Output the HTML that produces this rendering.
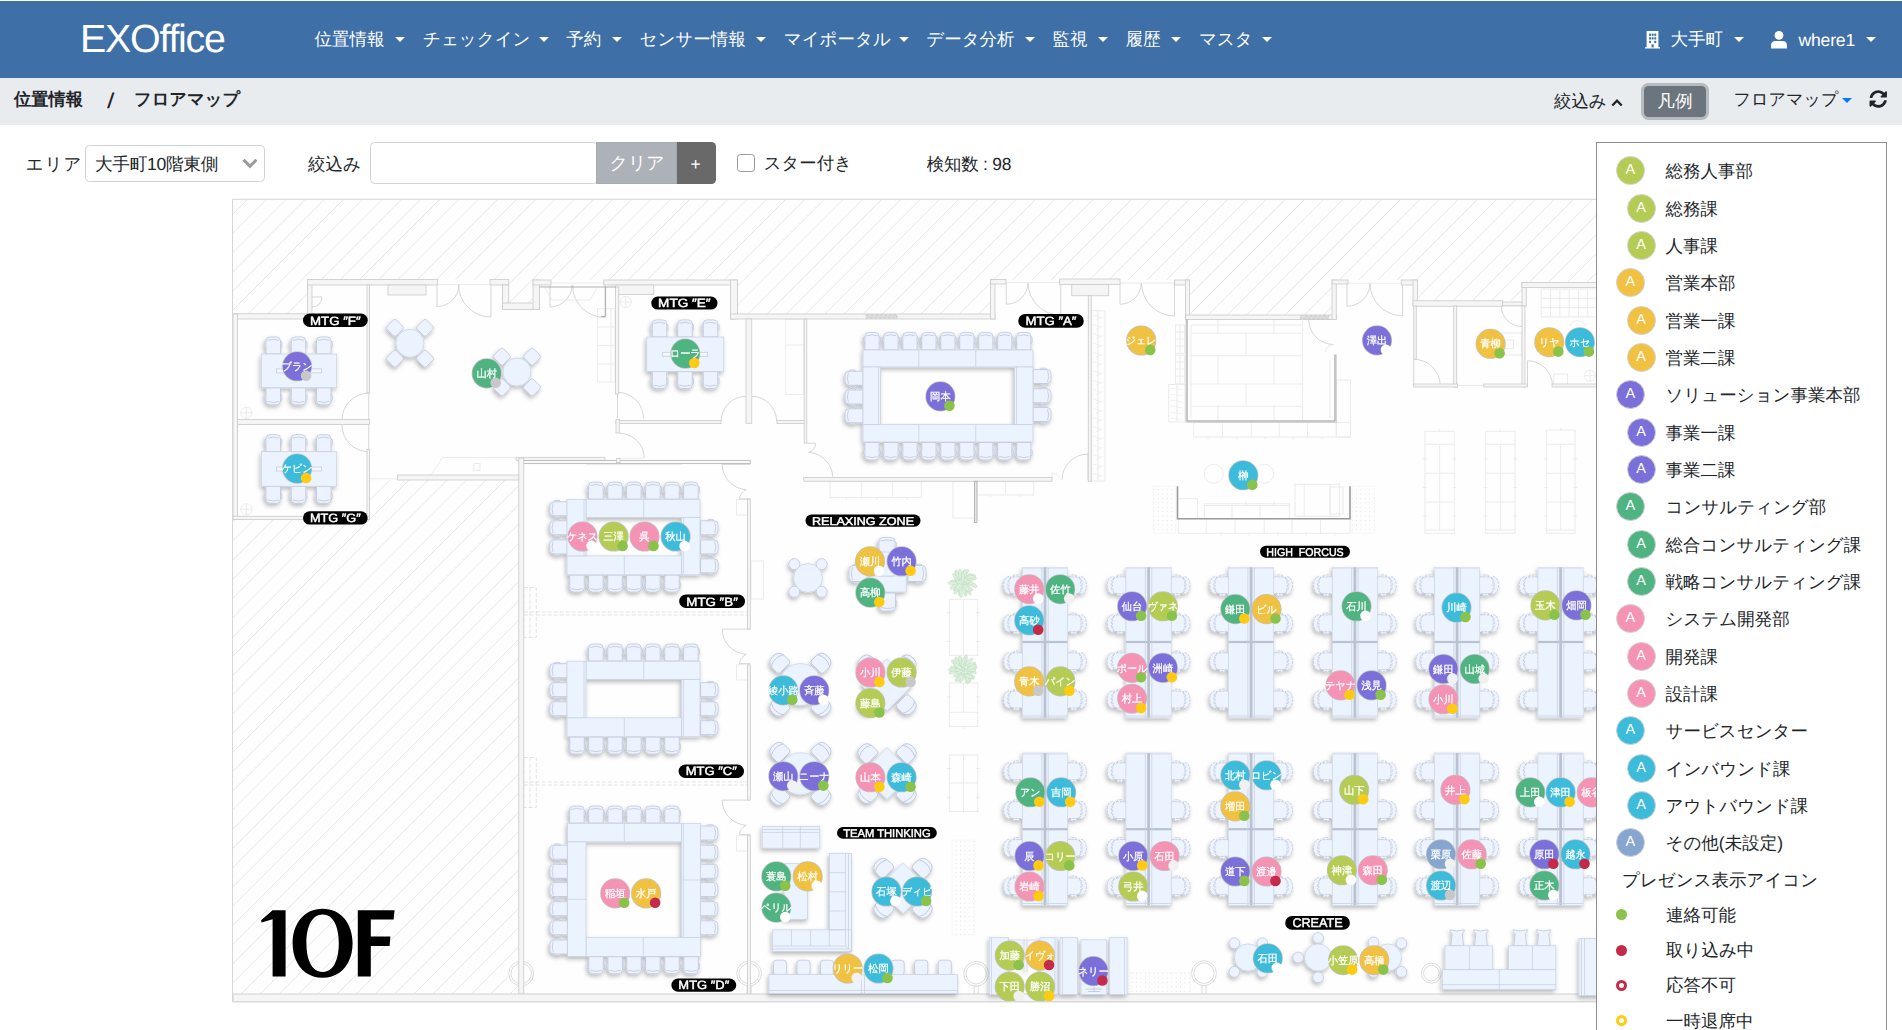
<!DOCTYPE html>
<html lang="ja"><head><meta charset="utf-8"><title>EXOffice フロアマップ</title>
<style>
*{box-sizing:border-box}
html,body{margin:0;padding:0}
body{text-rendering:geometricPrecision;width:1902px;height:1030px;overflow:hidden;background:#fff;position:relative;font-family:"Liberation Sans",sans-serif;color:#212529}
#nav{position:absolute;left:0;top:1px;width:1902px;height:77px;background:#3e6fa6}
#crumb{position:absolute;left:0;top:78px;width:1902px;height:46.5px;background:#e9ecef}
span{position:absolute;white-space:nowrap;line-height:20px;height:20px}
.nv{color:#fff}
.b{font-weight:bold}
.caret{position:absolute;width:0;height:0;border-left:5px solid transparent;border-right:5px solid transparent;border-top:5px solid #fff}
#brand{position:absolute;left:80px;top:16.6px;font-size:39.4px;line-height:44px;height:44px;color:#fff;letter-spacing:-1.25px;font-weight:normal}
.box{position:absolute;background:#fff;border:1px solid #ced4da;border-radius:4.5px}
#clear{position:absolute;left:596px;top:142px;width:80.5px;height:41.5px;background:#adb2b9;border:1px solid #a6abb2}
#plus{position:absolute;left:676.5px;top:142px;width:39px;height:41.5px;background:#696969;border-radius:0 4.5px 4.5px 0}
#chk{position:absolute;left:737px;top:154px;width:17.5px;height:17.5px;border:1px solid #9a9a9a;border-radius:3.5px;background:#fff}
#legbtn{position:absolute;left:1643.5px;top:85.5px;width:62.5px;height:31px;background:#6c757d;border-radius:4.5px;box-shadow:0 0 0 3px rgba(130,138,145,.5)}
#legend{position:absolute;left:1596px;top:142px;width:290.5px;height:900px;background:#fff;border:1px solid #8e8e8e}
#map{position:absolute;left:0;top:0}
.lc{position:absolute;width:29px;height:29px;border-radius:50%;border:1px solid #d2d2d2;color:#fff;font-size:14.5px;line-height:26.5px;text-align:center;font-weight:normal}
.sd{position:absolute;width:11px;height:11px;border-radius:50%}
</style></head><body>
<div id="nav"></div>
<div id="brand">EXOffice</div>
<span class="nv" style="left:314.5px;top:29.15px;font-size:17.5px;">位置情報</span>
<i class="caret" style="left:395px;top:37.2px;border-top-color:#fff"></i>
<span class="nv" style="left:423px;top:29.15px;font-size:17.5px;">チェックイン</span>
<i class="caret" style="left:538.75px;top:37.2px;border-top-color:#fff"></i>
<span class="nv" style="left:566.25px;top:29.15px;font-size:17.5px;">予約</span>
<i class="caret" style="left:612px;top:37.2px;border-top-color:#fff"></i>
<span class="nv" style="left:639.5px;top:29.15px;font-size:17.5px;">センサー情報</span>
<i class="caret" style="left:755.5px;top:37.2px;border-top-color:#fff"></i>
<span class="nv" style="left:783.75px;top:29.15px;font-size:17.5px;">マイポータル</span>
<i class="caret" style="left:898.75px;top:37.2px;border-top-color:#fff"></i>
<span class="nv" style="left:926.25px;top:29.15px;font-size:17.5px;">データ分析</span>
<i class="caret" style="left:1024.5px;top:37.2px;border-top-color:#fff"></i>
<span class="nv" style="left:1052.5px;top:29.15px;font-size:17.5px;">監視</span>
<i class="caret" style="left:1097.5px;top:37.2px;border-top-color:#fff"></i>
<span class="nv" style="left:1125.5px;top:29.15px;font-size:17.5px;">履歴</span>
<i class="caret" style="left:1171px;top:37.2px;border-top-color:#fff"></i>
<span class="nv" style="left:1199px;top:29.15px;font-size:17.5px;">マスタ</span>
<i class="caret" style="left:1262px;top:37.2px;border-top-color:#fff"></i>
<svg style="position:absolute;left:1645px;top:31px" width="15" height="17.5" viewBox="0 0 15 17.5"><path d="M1.6 0H13.4V16.3H15V17.5H0V16.3H1.6Z" fill="#fff"/><g fill="#3e6fa6"><rect x="4.1" y="2.6" width="1.9" height="2.3"/><rect x="6.7" y="2.6" width="1.9" height="2.3"/><rect x="9.3" y="2.6" width="1.9" height="2.3"/><rect x="4.1" y="6.2" width="1.9" height="2.3"/><rect x="6.7" y="6.2" width="1.9" height="2.3"/><rect x="9.3" y="6.2" width="1.9" height="2.3"/><rect x="4.1" y="9.8" width="1.9" height="2.3"/><rect x="9.3" y="9.8" width="1.9" height="2.3"/><rect x="6.5" y="13.4" width="2.2" height="3"/></g></svg>
<span class="nv" style="left:1670.5px;top:29.15px;font-size:17.5px;">大手町</span>
<i class="caret" style="left:1734px;top:37.2px;border-top-color:#fff"></i>
<svg style="position:absolute;left:1770.5px;top:31px" width="16" height="17.5" viewBox="0 0 16 17.5"><circle cx="8" cy="4.4" r="4.4" fill="#fff"/><path d="M0 17.5V14.6Q0 10 4.6 10H11.4Q16 10 16 14.6V17.5Z" fill="#fff"/></svg>
<span class="nv" style="left:1798.5px;top:29.59px;font-size:17.6px;letter-spacing:-0.2px">where1</span>
<i class="caret" style="left:1866px;top:37.2px;border-top-color:#fff"></i>
<div id="crumb"></div>
<span class="b" style="left:14px;top:88.97px;font-size:17.3px;">位置情報</span>
<span class="b" style="left:107.2px;top:90.93px;font-size:21.5px;font-weight:normal;transform:scaleX(1.25);transform-origin:left">/</span>
<span class="b" style="left:134px;top:88.97px;font-size:17.3px;">フロアマップ</span>
<span style="left:1554px;top:90.91px;font-size:17.4px;">絞込み</span>
<svg style="position:absolute;left:1611px;top:97.5px" width="12" height="9" viewBox="0 0 12 9"><path d="M1.3 7.5L6 2.6L10.7 7.5" fill="none" stroke="#212529" stroke-width="2.3"/></svg>
<div id="legbtn"></div>
<span class="nv" style="left:1657.3px;top:90.99px;font-size:17.6px;">凡例</span>
<span style="left:1733.5px;top:90.08px;font-size:17.1px;">フロアマップ</span>
<i class="caret" style="left:1841.5px;top:98px;border-top-color:#007bff"></i>
<svg style="position:absolute;left:1869px;top:90px" width="18.5" height="18" viewBox="0 0 512 512"><path fill="#212529" d="M370.7 133.3C339.5 104 298.9 88 255.8 88c-77.5.1-144.3 53.2-162.8 126.900-1.300 5.400-6.100 9.200-11.700 9.200H24.100c-7.500 0-13.200-6.800-11.800-14.200C33.900 94.900 134.800 8 256 8c66.400 0 126.800 26.100 171.300 68.700L463 41C478.100 25.900 504 36.600 504 57.900V192c0 13.300-10.700 24-24 24H345.900c-21.400 0-32.100-25.900-17-41l41.800-41.700zM32 296h134.100c21.400 0 32.100 25.900 17 41l-41.800 41.800c31.300 29.300 71.800 45.300 114.900 45.300 77.400-.1 144.300-53.100 162.800-126.800 1.300-5.400 6.100-9.200 11.700-9.200h57.300c7.500 0 13.200 6.800 11.800 14.200C478.100 417.100 377.200 504 256 504c-66.400 0-126.800-26.100-171.300-68.700L49 471c-15.100 15.100-41 4.400-41-16.900V320c0-13.300 10.700-24 24-24z"/></svg>
<span style="left:25.8px;top:153.91px;font-size:17.4px;letter-spacing:1.1px">エリア</span>
<div class="box" style="left:84.5px;top:145px;width:180px;height:36.5px"></div>
<span style="left:95px;top:153.79px;font-size:17.6px;letter-spacing:-0.25px">大手町10階東側</span>
<svg style="position:absolute;left:242px;top:157.5px" width="16" height="11" viewBox="0 0 16 11"><path d="M1.6 1.8L8 8.4L14.4 1.8" fill="none" stroke="#9a9a9a" stroke-width="3"/></svg>
<span style="left:308px;top:153.85px;font-size:17.5px;">絞込み</span>
<div class="box" style="left:370px;top:142px;width:228px;height:41.5px"></div>
<div id="clear"></div>
<span class="nv" style="left:609.5px;top:152.76px;font-size:18px;">クリア</span>
<div id="plus"></div>
<span class="nv" style="left:690.6px;top:154.05px;font-size:17.5px;">+</span>
<div id="chk"></div>
<span style="left:763.75px;top:153.11px;font-size:17.4px;">スター付き</span>
<span style="left:926.75px;top:153.51px;font-size:17.4px;letter-spacing:-0.2px">検知数 : 98</span>
<svg id="map" width="1902" height="1030" viewBox="0 0 1902 1030">
<defs>
<clipPath id="mapclip"><rect x="232.5" y="199" width="1364" height="803.5"/></clipPath>
<clipPath id="hatchclip"><polygon points="233,199.5 1600,199.5 1600,282.5 1522,282.5 1522,300.75 1417.5,300.75 1417.5,280 1332,280 1332,315 1189.5,315 1189.5,280 990.5,280 990.5,314 737.5,314 737.5,280 533,280 533,303 508.75,303 508.75,279.5 307.5,279.5 307.5,313.75 233,313.75"/><polygon points="233,519.5 369.5,519.5 369.5,480 519,480 519,994 233,994"/></clipPath>
<pattern id="dots" width="4.4" height="4.4" patternUnits="userSpaceOnUse"><rect x="0.8" y="0.8" width="1" height="1" fill="#e0e0e0"/></pattern>
<filter id="sh" x="-5%" y="-5%" width="110%" height="110%"><feDropShadow dx="-1.2" dy="2.4" stdDeviation="2.2" flood-color="#000" flood-opacity=".27"/></filter>
</defs>
<style>
.w{fill:#f6f5f5;stroke:#cacaca;stroke-width:.8}
.w3{fill:#fafafa;stroke:#b5b5b5;stroke-width:.85}
.w2{fill:#e6e6e6;stroke:#a9a9a9;stroke-width:.8}
.wb{fill:#f5f5f5;stroke:#d2d2d2;stroke-width:1}
.mk{fill:#dcdcdc;stroke:#bdbdbd;stroke-width:.6;stroke-dasharray:3 1.5}
.t{fill:none;stroke:#e9e9e9;stroke-width:.9}
.t3{fill:none;stroke:#eeeeee;stroke-width:.8}
.td{fill:none;stroke:#e0e0e0;stroke-width:.9;stroke-dasharray:4 2}
.dot{fill:url(#dots);stroke:#ececec;stroke-width:.7;stroke-dasharray:1.5 1.5}
.col{fill:#fff;stroke:#dcdcdc;stroke-width:1}
.dr{fill:none;stroke:#cfcfcf;stroke-width:.85}
.dk{fill:none;stroke:#909090;stroke-width:1}
.dk4{fill:none;stroke:#a8a8a8;stroke-width:.9}
.dk2{fill:none;stroke:#c4c4c4;stroke-width:.8}
.dk3{fill:none;stroke:#9b9b9b;stroke-width:1.6}
.fu{fill:#ebf3fe;stroke:#c5cee2;stroke-width:.7}
.dk_{fill:#ebf3fe;stroke:#cdd5e6;stroke-width:.6}
.dtop{fill:#dde3ef}
.fu2{fill:#f3f6fc;stroke:#c3c9d6;stroke-width:.7}
.fl{fill:none;stroke:#c5cde0;stroke-width:.7}
.ch{fill:#ecf3fe;stroke:#b3bdd2;stroke-width:.65}
.chl{fill:none;stroke:#b3bdd2;stroke-width:.65}
.chd{fill:none;stroke:#b3bdd2;stroke-width:.65;stroke-dasharray:2.2 1.3}
.part{fill:#bac1d0}
.oc{fill:#eef4fe;stroke:#b4bdd0;stroke-width:.65;stroke-dasharray:2.6 1}
.pl ellipse{fill:#dcf1dc;stroke:#bad6be;stroke-width:.45}
.lb{fill:#000}
.lt{fill:#fff;stroke:#fff;stroke-width:.45;font-weight:normal;text-anchor:middle;font-family:"Liberation Sans",sans-serif}
.floor{fill:#000;font-weight:bold;font-size:92px;font-family:"Liberation Sans",sans-serif}
.pc{stroke:#c2c2c2;stroke-width:1.5;paint-order:stroke}
.pn{fill:#fff;stroke:#fff;stroke-width:.25;font-size:10.4px;text-anchor:middle;font-family:"Liberation Sans",sans-serif}
</style>
<g clip-path="url(#mapclip)">
<rect x="232.5" y="199" width="1364" height="803.5" fill="#fefefe"/>
<g clip-path="url(#hatchclip)"><path d="M-1331.9 1010L-511.9 190M-1312.68 1010L-492.68 190M-1293.46 1010L-473.46 190M-1274.24 1010L-454.24 190M-1255.02 1010L-435.02 190M-1235.8 1010L-415.8 190M-1216.58 1010L-396.58 190M-1197.36 1010L-377.36 190M-1178.14 1010L-358.14 190M-1158.92 1010L-338.92 190M-1139.7 1010L-319.7 190M-1120.48 1010L-300.48 190M-1101.26 1010L-281.26 190M-1082.04 1010L-262.04 190M-1062.82 1010L-242.82 190M-1043.6 1010L-223.6 190M-1024.38 1010L-204.38 190M-1005.16 1010L-185.16 190M-985.94 1010L-165.94 190M-966.72 1010L-146.72 190M-947.5 1010L-127.5 190M-928.28 1010L-108.28 190M-909.06 1010L-89.06 190M-889.84 1010L-69.84 190M-870.62 1010L-50.62 190M-851.4 1010L-31.4 190M-832.18 1010L-12.18 190M-812.96 1010L7.04 190M-793.74 1010L26.26 190M-774.52 1010L45.48 190M-755.3 1010L64.7 190M-736.08 1010L83.92 190M-716.86 1010L103.14 190M-697.64 1010L122.36 190M-678.42 1010L141.58 190M-659.2 1010L160.8 190M-639.98 1010L180.02 190M-620.76 1010L199.24 190M-601.54 1010L218.46 190M-582.32 1010L237.68 190M-563.1 1010L256.9 190M-543.88 1010L276.12 190M-524.66 1010L295.34 190M-505.44 1010L314.56 190M-486.22 1010L333.78 190M-467 1010L353 190M-447.78 1010L372.22 190M-428.56 1010L391.44 190M-409.34 1010L410.66 190M-390.12 1010L429.88 190M-370.9 1010L449.1 190M-351.68 1010L468.32 190M-332.46 1010L487.54 190M-313.24 1010L506.76 190M-294.02 1010L525.98 190M-274.8 1010L545.2 190M-255.58 1010L564.42 190M-236.36 1010L583.64 190M-217.14 1010L602.86 190M-197.92 1010L622.08 190M-178.7 1010L641.3 190M-159.48 1010L660.52 190M-140.26 1010L679.74 190M-121.04 1010L698.96 190M-101.82 1010L718.18 190M-82.6 1010L737.4 190M-63.38 1010L756.62 190M-44.16 1010L775.84 190M-24.94 1010L795.06 190M-5.72 1010L814.28 190M13.5 1010L833.5 190M32.72 1010L852.72 190M51.94 1010L871.94 190M71.16 1010L891.16 190M90.38 1010L910.38 190M109.6 1010L929.6 190M128.82 1010L948.82 190M148.04 1010L968.04 190M167.26 1010L987.26 190M186.48 1010L1006.48 190M205.7 1010L1025.7 190M224.92 1010L1044.92 190M244.14 1010L1064.14 190M263.36 1010L1083.36 190M282.58 1010L1102.58 190M301.8 1010L1121.8 190M321.02 1010L1141.02 190M340.24 1010L1160.24 190M359.46 1010L1179.46 190M378.68 1010L1198.68 190M397.9 1010L1217.9 190M417.12 1010L1237.12 190M436.34 1010L1256.34 190M455.56 1010L1275.56 190M474.78 1010L1294.78 190M494 1010L1314 190M513.22 1010L1333.22 190M532.44 1010L1352.44 190M551.66 1010L1371.66 190M570.88 1010L1390.88 190M590.1 1010L1410.1 190M609.32 1010L1429.32 190M628.54 1010L1448.54 190M647.76 1010L1467.76 190M666.98 1010L1486.98 190M686.2 1010L1506.2 190M705.42 1010L1525.42 190M724.64 1010L1544.64 190M743.86 1010L1563.86 190M763.08 1010L1583.08 190M782.3 1010L1602.3 190M801.52 1010L1621.52 190M820.74 1010L1640.74 190M839.96 1010L1659.96 190M859.18 1010L1679.18 190M878.4 1010L1698.4 190M897.62 1010L1717.62 190M916.84 1010L1736.84 190M936.06 1010L1756.06 190M955.28 1010L1775.28 190M974.5 1010L1794.5 190M993.72 1010L1813.72 190M1012.94 1010L1832.94 190M1032.16 1010L1852.16 190M1051.38 1010L1871.38 190M1070.6 1010L1890.6 190M1089.82 1010L1909.82 190M1109.04 1010L1929.04 190M1128.26 1010L1948.26 190M1147.48 1010L1967.48 190M1166.7 1010L1986.7 190M1185.92 1010L2005.92 190M1205.14 1010L2025.14 190M1224.36 1010L2044.36 190M1243.58 1010L2063.58 190M1262.8 1010L2082.8 190M1282.02 1010L2102.02 190M1301.24 1010L2121.24 190M1320.46 1010L2140.46 190M1339.68 1010L2159.68 190M1358.9 1010L2178.9 190M1378.12 1010L2198.12 190M1397.34 1010L2217.34 190M1416.56 1010L2236.56 190M1435.78 1010L2255.78 190M1455 1010L2275 190M1474.22 1010L2294.22 190M1493.44 1010L2313.44 190M1512.66 1010L2332.66 190M1531.88 1010L2351.88 190M1551.1 1010L2371.1 190M1570.32 1010L2390.32 190M1589.54 1010L2409.54 190M1608.76 1010L2428.76 190" fill="none" stroke="#e3e3e3" stroke-width=".9"/></g>
<g><path d="M586 464.6L682 464.6" class="t"/><path d="M617.6 458.3L644.2 458.3" class="t"/><path d="M370 478.75L397.5 478.75" class="t"/><path d="M431.25 475L442.5 457.5H516" class="t"/><rect x="473.75" y="463.5" width="6.25" height="7" class="t"/><path d="M523.75 612H748M523.75 615H748" class="td"/><path d="M523.75 782H748M523.75 785H748" class="td"/><rect x="523.75" y="587.5" width="12.5" height="50" class="td"/><path d="M530 587.5L530 637.5" class="td"/><rect x="523.75" y="757.5" width="12.5" height="50" class="td"/><path d="M530 757.5L530 807.5" class="td"/><rect x="736.5" y="499.6" width="11" height="15.4" class="t"/><rect x="736.5" y="664.8" width="11" height="15.2" class="t"/><rect x="736.5" y="835.7" width="11" height="15.3" class="t"/><rect x="751" y="561" width="12.5" height="38" class="t"/><rect x="785.75" y="319" width="18" height="75.5" class="t"/><path d="M785.75 345L803.75 345" class="t"/><rect x="597.5" y="308.75" width="17.5" height="73.25" class="t"/><path d="M597.5 327L615 327" class="t"/><path d="M597.5 345.5L615 345.5" class="t"/><path d="M597.5 364L615 364" class="t"/><path d="M611 308.75L611 382" class="t"/><rect x="1091.25" y="310.75" width="13.75" height="170.25" class="t"/><path d="M1093 315L1101 318M1096 320L1103 317" class="t3"/><path d="M1093 324.3L1101 327.3M1096 329.3L1103 326.3" class="t3"/><path d="M1093 333.6L1101 336.6M1096 338.6L1103 335.6" class="t3"/><path d="M1093 342.9L1101 345.9M1096 347.9L1103 344.9" class="t3"/><path d="M1093 352.2L1101 355.2M1096 357.2L1103 354.2" class="t3"/><path d="M1093 361.5L1101 364.5M1096 366.5L1103 363.5" class="t3"/><path d="M1093 370.8L1101 373.8M1096 375.8L1103 372.8" class="t3"/><path d="M1093 380.1L1101 383.1M1096 385.1L1103 382.1" class="t3"/><path d="M1093 389.4L1101 392.4M1096 394.4L1103 391.4" class="t3"/><path d="M1093 398.7L1101 401.7M1096 403.7L1103 400.7" class="t3"/><path d="M1093 408L1101 411M1096 413L1103 410" class="t3"/><path d="M1093 417.3L1101 420.3M1096 422.3L1103 419.3" class="t3"/><path d="M1093 426.6L1101 429.6M1096 431.6L1103 428.6" class="t3"/><path d="M1093 435.9L1101 438.9M1096 440.9L1103 437.9" class="t3"/><path d="M1093 445.2L1101 448.2M1096 450.2L1103 447.2" class="t3"/><path d="M1093 454.5L1101 457.5M1096 459.5L1103 456.5" class="t3"/><path d="M1093 463.8L1101 466.8M1096 468.8L1103 465.8" class="t3"/><path d="M1093 473.1L1101 476.1M1096 478.1L1103 475.1" class="t3"/><path d="M1098 310.75L1098 481" class="t"/><rect x="1175.5" y="325" width="9" height="28.25" class="t"/><path d="M1180 325L1180 353.25" class="t"/><path d="M1175.5 332.06L1184.5 332.06" class="t"/><path d="M1175.5 339.12L1184.5 339.12" class="t"/><path d="M1175.5 346.18L1184.5 346.18" class="t"/><rect x="1175.5" y="355" width="9" height="28.25" class="t"/><path d="M1180 355L1180 383.25" class="t"/><path d="M1175.5 362.06L1184.5 362.06" class="t"/><path d="M1175.5 369.12L1184.5 369.12" class="t"/><path d="M1175.5 376.18L1184.5 376.18" class="t"/><rect x="1168.75" y="384.5" width="16.25" height="37.5" class="t"/><path d="M1170 388L1183 390" class="t3"/><path d="M1170 394L1183 396" class="t3"/><path d="M1170 400L1183 402" class="t3"/><path d="M1170 406L1183 408" class="t3"/><path d="M1170 412L1183 414" class="t3"/><path d="M1170 418L1183 420" class="t3"/><path d="M1177 384.5L1177 422" class="t"/><path d="M1191 333.25L1302.5 333.25" class="t"/><path d="M1191 355.75L1302.5 355.75" class="t"/><path d="M1191 384L1302.5 384" class="t"/><path d="M1191 406.25L1302.5 406.25" class="t"/><path d="M1191 325L1191 418" class="t"/><path d="M1302.5 319.5L1302.5 418" class="t"/><path d="M1330 360L1330 418" class="t"/><path d="M1191 325L1302.5 325" class="t"/><path d="M1218 319.5L1218 333" class="t"/><path d="M1246 333L1246 356" class="t"/><path d="M1274 319.5L1274 333" class="t"/><path d="M1218 356L1218 384" class="t"/><path d="M1274 356L1274 384" class="t"/><path d="M1246 384L1246 406" class="t"/><path d="M1218 406L1218 420" class="t"/><path d="M1274 406L1274 420" class="t"/><path d="M1302.5 406L1302.5 420" class="t"/><rect x="1193.75" y="422.5" width="156.75" height="14.5" class="t"/><path d="M1222.5 422.5L1222.5 437" class="t"/><path d="M1251.25 422.5L1251.25 437" class="t"/><path d="M1279.25 422.5L1279.25 437" class="t"/><path d="M1307.5 422.5L1307.5 437" class="t"/><path d="M1336.25 422.5L1336.25 437" class="t"/><rect x="1336.25" y="380" width="14.25" height="57" class="t"/><path d="M1208 437L1208 439" class="t"/><path d="M1236.5 437L1236.5 439" class="t"/><path d="M1265 437L1265 439" class="t"/><path d="M1293.5 437L1293.5 439" class="t"/><path d="M1322 437L1322 439" class="t"/><rect x="1177.5" y="498.75" width="20" height="20" class="t"/><rect x="1204.25" y="503.75" width="85" height="15" class="t"/><path d="M1232 503.75L1232 518.75" class="t"/><path d="M1260 503.75L1260 518.75" class="t"/><path d="M1204.25 505.5L1289.25 505.5" class="t"/><path d="M1246 501.5L1246 505.5" class="t"/><path d="M1274 501.5L1274 505.5" class="t"/><rect x="1295" y="484.25" width="44.5" height="32" class="t"/><path d="M1304.25 484.25L1304.25 516.25" class="t"/><path d="M1330 484.25L1330 516.25" class="t"/><rect x="1330" y="487" width="13" height="27" class="t"/><rect x="1178.25" y="518.75" width="171.75" height="14.5" class="t"/><path d="M1206.25 518.75L1206.25 533.25" class="t"/><path d="M1235 518.75L1235 533.25" class="t"/><path d="M1264.25 518.75L1264.25 533.25" class="t"/><path d="M1292 518.75L1292 533.25" class="t"/><path d="M1320.5 518.75L1320.5 533.25" class="t"/><path d="M1221 533.25L1221 535.5" class="t"/><path d="M1249 533.25L1249 535.5" class="t"/><path d="M1278 533.25L1278 535.5" class="t"/><path d="M1306 533.25L1306 535.5" class="t"/><path d="M1335 533.25L1335 535.5" class="t"/><rect x="1153.25" y="486.25" width="22.5" height="47" class="dot"/><rect x="1352" y="486.25" width="22.5" height="47" class="dot"/><rect x="952" y="840" width="22.8" height="95" class="dot"/><rect x="1130" y="972.5" width="60.5" height="21.5" class="dot"/><circle cx="1213.75" cy="473.75" r="9.5" class="t"/><circle cx="1264.25" cy="473.75" r="9.5" class="t"/><rect x="1425" y="431.25" width="29.25" height="102" class="t"/><path d="M1439.62 444.25L1439.62 530" class="t"/><path d="M1425 444.25L1454.25 444.25" class="t"/><path d="M1425 473.25L1454.25 473.25" class="t"/><path d="M1425 502L1454.25 502" class="t"/><path d="M1425 530L1454.25 530" class="t"/><path d="M1423 458.75L1426.5 458.75" class="t"/><path d="M1452.75 458.75L1456.25 458.75" class="t"/><path d="M1423 487.5L1426.5 487.5" class="t"/><path d="M1452.75 487.5L1456.25 487.5" class="t"/><path d="M1423 516L1426.5 516" class="t"/><path d="M1452.75 516L1456.25 516" class="t"/><path d="M1439.62 429.25L1439.62 432.25" class="t"/><rect x="1485.75" y="431.25" width="29.25" height="102" class="t"/><path d="M1500.38 444.25L1500.38 530" class="t"/><path d="M1485.75 444.25L1515 444.25" class="t"/><path d="M1485.75 473.25L1515 473.25" class="t"/><path d="M1485.75 502L1515 502" class="t"/><path d="M1485.75 530L1515 530" class="t"/><path d="M1483.75 458.75L1487.25 458.75" class="t"/><path d="M1513.5 458.75L1517 458.75" class="t"/><path d="M1483.75 487.5L1487.25 487.5" class="t"/><path d="M1513.5 487.5L1517 487.5" class="t"/><path d="M1483.75 516L1487.25 516" class="t"/><path d="M1513.5 516L1517 516" class="t"/><path d="M1500.38 429.25L1500.38 432.25" class="t"/><rect x="1546.25" y="430" width="28.75" height="103.25" class="t"/><path d="M1560.62 444.25L1560.62 530" class="t"/><path d="M1546.25 444.25L1575 444.25" class="t"/><path d="M1546.25 473.25L1575 473.25" class="t"/><path d="M1546.25 502L1575 502" class="t"/><path d="M1546.25 530L1575 530" class="t"/><path d="M1544.25 458.75L1547.75 458.75" class="t"/><path d="M1573.5 458.75L1577 458.75" class="t"/><path d="M1544.25 487.5L1547.75 487.5" class="t"/><path d="M1573.5 487.5L1577 487.5" class="t"/><path d="M1544.25 516L1547.75 516" class="t"/><path d="M1573.5 516L1577 516" class="t"/><path d="M1560.62 428L1560.62 431" class="t"/><path d="M1541.25 289L1541.25 317" class="t"/><path d="M1550.55 289L1550.55 317" class="t"/><path d="M1559.85 289L1559.85 317" class="t"/><path d="M1569.15 289L1569.15 317" class="t"/><path d="M1578.45 289L1578.45 317" class="t"/><path d="M1587.75 289L1587.75 317" class="t"/><path d="M1597.05 289L1597.05 317" class="t"/><path d="M1541.25 289L1600 289" class="t"/><path d="M1541.25 298.33L1600 298.33" class="t"/><path d="M1541.25 307.66L1600 307.66" class="t"/><path d="M1541.25 316.99L1600 316.99" class="t"/><rect x="1501" y="333" width="21" height="22" class="t"/><rect x="1505" y="340" width="8.5" height="8.5" class="t"/><rect x="1553.75" y="374" width="13.75" height="11" class="t"/><path d="M1570 326A8 8 0 0 1 1585 326" class="t"/><rect x="830" y="481.25" width="91.25" height="16.25" class="t"/><path d="M861.75 481.25L861.75 497.5" class="t"/><path d="M892.5 481.25L892.5 497.5" class="t"/><path d="M846 497.5L846 499.5" class="t"/><path d="M877 497.5L877 499.5" class="t"/><path d="M907 497.5L907 499.5" class="t"/><rect x="953" y="481.25" width="22" height="36.75" class="t"/><rect x="975" y="481.25" width="58.75" height="13.75" class="t"/><path d="M1005.5 481.25L1005.5 495" class="t"/><path d="M990 495L990 497" class="t"/><path d="M1020 495L1020 497" class="t"/><rect x="949.3" y="599.3" width="28.5" height="56" class="t"/><path d="M963.5 599.3L963.5 655.3" class="t"/><rect x="949.3" y="682.9" width="28.5" height="43.7" class="t"/><path d="M963.5 682.9L963.5 712.3" class="t"/><path d="M949.3 712.3L977.8 712.3" class="t"/><rect x="949.3" y="755" width="28.5" height="56.5" class="t"/><path d="M963.5 755L963.5 811.5" class="t"/><path d="M949.3 783L977.8 783" class="t"/><path d="M947 612.5L951 612.5" class="t"/><path d="M976 612.5L980 612.5" class="t"/><path d="M947 641.5L951 641.5" class="t"/><path d="M976 641.5L980 641.5" class="t"/><path d="M947 697L951 697" class="t"/><path d="M976 697L980 697" class="t"/><path d="M947 768.5L951 768.5" class="t"/><path d="M976 768.5L980 768.5" class="t"/><path d="M947 797.6L951 797.6" class="t"/><path d="M976 797.6L980 797.6" class="t"/><path d="M963.5 726.6L963.5 729" class="t"/><circle cx="246.4" cy="412.8" r="5.6" class="t"/><path d="M240.8 412.8L252 412.8" class="t"/><path d="M246.4 407.2L246.4 418.4" class="t"/><circle cx="246.4" cy="509.25" r="5.6" class="t"/><path d="M240.8 509.25L252 509.25" class="t"/><path d="M246.4 503.65L246.4 514.85" class="t"/><circle cx="625.75" cy="302" r="5.6" class="t"/><path d="M620.15 302L631.35 302" class="t"/><path d="M625.75 296.4L625.75 307.6" class="t"/><circle cx="1590" cy="375.75" r="5.6" class="t"/><path d="M1584.4 375.75L1595.6 375.75" class="t"/><path d="M1590 370.15L1590 381.35" class="t"/><circle cx="521.2" cy="973.5" r="12.4" class="col"/><circle cx="521.2" cy="973.5" r="10.2" class="col"/><rect x="519.2" y="985.9" width="4" height="8.1" class="col"/><circle cx="749.1" cy="973.5" r="12.4" class="col"/><circle cx="749.1" cy="973.5" r="10.2" class="col"/><rect x="747.1" y="985.9" width="4" height="8.1" class="col"/><circle cx="976.2" cy="973.8" r="12.4" class="col"/><circle cx="976.2" cy="973.8" r="10.2" class="col"/><rect x="974.2" y="986.2" width="4" height="7.8" class="col"/><circle cx="1204" cy="973.2" r="12.4" class="col"/><circle cx="1204" cy="973.2" r="10.2" class="col"/><rect x="1202" y="985.6" width="4" height="8.4" class="col"/><circle cx="1431.4" cy="973.2" r="10" class="col"/><circle cx="1431.4" cy="973.2" r="7.8" class="col"/><path d="M437 284.5L437 306.5A22 22 0 0 0 459 284.5" class="dr"/><path d="M491 284.5L491 317A32.5 32.5 0 0 1 458.5 284.5" class="dr"/><path d="M550 285L550 307A22 22 0 0 0 572 285" class="dr"/><path d="M605 285L605 317.5A32.5 32.5 0 0 1 572.5 285" class="dr"/><path d="M539.5 283L605 283" class="t"/><path d="M545 288L552 300H590L597 288" class="t"/><path d="M1006.25 282.5L1006.25 304.25A21.75 21.75 0 0 0 1028 282.5" class="dr"/><path d="M1060.75 282.5L1060.75 315.25A32.75 32.75 0 0 1 1028 282.5" class="dr"/><path d="M1120 283L1120 304.25A21.25 21.25 0 0 0 1141.25 283" class="dr"/><path d="M1174.5 283L1174.5 316A33 33 0 0 1 1141.5 283" class="dr"/><path d="M1347 283.25L1347 306.25A23 23 0 0 0 1370 283.25" class="dr"/><path d="M1402.5 283.25L1402.5 315.75A32.5 32.5 0 0 1 1370 283.25" class="dr"/><path d="M437 284.5L491 284.5" class="t"/><path d="M1006.25 282.5L1060.75 282.5" class="t"/><path d="M1120 283L1174.5 283" class="t"/><path d="M1347 283.25L1402.5 283.25" class="t"/><path d="M312 297L322 297A10 10 0 0 1 312 307" class="dr"/><path d="M368.75 420L368.75 393.25A26.75 26.75 0 0 0 342 420" class="dr"/><path d="M368.75 425L368.75 451.75A26.75 26.75 0 0 1 342 425" class="dr"/><path d="M617.5 418.3L617.5 392.3A26 26 0 0 1 643.5 418.3" class="dr"/><path d="M619.6 433.4A24.6 24.6 0 0 1 644.2 458" class="dr"/><path d="M746 396.3A24.8 24.8 0 0 0 721.2 421.1" class="dr"/><path d="M751.8 396.3A24.8 24.8 0 0 1 776.6 421.1" class="dr"/><path d="M808.7 452.4A25.6 25.6 0 0 1 832.8 477.5" class="dr"/><path d="M806.8 443.2h8.5q1 6.5 -6.6 9.2" class="dr"/><path d="M1088 480L1088 454A26 26 0 0 0 1062 480" class="dr"/><path d="M1052 480v-7q5 0 8 5" class="t"/><path d="M750 464.4H722.1A25.5 25.5 0 0 0 746.3 489.6" class="dr"/><path d="M746.3 489.6q-6.5 3.5 -6.800 9.3h10.8" class="dr"/><path d="M750 629.1H722.1A25.5 25.5 0 0 0 746.3 654.3" class="dr"/><path d="M746.3 654.3q-6.5 3.5 -6.800 9.3h10.8" class="dr"/><path d="M750 800.1H722.1A25.5 25.5 0 0 0 746.3 825.3" class="dr"/><path d="M746.3 825.3q-6.5 3.5 -6.800 9.3h10.8" class="dr"/><path d="M1333.75 319.5L1308.75 319.5A25 25 0 0 0 1333.75 344.5" class="dr"/><path d="M1333.75 344.5q-8 1 -9 8" class="t"/><path d="M1413.75 385.75L1413.75 359.25A26.5 26.5 0 0 1 1440.25 385.75" class="dr"/><path d="M1522 305.75L1501.25 305.75A20.75 20.75 0 0 0 1522 326.5" class="dr"/><path d="M1527.5 385.75L1527.5 360.75A25 25 0 0 1 1552.5 385.75" class="dr"/><path d="M1457.5 385.5L1483.75 385.5" class="t"/></g>
<g><rect x="233" y="313.75" width="79" height="5.25" class="w"/><rect x="307.5" y="279.5" width="4.5" height="39.5" class="w"/><rect x="307.5" y="279.5" width="130" height="5.5" class="w"/><rect x="388" y="285" width="38" height="10" class="w"/><rect x="233" y="314" width="4.5" height="205.5" class="w"/><rect x="367" y="285" width="2.5" height="108" class="w"/><rect x="237.5" y="419.5" width="132" height="5" class="w"/><rect x="367" y="449.5" width="2.5" height="70" class="w"/><rect x="233" y="516.25" width="136.5" height="3.25" class="w"/><rect x="490" y="279.5" width="18.75" height="5.5" class="w"/><rect x="502.5" y="285" width="6.25" height="24.5" class="w"/><rect x="502.5" y="303" width="37" height="6.5" class="w"/><rect x="533" y="280" width="6.5" height="29.5" class="w"/><rect x="533" y="280" width="18" height="5" class="w"/><rect x="603.75" y="280" width="133.75" height="5" class="w"/><rect x="616" y="285" width="37.75" height="9.5" class="w"/><rect x="615.5" y="287" width="3.25" height="107" class="w"/><rect x="730.5" y="280" width="7" height="39" class="w"/><rect x="730.5" y="314" width="264.5" height="5" class="w"/><rect x="990.5" y="279.5" width="4.5" height="39.5" class="w"/><rect x="990.5" y="279.5" width="15.5" height="4.5" class="w"/><rect x="746" y="319" width="5.8" height="104.3" class="w"/><rect x="616" y="420.6" width="105" height="3" class="w"/><rect x="616" y="419.5" width="3.3" height="13.5" class="w"/><rect x="777" y="420.6" width="29.5" height="3" class="w"/><rect x="804.2" y="319" width="2.6" height="124" class="w"/><rect x="1059.5" y="279" width="60.5" height="5.5" class="w"/><rect x="1071.75" y="284.5" width="37" height="11.25" class="w"/><rect x="1088.25" y="295.75" width="3" height="185.5" class="w"/><rect x="803.75" y="477.5" width="248.25" height="3.75" class="w"/><rect x="1174.5" y="280" width="15" height="5" class="w"/><rect x="1185.5" y="280" width="4" height="39.5" class="w"/><rect x="1185.5" y="315" width="150.75" height="4.5" class="w"/><rect x="1332" y="280" width="4.25" height="39.5" class="w"/><rect x="1332" y="280" width="16" height="4" class="w"/><rect x="1401.25" y="280" width="16.25" height="5" class="w"/><rect x="1413" y="280" width="4.5" height="26.25" class="w"/><rect x="1413" y="300.75" width="89.5" height="5.5" class="w"/><rect x="1502.5" y="302" width="22.5" height="3.75" class="w"/><rect x="1522" y="282.5" width="4.25" height="23.5" class="w"/><rect x="1522" y="282.5" width="78" height="5" class="w"/><rect x="1413.75" y="306" width="2.5" height="53" class="w"/><rect x="1453.75" y="306" width="3" height="81" class="w"/><rect x="1522" y="306" width="3" height="81" class="w"/><rect x="1413.75" y="384" width="43.75" height="3" class="w"/><rect x="1483.75" y="384" width="43.75" height="3" class="w"/><rect x="1552" y="384" width="48" height="3" class="w"/><rect x="516" y="457.3" width="89" height="3.2" class="w"/><rect x="519.8" y="460.4" width="230.4" height="3.2" class="w3"/><rect x="518.75" y="458" width="5" height="536" class="w"/><rect x="397.5" y="475" width="121.25" height="5" class="w"/><rect x="747.5" y="499" width="2.8" height="130" class="w"/><rect x="747.5" y="664.8" width="2.8" height="135.2" class="w"/><rect x="747.5" y="835.7" width="2.8" height="158.3" class="w"/><rect x="233" y="994" width="1367" height="7.5" class="wb"/><rect x="974.5" y="481.25" width="2.5" height="41.25" class="w2"/><rect x="616.5" y="458.4" width="3.5" height="4.2" class="w"/></g>
<g><rect x="866" y="314.8" width="31" height="3.4" class="mk"/><rect x="1300.5" y="315.6" width="28.25" height="3.2" class="mk"/><path d="M1187 319.5V421H1335V354.5" class="dk"/><path d="M1186 319.5V422.2H1336.3V354.5" class="dk2"/><path d="M1177.5 486.25V518.75H1350V486.25" class="dk3"/><path d="M539.5 287H616M605.6 287V316.5H601" class="dk4"/></g>
<g><g class="pl"><ellipse cx="971.77" cy="584.26" rx="5" ry="1.55" transform="rotate(30.12 971.77 584.26)"/><ellipse cx="964.57" cy="584.03" rx="5" ry="1.55" transform="rotate(20.54 964.57 584.03)"/><ellipse cx="964.3" cy="584.38" rx="5" ry="1.55" transform="rotate(47.14 964.3 584.38)"/><ellipse cx="965.59" cy="591.52" rx="5" ry="1.55" transform="rotate(87.05 965.59 591.52)"/><ellipse cx="960.57" cy="587.54" rx="5" ry="1.55" transform="rotate(114.62 960.57 587.54)"/><ellipse cx="957.5" cy="588.03" rx="5" ry="1.55" transform="rotate(151.4 957.5 588.03)"/><ellipse cx="954.09" cy="585.79" rx="5" ry="1.55" transform="rotate(139.6 954.09 585.79)"/><ellipse cx="958.1" cy="582.24" rx="5" ry="1.55" transform="rotate(203.56 958.1 582.24)"/><ellipse cx="960.11" cy="580.34" rx="5" ry="1.55" transform="rotate(203.69 960.11 580.34)"/><ellipse cx="957.5" cy="575.29" rx="5" ry="1.55" transform="rotate(242.56 957.5 575.29)"/><ellipse cx="964.11" cy="575.82" rx="5" ry="1.55" transform="rotate(295.35 964.11 575.82)"/><ellipse cx="965.38" cy="573.42" rx="5" ry="1.55" transform="rotate(304.71 965.38 573.42)"/><ellipse cx="970.17" cy="577.97" rx="5" ry="1.55" transform="rotate(312.56 970.17 577.97)"/><ellipse cx="967.18" cy="581.58" rx="5" ry="1.55" transform="rotate(350.14 967.18 581.58)"/><ellipse cx="965.63" cy="584.63" rx="5" ry="1.55" transform="rotate(416.47 965.63 584.63)"/><ellipse cx="968.22" cy="590.52" rx="5" ry="1.55" transform="rotate(419 968.22 590.52)"/><ellipse cx="964.45" cy="590.29" rx="5" ry="1.55" transform="rotate(447.77 964.45 590.29)"/><ellipse cx="960.35" cy="590.49" rx="5" ry="1.55" transform="rotate(461.88 960.35 590.49)"/><ellipse cx="956.92" cy="589.87" rx="5" ry="1.55" transform="rotate(481.31 956.92 589.87)"/><ellipse cx="960.26" cy="584.95" rx="5" ry="1.55" transform="rotate(489.15 960.26 584.95)"/><ellipse cx="955.09" cy="582.08" rx="5" ry="1.55" transform="rotate(550.09 955.09 582.08)"/><ellipse cx="955.89" cy="577.82" rx="5" ry="1.55" transform="rotate(595.15 955.89 577.82)"/><ellipse cx="961.69" cy="581.33" rx="5" ry="1.55" transform="rotate(606.4 961.69 581.33)"/><ellipse cx="962.84" cy="575.45" rx="5" ry="1.55" transform="rotate(640.87 962.84 575.45)"/><ellipse cx="965.31" cy="574.43" rx="5" ry="1.55" transform="rotate(620.53 965.31 574.43)"/><ellipse cx="967.84" cy="577.38" rx="5" ry="1.55" transform="rotate(676.42 967.84 577.38)"/><ellipse cx="971.52" cy="578.71" rx="5" ry="1.55" transform="rotate(715.05 971.52 578.71)"/><ellipse cx="973.02" cy="584.63" rx="5" ry="1.55" transform="rotate(749.46 973.02 584.63)"/><ellipse cx="968.54" cy="587.73" rx="5" ry="1.55" transform="rotate(753.54 968.54 587.73)"/><ellipse cx="966.25" cy="587.91" rx="5" ry="1.55" transform="rotate(767.02 966.25 587.91)"/><ellipse cx="960.78" cy="592.69" rx="5" ry="1.55" transform="rotate(805.72 960.78 592.69)"/><ellipse cx="960.59" cy="586.27" rx="5" ry="1.55" transform="rotate(845.94 960.59 586.27)"/><ellipse cx="958.42" cy="586.18" rx="5" ry="1.55" transform="rotate(850.06 958.42 586.18)"/><ellipse cx="952.9" cy="583.03" rx="5" ry="1.55" transform="rotate(901.17 952.9 583.03)"/><ellipse cx="960.58" cy="582.36" rx="5" ry="1.55" transform="rotate(910.84 960.58 582.36)"/><ellipse cx="957.43" cy="574.76" rx="5" ry="1.55" transform="rotate(974.2 957.43 574.76)"/><ellipse cx="960.13" cy="573.95" rx="5" ry="1.55" transform="rotate(989.93 960.13 573.95)"/><ellipse cx="962.84" cy="578.65" rx="5" ry="1.55" transform="rotate(993.63 962.84 578.65)"/><ellipse cx="966.96" cy="578.1" rx="5" ry="1.55" transform="rotate(1021.36 966.96 578.1)"/><ellipse cx="970.91" cy="576.95" rx="5" ry="1.55" transform="rotate(1068.81 970.91 576.95)"/></g><g class="pl"><ellipse cx="972.12" cy="669.55" rx="5" ry="1.55" transform="rotate(-24.29 972.12 669.55)"/><ellipse cx="970.76" cy="675.07" rx="5" ry="1.55" transform="rotate(56.51 970.76 675.07)"/><ellipse cx="966.74" cy="677.07" rx="5" ry="1.55" transform="rotate(52.2 966.74 677.07)"/><ellipse cx="966.51" cy="679.19" rx="5" ry="1.55" transform="rotate(79.91 966.51 679.19)"/><ellipse cx="962.06" cy="672.26" rx="5" ry="1.55" transform="rotate(128.14 962.06 672.26)"/><ellipse cx="961.36" cy="672.31" rx="5" ry="1.55" transform="rotate(104.32 961.36 672.31)"/><ellipse cx="953.75" cy="671.47" rx="5" ry="1.55" transform="rotate(159.44 953.75 671.47)"/><ellipse cx="955.14" cy="667.49" rx="5" ry="1.55" transform="rotate(182.28 955.14 667.49)"/><ellipse cx="960.98" cy="668.35" rx="5" ry="1.55" transform="rotate(190.88 960.98 668.35)"/><ellipse cx="958.23" cy="661.56" rx="5" ry="1.55" transform="rotate(236.28 958.23 661.56)"/><ellipse cx="962.68" cy="664.87" rx="5" ry="1.55" transform="rotate(270.17 962.68 664.87)"/><ellipse cx="965.93" cy="664.28" rx="5" ry="1.55" transform="rotate(317.01 965.93 664.28)"/><ellipse cx="971.58" cy="665.75" rx="5" ry="1.55" transform="rotate(319.56 971.58 665.75)"/><ellipse cx="968.27" cy="668.45" rx="5" ry="1.55" transform="rotate(322.36 968.27 668.45)"/><ellipse cx="971.64" cy="670.94" rx="5" ry="1.55" transform="rotate(386.52 971.64 670.94)"/><ellipse cx="968.57" cy="677.7" rx="5" ry="1.55" transform="rotate(434.18 968.57 677.7)"/><ellipse cx="967.23" cy="677.44" rx="5" ry="1.55" transform="rotate(440.19 967.23 677.44)"/><ellipse cx="962.67" cy="672.8" rx="5" ry="1.55" transform="rotate(457.04 962.67 672.8)"/><ellipse cx="958.75" cy="677.23" rx="5" ry="1.55" transform="rotate(489.46 958.75 677.23)"/><ellipse cx="957.49" cy="673.65" rx="5" ry="1.55" transform="rotate(502.25 957.49 673.65)"/><ellipse cx="958.32" cy="669.12" rx="5" ry="1.55" transform="rotate(550.35 958.32 669.12)"/><ellipse cx="955.18" cy="663.62" rx="5" ry="1.55" transform="rotate(581.83 955.18 663.62)"/><ellipse cx="956.99" cy="663.42" rx="5" ry="1.55" transform="rotate(586.39 956.99 663.42)"/><ellipse cx="960.83" cy="661.6" rx="5" ry="1.55" transform="rotate(619.85 960.83 661.6)"/><ellipse cx="965.64" cy="659.68" rx="5" ry="1.55" transform="rotate(638.32 965.64 659.68)"/><ellipse cx="970.67" cy="664.77" rx="5" ry="1.55" transform="rotate(711.84 970.67 664.77)"/><ellipse cx="972.31" cy="667.54" rx="5" ry="1.55" transform="rotate(719.18 972.31 667.54)"/><ellipse cx="971.03" cy="670.02" rx="5" ry="1.55" transform="rotate(721.09 971.03 670.02)"/><ellipse cx="970.1" cy="675.84" rx="5" ry="1.55" transform="rotate(740.83 970.1 675.84)"/><ellipse cx="967.91" cy="676.09" rx="5" ry="1.55" transform="rotate(746.33 967.91 676.09)"/><ellipse cx="962.37" cy="678.2" rx="5" ry="1.55" transform="rotate(840.34 962.37 678.2)"/><ellipse cx="959.64" cy="677.99" rx="5" ry="1.55" transform="rotate(859.74 959.64 677.99)"/><ellipse cx="960.88" cy="671.02" rx="5" ry="1.55" transform="rotate(862.89 960.88 671.02)"/><ellipse cx="953" cy="669.73" rx="5" ry="1.55" transform="rotate(900.17 953 669.73)"/><ellipse cx="959.82" cy="669.25" rx="5" ry="1.55" transform="rotate(885.54 959.82 669.25)"/><ellipse cx="957.79" cy="666.25" rx="5" ry="1.55" transform="rotate(936.13 957.79 666.25)"/><ellipse cx="960.53" cy="660.97" rx="5" ry="1.55" transform="rotate(978.35 960.53 660.97)"/><ellipse cx="963.27" cy="661.78" rx="5" ry="1.55" transform="rotate(1005.88 963.27 661.78)"/><ellipse cx="968.85" cy="661.78" rx="5" ry="1.55" transform="rotate(1039.97 968.85 661.78)"/><ellipse cx="972.08" cy="667.17" rx="5" ry="1.55" transform="rotate(1053.8 972.08 667.17)"/></g></g>
<g filter="url(#sh)"><g transform="translate(273.25 345.4) rotate(0)"><rect x="-8.55" y="-4" width="1.9" height="6" rx="0.9" class="ch"/><rect x="6.65" y="-4" width="1.9" height="6" rx="0.9" class="ch"/><path d="M-7.25 8.5V-4.5Q-7.25 -8.5 -3.25 -8.5H3.25Q7.25 -8.5 7.25 -4.5V8.5Z" class="ch"/><path d="M-5.75 -5.1Q0 -7.1 5.75 -5.1" class="chl"/></g><g transform="translate(273.25 396.35) rotate(180)"><rect x="-8.55" y="-4" width="1.9" height="6" rx="0.9" class="ch"/><rect x="6.65" y="-4" width="1.9" height="6" rx="0.9" class="ch"/><path d="M-7.25 8.5V-4.5Q-7.25 -8.5 -3.25 -8.5H3.25Q7.25 -8.5 7.25 -4.5V8.5Z" class="ch"/><path d="M-5.75 -5.1Q0 -7.1 5.75 -5.1" class="chl"/></g><g transform="translate(298.5 345.4) rotate(0)"><rect x="-8.55" y="-4" width="1.9" height="6" rx="0.9" class="ch"/><rect x="6.65" y="-4" width="1.9" height="6" rx="0.9" class="ch"/><path d="M-7.25 8.5V-4.5Q-7.25 -8.5 -3.25 -8.5H3.25Q7.25 -8.5 7.25 -4.5V8.5Z" class="ch"/><path d="M-5.75 -5.1Q0 -7.1 5.75 -5.1" class="chl"/></g><g transform="translate(298.5 396.35) rotate(180)"><rect x="-8.55" y="-4" width="1.9" height="6" rx="0.9" class="ch"/><rect x="6.65" y="-4" width="1.9" height="6" rx="0.9" class="ch"/><path d="M-7.25 8.5V-4.5Q-7.25 -8.5 -3.25 -8.5H3.25Q7.25 -8.5 7.25 -4.5V8.5Z" class="ch"/><path d="M-5.75 -5.1Q0 -7.1 5.75 -5.1" class="chl"/></g><g transform="translate(323.75 345.4) rotate(0)"><rect x="-8.55" y="-4" width="1.9" height="6" rx="0.9" class="ch"/><rect x="6.65" y="-4" width="1.9" height="6" rx="0.9" class="ch"/><path d="M-7.25 8.5V-4.5Q-7.25 -8.5 -3.25 -8.5H3.25Q7.25 -8.5 7.25 -4.5V8.5Z" class="ch"/><path d="M-5.75 -5.1Q0 -7.1 5.75 -5.1" class="chl"/></g><g transform="translate(323.75 396.35) rotate(180)"><rect x="-8.55" y="-4" width="1.9" height="6" rx="0.9" class="ch"/><rect x="6.65" y="-4" width="1.9" height="6" rx="0.9" class="ch"/><path d="M-7.25 8.5V-4.5Q-7.25 -8.5 -3.25 -8.5H3.25Q7.25 -8.5 7.25 -4.5V8.5Z" class="ch"/><path d="M-5.75 -5.1Q0 -7.1 5.75 -5.1" class="chl"/></g><rect x="261.25" y="354" width="75.5" height="33.75" class="fu"/><rect x="276.5" y="368.88" width="45" height="4" class="fu2"/><g transform="translate(273.25 443.15) rotate(0)"><rect x="-8.55" y="-4" width="1.9" height="6" rx="0.9" class="ch"/><rect x="6.65" y="-4" width="1.9" height="6" rx="0.9" class="ch"/><path d="M-7.25 8.5V-4.5Q-7.25 -8.5 -3.25 -8.5H3.25Q7.25 -8.5 7.25 -4.5V8.5Z" class="ch"/><path d="M-5.75 -5.1Q0 -7.1 5.75 -5.1" class="chl"/></g><g transform="translate(273.25 494.85) rotate(180)"><rect x="-8.55" y="-4" width="1.9" height="6" rx="0.9" class="ch"/><rect x="6.65" y="-4" width="1.9" height="6" rx="0.9" class="ch"/><path d="M-7.25 8.5V-4.5Q-7.25 -8.5 -3.25 -8.5H3.25Q7.25 -8.5 7.25 -4.5V8.5Z" class="ch"/><path d="M-5.75 -5.1Q0 -7.1 5.75 -5.1" class="chl"/></g><g transform="translate(298.5 443.15) rotate(0)"><rect x="-8.55" y="-4" width="1.9" height="6" rx="0.9" class="ch"/><rect x="6.65" y="-4" width="1.9" height="6" rx="0.9" class="ch"/><path d="M-7.25 8.5V-4.5Q-7.25 -8.5 -3.25 -8.5H3.25Q7.25 -8.5 7.25 -4.5V8.5Z" class="ch"/><path d="M-5.75 -5.1Q0 -7.1 5.75 -5.1" class="chl"/></g><g transform="translate(298.5 494.85) rotate(180)"><rect x="-8.55" y="-4" width="1.9" height="6" rx="0.9" class="ch"/><rect x="6.65" y="-4" width="1.9" height="6" rx="0.9" class="ch"/><path d="M-7.25 8.5V-4.5Q-7.25 -8.5 -3.25 -8.5H3.25Q7.25 -8.5 7.25 -4.5V8.5Z" class="ch"/><path d="M-5.75 -5.1Q0 -7.1 5.75 -5.1" class="chl"/></g><g transform="translate(323.75 443.15) rotate(0)"><rect x="-8.55" y="-4" width="1.9" height="6" rx="0.9" class="ch"/><rect x="6.65" y="-4" width="1.9" height="6" rx="0.9" class="ch"/><path d="M-7.25 8.5V-4.5Q-7.25 -8.5 -3.25 -8.5H3.25Q7.25 -8.5 7.25 -4.5V8.5Z" class="ch"/><path d="M-5.75 -5.1Q0 -7.1 5.75 -5.1" class="chl"/></g><g transform="translate(323.75 494.85) rotate(180)"><rect x="-8.55" y="-4" width="1.9" height="6" rx="0.9" class="ch"/><rect x="6.65" y="-4" width="1.9" height="6" rx="0.9" class="ch"/><path d="M-7.25 8.5V-4.5Q-7.25 -8.5 -3.25 -8.5H3.25Q7.25 -8.5 7.25 -4.5V8.5Z" class="ch"/><path d="M-5.75 -5.1Q0 -7.1 5.75 -5.1" class="chl"/></g><rect x="261.25" y="451.75" width="75.5" height="34.5" class="fu"/><rect x="276.5" y="467" width="45" height="4" class="fu2"/><g transform="translate(659.5 328.4) rotate(0)"><rect x="-8.55" y="-4" width="1.9" height="6" rx="0.9" class="ch"/><rect x="6.65" y="-4" width="1.9" height="6" rx="0.9" class="ch"/><path d="M-7.25 8.5V-4.5Q-7.25 -8.5 -3.25 -8.5H3.25Q7.25 -8.5 7.25 -4.5V8.5Z" class="ch"/><path d="M-5.75 -5.1Q0 -7.1 5.75 -5.1" class="chl"/></g><g transform="translate(659.5 380.1) rotate(180)"><rect x="-8.55" y="-4" width="1.9" height="6" rx="0.9" class="ch"/><rect x="6.65" y="-4" width="1.9" height="6" rx="0.9" class="ch"/><path d="M-7.25 8.5V-4.5Q-7.25 -8.5 -3.25 -8.5H3.25Q7.25 -8.5 7.25 -4.5V8.5Z" class="ch"/><path d="M-5.75 -5.1Q0 -7.1 5.75 -5.1" class="chl"/></g><g transform="translate(685 328.4) rotate(0)"><rect x="-8.55" y="-4" width="1.9" height="6" rx="0.9" class="ch"/><rect x="6.65" y="-4" width="1.9" height="6" rx="0.9" class="ch"/><path d="M-7.25 8.5V-4.5Q-7.25 -8.5 -3.25 -8.5H3.25Q7.25 -8.5 7.25 -4.5V8.5Z" class="ch"/><path d="M-5.75 -5.1Q0 -7.1 5.75 -5.1" class="chl"/></g><g transform="translate(685 380.1) rotate(180)"><rect x="-8.55" y="-4" width="1.9" height="6" rx="0.9" class="ch"/><rect x="6.65" y="-4" width="1.9" height="6" rx="0.9" class="ch"/><path d="M-7.25 8.5V-4.5Q-7.25 -8.5 -3.25 -8.5H3.25Q7.25 -8.5 7.25 -4.5V8.5Z" class="ch"/><path d="M-5.75 -5.1Q0 -7.1 5.75 -5.1" class="chl"/></g><g transform="translate(710.5 328.4) rotate(0)"><rect x="-8.55" y="-4" width="1.9" height="6" rx="0.9" class="ch"/><rect x="6.65" y="-4" width="1.9" height="6" rx="0.9" class="ch"/><path d="M-7.25 8.5V-4.5Q-7.25 -8.5 -3.25 -8.5H3.25Q7.25 -8.5 7.25 -4.5V8.5Z" class="ch"/><path d="M-5.75 -5.1Q0 -7.1 5.75 -5.1" class="chl"/></g><g transform="translate(710.5 380.1) rotate(180)"><rect x="-8.55" y="-4" width="1.9" height="6" rx="0.9" class="ch"/><rect x="6.65" y="-4" width="1.9" height="6" rx="0.9" class="ch"/><path d="M-7.25 8.5V-4.5Q-7.25 -8.5 -3.25 -8.5H3.25Q7.25 -8.5 7.25 -4.5V8.5Z" class="ch"/><path d="M-5.75 -5.1Q0 -7.1 5.75 -5.1" class="chl"/></g><rect x="646.75" y="337" width="77" height="34.5" class="fu"/><rect x="662.75" y="352.25" width="45" height="4" class="fu2"/><rect x="388.3" y="321.25" width="13.2" height="13.2" rx="2.2" class="ch" transform="rotate(45 394.9 327.85)"/><rect x="388.3" y="352.05" width="13.2" height="13.2" rx="2.2" class="ch" transform="rotate(45 394.9 358.65)"/><rect x="418.5" y="321.25" width="13.2" height="13.2" rx="2.2" class="ch" transform="rotate(45 425.1 327.85)"/><rect x="418.5" y="352.05" width="13.2" height="13.2" rx="2.2" class="ch" transform="rotate(45 425.1 358.65)"/><circle cx="410" cy="343.25" r="14" class="fu"/><rect x="495.3" y="350" width="13.2" height="13.2" rx="2.2" class="ch" transform="rotate(45 501.9 356.6)"/><rect x="495.3" y="380.8" width="13.2" height="13.2" rx="2.2" class="ch" transform="rotate(45 501.9 387.4)"/><rect x="525.5" y="350" width="13.2" height="13.2" rx="2.2" class="ch" transform="rotate(45 532.1 356.6)"/><rect x="525.5" y="380.8" width="13.2" height="13.2" rx="2.2" class="ch" transform="rotate(45 532.1 387.4)"/><circle cx="517" cy="372" r="14" class="fu"/><g transform="translate(872 341.2) rotate(0)"><rect x="-8.4" y="-4.25" width="1.9" height="6" rx="0.9" class="ch"/><rect x="6.5" y="-4.25" width="1.9" height="6" rx="0.9" class="ch"/><path d="M-7.1 8.75V-4.75Q-7.1 -8.75 -3.1 -8.75H3.1Q7.1 -8.75 7.1 -4.75V8.75Z" class="ch"/><path d="M-5.6 -5.35Q0 -7.35 5.6 -5.35" class="chl"/></g><g transform="translate(872 451.2) rotate(180)"><rect x="-8.4" y="-4.25" width="1.9" height="6" rx="0.9" class="ch"/><rect x="6.5" y="-4.25" width="1.9" height="6" rx="0.9" class="ch"/><path d="M-7.1 8.75V-4.75Q-7.1 -8.75 -3.1 -8.75H3.1Q7.1 -8.75 7.1 -4.75V8.75Z" class="ch"/><path d="M-5.6 -5.35Q0 -7.35 5.6 -5.35" class="chl"/></g><g transform="translate(890.97 341.2) rotate(0)"><rect x="-8.4" y="-4.25" width="1.9" height="6" rx="0.9" class="ch"/><rect x="6.5" y="-4.25" width="1.9" height="6" rx="0.9" class="ch"/><path d="M-7.1 8.75V-4.75Q-7.1 -8.75 -3.1 -8.75H3.1Q7.1 -8.75 7.1 -4.75V8.75Z" class="ch"/><path d="M-5.6 -5.35Q0 -7.35 5.6 -5.35" class="chl"/></g><g transform="translate(890.97 451.2) rotate(180)"><rect x="-8.4" y="-4.25" width="1.9" height="6" rx="0.9" class="ch"/><rect x="6.5" y="-4.25" width="1.9" height="6" rx="0.9" class="ch"/><path d="M-7.1 8.75V-4.75Q-7.1 -8.75 -3.1 -8.75H3.1Q7.1 -8.75 7.1 -4.75V8.75Z" class="ch"/><path d="M-5.6 -5.35Q0 -7.35 5.6 -5.35" class="chl"/></g><g transform="translate(909.94 341.2) rotate(0)"><rect x="-8.4" y="-4.25" width="1.9" height="6" rx="0.9" class="ch"/><rect x="6.5" y="-4.25" width="1.9" height="6" rx="0.9" class="ch"/><path d="M-7.1 8.75V-4.75Q-7.1 -8.75 -3.1 -8.75H3.1Q7.1 -8.75 7.1 -4.75V8.75Z" class="ch"/><path d="M-5.6 -5.35Q0 -7.35 5.6 -5.35" class="chl"/></g><g transform="translate(909.94 451.2) rotate(180)"><rect x="-8.4" y="-4.25" width="1.9" height="6" rx="0.9" class="ch"/><rect x="6.5" y="-4.25" width="1.9" height="6" rx="0.9" class="ch"/><path d="M-7.1 8.75V-4.75Q-7.1 -8.75 -3.1 -8.75H3.1Q7.1 -8.75 7.1 -4.75V8.75Z" class="ch"/><path d="M-5.6 -5.35Q0 -7.35 5.6 -5.35" class="chl"/></g><g transform="translate(928.91 341.2) rotate(0)"><rect x="-8.4" y="-4.25" width="1.9" height="6" rx="0.9" class="ch"/><rect x="6.5" y="-4.25" width="1.9" height="6" rx="0.9" class="ch"/><path d="M-7.1 8.75V-4.75Q-7.1 -8.75 -3.1 -8.75H3.1Q7.1 -8.75 7.1 -4.75V8.75Z" class="ch"/><path d="M-5.6 -5.35Q0 -7.35 5.6 -5.35" class="chl"/></g><g transform="translate(928.91 451.2) rotate(180)"><rect x="-8.4" y="-4.25" width="1.9" height="6" rx="0.9" class="ch"/><rect x="6.5" y="-4.25" width="1.9" height="6" rx="0.9" class="ch"/><path d="M-7.1 8.75V-4.75Q-7.1 -8.75 -3.1 -8.75H3.1Q7.1 -8.75 7.1 -4.75V8.75Z" class="ch"/><path d="M-5.6 -5.35Q0 -7.35 5.6 -5.35" class="chl"/></g><g transform="translate(947.88 341.2) rotate(0)"><rect x="-8.4" y="-4.25" width="1.9" height="6" rx="0.9" class="ch"/><rect x="6.5" y="-4.25" width="1.9" height="6" rx="0.9" class="ch"/><path d="M-7.1 8.75V-4.75Q-7.1 -8.75 -3.1 -8.75H3.1Q7.1 -8.75 7.1 -4.75V8.75Z" class="ch"/><path d="M-5.6 -5.35Q0 -7.35 5.6 -5.35" class="chl"/></g><g transform="translate(947.88 451.2) rotate(180)"><rect x="-8.4" y="-4.25" width="1.9" height="6" rx="0.9" class="ch"/><rect x="6.5" y="-4.25" width="1.9" height="6" rx="0.9" class="ch"/><path d="M-7.1 8.75V-4.75Q-7.1 -8.75 -3.1 -8.75H3.1Q7.1 -8.75 7.1 -4.75V8.75Z" class="ch"/><path d="M-5.6 -5.35Q0 -7.35 5.6 -5.35" class="chl"/></g><g transform="translate(966.85 341.2) rotate(0)"><rect x="-8.4" y="-4.25" width="1.9" height="6" rx="0.9" class="ch"/><rect x="6.5" y="-4.25" width="1.9" height="6" rx="0.9" class="ch"/><path d="M-7.1 8.75V-4.75Q-7.1 -8.75 -3.1 -8.75H3.1Q7.1 -8.75 7.1 -4.75V8.75Z" class="ch"/><path d="M-5.6 -5.35Q0 -7.35 5.6 -5.35" class="chl"/></g><g transform="translate(966.85 451.2) rotate(180)"><rect x="-8.4" y="-4.25" width="1.9" height="6" rx="0.9" class="ch"/><rect x="6.5" y="-4.25" width="1.9" height="6" rx="0.9" class="ch"/><path d="M-7.1 8.75V-4.75Q-7.1 -8.75 -3.1 -8.75H3.1Q7.1 -8.75 7.1 -4.75V8.75Z" class="ch"/><path d="M-5.6 -5.35Q0 -7.35 5.6 -5.35" class="chl"/></g><g transform="translate(985.82 341.2) rotate(0)"><rect x="-8.4" y="-4.25" width="1.9" height="6" rx="0.9" class="ch"/><rect x="6.5" y="-4.25" width="1.9" height="6" rx="0.9" class="ch"/><path d="M-7.1 8.75V-4.75Q-7.1 -8.75 -3.1 -8.75H3.1Q7.1 -8.75 7.1 -4.75V8.75Z" class="ch"/><path d="M-5.6 -5.35Q0 -7.35 5.6 -5.35" class="chl"/></g><g transform="translate(985.82 451.2) rotate(180)"><rect x="-8.4" y="-4.25" width="1.9" height="6" rx="0.9" class="ch"/><rect x="6.5" y="-4.25" width="1.9" height="6" rx="0.9" class="ch"/><path d="M-7.1 8.75V-4.75Q-7.1 -8.75 -3.1 -8.75H3.1Q7.1 -8.75 7.1 -4.75V8.75Z" class="ch"/><path d="M-5.6 -5.35Q0 -7.35 5.6 -5.35" class="chl"/></g><g transform="translate(1004.79 341.2) rotate(0)"><rect x="-8.4" y="-4.25" width="1.9" height="6" rx="0.9" class="ch"/><rect x="6.5" y="-4.25" width="1.9" height="6" rx="0.9" class="ch"/><path d="M-7.1 8.75V-4.75Q-7.1 -8.75 -3.1 -8.75H3.1Q7.1 -8.75 7.1 -4.75V8.75Z" class="ch"/><path d="M-5.6 -5.35Q0 -7.35 5.6 -5.35" class="chl"/></g><g transform="translate(1004.79 451.2) rotate(180)"><rect x="-8.4" y="-4.25" width="1.9" height="6" rx="0.9" class="ch"/><rect x="6.5" y="-4.25" width="1.9" height="6" rx="0.9" class="ch"/><path d="M-7.1 8.75V-4.75Q-7.1 -8.75 -3.1 -8.75H3.1Q7.1 -8.75 7.1 -4.75V8.75Z" class="ch"/><path d="M-5.6 -5.35Q0 -7.35 5.6 -5.35" class="chl"/></g><g transform="translate(1023.76 341.2) rotate(0)"><rect x="-8.4" y="-4.25" width="1.9" height="6" rx="0.9" class="ch"/><rect x="6.5" y="-4.25" width="1.9" height="6" rx="0.9" class="ch"/><path d="M-7.1 8.75V-4.75Q-7.1 -8.75 -3.1 -8.75H3.1Q7.1 -8.75 7.1 -4.75V8.75Z" class="ch"/><path d="M-5.6 -5.35Q0 -7.35 5.6 -5.35" class="chl"/></g><g transform="translate(1023.76 451.2) rotate(180)"><rect x="-8.4" y="-4.25" width="1.9" height="6" rx="0.9" class="ch"/><rect x="6.5" y="-4.25" width="1.9" height="6" rx="0.9" class="ch"/><path d="M-7.1 8.75V-4.75Q-7.1 -8.75 -3.1 -8.75H3.1Q7.1 -8.75 7.1 -4.75V8.75Z" class="ch"/><path d="M-5.6 -5.35Q0 -7.35 5.6 -5.35" class="chl"/></g><g transform="translate(854 378.25) rotate(270)"><rect x="-8.3" y="-4.5" width="1.9" height="6" rx="0.9" class="ch"/><rect x="6.4" y="-4.5" width="1.9" height="6" rx="0.9" class="ch"/><path d="M-7 9V-5Q-7 -9 -3 -9H3Q7 -9 7 -5V9Z" class="ch"/><path d="M-5.5 -5.6Q0 -7.6 5.5 -5.6" class="chl"/></g><g transform="translate(854 397) rotate(270)"><rect x="-8.3" y="-4.5" width="1.9" height="6" rx="0.9" class="ch"/><rect x="6.4" y="-4.5" width="1.9" height="6" rx="0.9" class="ch"/><path d="M-7 9V-5Q-7 -9 -3 -9H3Q7 -9 7 -5V9Z" class="ch"/><path d="M-5.5 -5.6Q0 -7.6 5.5 -5.6" class="chl"/></g><g transform="translate(854 415.75) rotate(270)"><rect x="-8.3" y="-4.5" width="1.9" height="6" rx="0.9" class="ch"/><rect x="6.4" y="-4.5" width="1.9" height="6" rx="0.9" class="ch"/><path d="M-7 9V-5Q-7 -9 -3 -9H3Q7 -9 7 -5V9Z" class="ch"/><path d="M-5.5 -5.6Q0 -7.6 5.5 -5.6" class="chl"/></g><g transform="translate(1042 376.5) rotate(90)"><rect x="-8.3" y="-4.5" width="1.9" height="6" rx="0.9" class="ch"/><rect x="6.4" y="-4.5" width="1.9" height="6" rx="0.9" class="ch"/><path d="M-7 9V-5Q-7 -9 -3 -9H3Q7 -9 7 -5V9Z" class="ch"/><path d="M-5.5 -5.6Q0 -7.6 5.5 -5.6" class="chl"/></g><g transform="translate(1042 395.75) rotate(90)"><rect x="-8.3" y="-4.5" width="1.9" height="6" rx="0.9" class="ch"/><rect x="6.4" y="-4.5" width="1.9" height="6" rx="0.9" class="ch"/><path d="M-7 9V-5Q-7 -9 -3 -9H3Q7 -9 7 -5V9Z" class="ch"/><path d="M-5.5 -5.6Q0 -7.6 5.5 -5.6" class="chl"/></g><g transform="translate(1042 414.5) rotate(90)"><rect x="-8.3" y="-4.5" width="1.9" height="6" rx="0.9" class="ch"/><rect x="6.4" y="-4.5" width="1.9" height="6" rx="0.9" class="ch"/><path d="M-7 9V-5Q-7 -9 -3 -9H3Q7 -9 7 -5V9Z" class="ch"/><path d="M-5.5 -5.6Q0 -7.6 5.5 -5.6" class="chl"/></g><rect x="863" y="350" width="170" height="17" class="fu"/><rect x="863" y="424.5" width="170" height="17.5" class="fu"/><rect x="863" y="367" width="17.5" height="57.5" class="fu"/><rect x="1014.5" y="367" width="18.5" height="57.5" class="fu"/><path d="M918.75 350L918.75 367" class="fl"/><path d="M918.75 424.5L918.75 442" class="fl"/><path d="M975.75 350L975.75 367" class="fl"/><path d="M975.75 424.5L975.75 442" class="fl"/><path d="M878.5 367L878.5 424.5" class="fl"/><path d="M1016.5 367L1016.5 424.5" class="fl"/><g transform="translate(595.9 490.6) rotate(0)"><rect x="-8.55" y="-4" width="1.9" height="6" rx="0.9" class="ch"/><rect x="6.65" y="-4" width="1.9" height="6" rx="0.9" class="ch"/><path d="M-7.25 8.5V-4.5Q-7.25 -8.5 -3.25 -8.5H3.25Q7.25 -8.5 7.25 -4.5V8.5Z" class="ch"/><path d="M-5.75 -5.1Q0 -7.1 5.75 -5.1" class="chl"/></g><g transform="translate(615 490.6) rotate(0)"><rect x="-8.55" y="-4" width="1.9" height="6" rx="0.9" class="ch"/><rect x="6.65" y="-4" width="1.9" height="6" rx="0.9" class="ch"/><path d="M-7.25 8.5V-4.5Q-7.25 -8.5 -3.25 -8.5H3.25Q7.25 -8.5 7.25 -4.5V8.5Z" class="ch"/><path d="M-5.75 -5.1Q0 -7.1 5.75 -5.1" class="chl"/></g><g transform="translate(633.9 490.6) rotate(0)"><rect x="-8.55" y="-4" width="1.9" height="6" rx="0.9" class="ch"/><rect x="6.65" y="-4" width="1.9" height="6" rx="0.9" class="ch"/><path d="M-7.25 8.5V-4.5Q-7.25 -8.5 -3.25 -8.5H3.25Q7.25 -8.5 7.25 -4.5V8.5Z" class="ch"/><path d="M-5.75 -5.1Q0 -7.1 5.75 -5.1" class="chl"/></g><g transform="translate(652.9 490.6) rotate(0)"><rect x="-8.55" y="-4" width="1.9" height="6" rx="0.9" class="ch"/><rect x="6.65" y="-4" width="1.9" height="6" rx="0.9" class="ch"/><path d="M-7.25 8.5V-4.5Q-7.25 -8.5 -3.25 -8.5H3.25Q7.25 -8.5 7.25 -4.5V8.5Z" class="ch"/><path d="M-5.75 -5.1Q0 -7.1 5.75 -5.1" class="chl"/></g><g transform="translate(672 490.6) rotate(0)"><rect x="-8.55" y="-4" width="1.9" height="6" rx="0.9" class="ch"/><rect x="6.65" y="-4" width="1.9" height="6" rx="0.9" class="ch"/><path d="M-7.25 8.5V-4.5Q-7.25 -8.5 -3.25 -8.5H3.25Q7.25 -8.5 7.25 -4.5V8.5Z" class="ch"/><path d="M-5.75 -5.1Q0 -7.1 5.75 -5.1" class="chl"/></g><g transform="translate(690.9 490.6) rotate(0)"><rect x="-8.55" y="-4" width="1.9" height="6" rx="0.9" class="ch"/><rect x="6.65" y="-4" width="1.9" height="6" rx="0.9" class="ch"/><path d="M-7.25 8.5V-4.5Q-7.25 -8.5 -3.25 -8.5H3.25Q7.25 -8.5 7.25 -4.5V8.5Z" class="ch"/><path d="M-5.75 -5.1Q0 -7.1 5.75 -5.1" class="chl"/></g><g transform="translate(577 583.6) rotate(180)"><rect x="-8.55" y="-4" width="1.9" height="6" rx="0.9" class="ch"/><rect x="6.65" y="-4" width="1.9" height="6" rx="0.9" class="ch"/><path d="M-7.25 8.5V-4.5Q-7.25 -8.5 -3.25 -8.5H3.25Q7.25 -8.5 7.25 -4.5V8.5Z" class="ch"/><path d="M-5.75 -5.1Q0 -7.1 5.75 -5.1" class="chl"/></g><g transform="translate(595.9 583.6) rotate(180)"><rect x="-8.55" y="-4" width="1.9" height="6" rx="0.9" class="ch"/><rect x="6.65" y="-4" width="1.9" height="6" rx="0.9" class="ch"/><path d="M-7.25 8.5V-4.5Q-7.25 -8.5 -3.25 -8.5H3.25Q7.25 -8.5 7.25 -4.5V8.5Z" class="ch"/><path d="M-5.75 -5.1Q0 -7.1 5.75 -5.1" class="chl"/></g><g transform="translate(615 583.6) rotate(180)"><rect x="-8.55" y="-4" width="1.9" height="6" rx="0.9" class="ch"/><rect x="6.65" y="-4" width="1.9" height="6" rx="0.9" class="ch"/><path d="M-7.25 8.5V-4.5Q-7.25 -8.5 -3.25 -8.5H3.25Q7.25 -8.5 7.25 -4.5V8.5Z" class="ch"/><path d="M-5.75 -5.1Q0 -7.1 5.75 -5.1" class="chl"/></g><g transform="translate(633.9 583.6) rotate(180)"><rect x="-8.55" y="-4" width="1.9" height="6" rx="0.9" class="ch"/><rect x="6.65" y="-4" width="1.9" height="6" rx="0.9" class="ch"/><path d="M-7.25 8.5V-4.5Q-7.25 -8.5 -3.25 -8.5H3.25Q7.25 -8.5 7.25 -4.5V8.5Z" class="ch"/><path d="M-5.75 -5.1Q0 -7.1 5.75 -5.1" class="chl"/></g><g transform="translate(652.9 583.6) rotate(180)"><rect x="-8.55" y="-4" width="1.9" height="6" rx="0.9" class="ch"/><rect x="6.65" y="-4" width="1.9" height="6" rx="0.9" class="ch"/><path d="M-7.25 8.5V-4.5Q-7.25 -8.5 -3.25 -8.5H3.25Q7.25 -8.5 7.25 -4.5V8.5Z" class="ch"/><path d="M-5.75 -5.1Q0 -7.1 5.75 -5.1" class="chl"/></g><g transform="translate(672 583.6) rotate(180)"><rect x="-8.55" y="-4" width="1.9" height="6" rx="0.9" class="ch"/><rect x="6.65" y="-4" width="1.9" height="6" rx="0.9" class="ch"/><path d="M-7.25 8.5V-4.5Q-7.25 -8.5 -3.25 -8.5H3.25Q7.25 -8.5 7.25 -4.5V8.5Z" class="ch"/><path d="M-5.75 -5.1Q0 -7.1 5.75 -5.1" class="chl"/></g><g transform="translate(558.5 508.8) rotate(270)"><rect x="-8.3" y="-4.25" width="1.9" height="6" rx="0.9" class="ch"/><rect x="6.4" y="-4.25" width="1.9" height="6" rx="0.9" class="ch"/><path d="M-7 8.75V-4.75Q-7 -8.75 -3 -8.75H3Q7 -8.75 7 -4.75V8.75Z" class="ch"/><path d="M-5.5 -5.35Q0 -7.35 5.5 -5.35" class="chl"/></g><g transform="translate(558.5 527.8) rotate(270)"><rect x="-8.3" y="-4.25" width="1.9" height="6" rx="0.9" class="ch"/><rect x="6.4" y="-4.25" width="1.9" height="6" rx="0.9" class="ch"/><path d="M-7 8.75V-4.75Q-7 -8.75 -3 -8.75H3Q7 -8.75 7 -4.75V8.75Z" class="ch"/><path d="M-5.5 -5.35Q0 -7.35 5.5 -5.35" class="chl"/></g><g transform="translate(558.5 546.9) rotate(270)"><rect x="-8.3" y="-4.25" width="1.9" height="6" rx="0.9" class="ch"/><rect x="6.4" y="-4.25" width="1.9" height="6" rx="0.9" class="ch"/><path d="M-7 8.75V-4.75Q-7 -8.75 -3 -8.75H3Q7 -8.75 7 -4.75V8.75Z" class="ch"/><path d="M-5.5 -5.35Q0 -7.35 5.5 -5.35" class="chl"/></g><g transform="translate(709.4 527.8) rotate(90)"><rect x="-8.3" y="-4.25" width="1.9" height="6" rx="0.9" class="ch"/><rect x="6.4" y="-4.25" width="1.9" height="6" rx="0.9" class="ch"/><path d="M-7 8.75V-4.75Q-7 -8.75 -3 -8.75H3Q7 -8.75 7 -4.75V8.75Z" class="ch"/><path d="M-5.5 -5.35Q0 -7.35 5.5 -5.35" class="chl"/></g><g transform="translate(709.4 546.9) rotate(90)"><rect x="-8.3" y="-4.25" width="1.9" height="6" rx="0.9" class="ch"/><rect x="6.4" y="-4.25" width="1.9" height="6" rx="0.9" class="ch"/><path d="M-7 8.75V-4.75Q-7 -8.75 -3 -8.75H3Q7 -8.75 7 -4.75V8.75Z" class="ch"/><path d="M-5.5 -5.35Q0 -7.35 5.5 -5.35" class="chl"/></g><g transform="translate(709.4 565.8) rotate(90)"><rect x="-8.3" y="-4.25" width="1.9" height="6" rx="0.9" class="ch"/><rect x="6.4" y="-4.25" width="1.9" height="6" rx="0.9" class="ch"/><path d="M-7 8.75V-4.75Q-7 -8.75 -3 -8.75H3Q7 -8.75 7 -4.75V8.75Z" class="ch"/><path d="M-5.5 -5.35Q0 -7.35 5.5 -5.35" class="chl"/></g><rect x="586" y="499.3" width="114" height="18.2" class="fu"/><rect x="681.4" y="517.5" width="18.6" height="57.4" class="fu"/><rect x="567" y="555.9" width="114.4" height="19" class="fu"/><rect x="567" y="499.3" width="19" height="56.6" class="fu"/><path d="M643.7 499.3L643.7 517.5" class="fl"/><path d="M624.3 555.9L624.3 574.9" class="fl"/><path d="M683.4 517.5L683.4 574.9" class="fl"/><path d="M584 499.3L584 555.9" class="fl"/><g transform="translate(595.9 652.5) rotate(0)"><rect x="-8.55" y="-4" width="1.9" height="6" rx="0.9" class="ch"/><rect x="6.65" y="-4" width="1.9" height="6" rx="0.9" class="ch"/><path d="M-7.25 8.5V-4.5Q-7.25 -8.5 -3.25 -8.5H3.25Q7.25 -8.5 7.25 -4.5V8.5Z" class="ch"/><path d="M-5.75 -5.1Q0 -7.1 5.75 -5.1" class="chl"/></g><g transform="translate(615 652.5) rotate(0)"><rect x="-8.55" y="-4" width="1.9" height="6" rx="0.9" class="ch"/><rect x="6.65" y="-4" width="1.9" height="6" rx="0.9" class="ch"/><path d="M-7.25 8.5V-4.5Q-7.25 -8.5 -3.25 -8.5H3.25Q7.25 -8.5 7.25 -4.5V8.5Z" class="ch"/><path d="M-5.75 -5.1Q0 -7.1 5.75 -5.1" class="chl"/></g><g transform="translate(633.9 652.5) rotate(0)"><rect x="-8.55" y="-4" width="1.9" height="6" rx="0.9" class="ch"/><rect x="6.65" y="-4" width="1.9" height="6" rx="0.9" class="ch"/><path d="M-7.25 8.5V-4.5Q-7.25 -8.5 -3.25 -8.5H3.25Q7.25 -8.5 7.25 -4.5V8.5Z" class="ch"/><path d="M-5.75 -5.1Q0 -7.1 5.75 -5.1" class="chl"/></g><g transform="translate(652.9 652.5) rotate(0)"><rect x="-8.55" y="-4" width="1.9" height="6" rx="0.9" class="ch"/><rect x="6.65" y="-4" width="1.9" height="6" rx="0.9" class="ch"/><path d="M-7.25 8.5V-4.5Q-7.25 -8.5 -3.25 -8.5H3.25Q7.25 -8.5 7.25 -4.5V8.5Z" class="ch"/><path d="M-5.75 -5.1Q0 -7.1 5.75 -5.1" class="chl"/></g><g transform="translate(672 652.5) rotate(0)"><rect x="-8.55" y="-4" width="1.9" height="6" rx="0.9" class="ch"/><rect x="6.65" y="-4" width="1.9" height="6" rx="0.9" class="ch"/><path d="M-7.25 8.5V-4.5Q-7.25 -8.5 -3.25 -8.5H3.25Q7.25 -8.5 7.25 -4.5V8.5Z" class="ch"/><path d="M-5.75 -5.1Q0 -7.1 5.75 -5.1" class="chl"/></g><g transform="translate(690.9 652.5) rotate(0)"><rect x="-8.55" y="-4" width="1.9" height="6" rx="0.9" class="ch"/><rect x="6.65" y="-4" width="1.9" height="6" rx="0.9" class="ch"/><path d="M-7.25 8.5V-4.5Q-7.25 -8.5 -3.25 -8.5H3.25Q7.25 -8.5 7.25 -4.5V8.5Z" class="ch"/><path d="M-5.75 -5.1Q0 -7.1 5.75 -5.1" class="chl"/></g><g transform="translate(577 745.5) rotate(180)"><rect x="-8.55" y="-4" width="1.9" height="6" rx="0.9" class="ch"/><rect x="6.65" y="-4" width="1.9" height="6" rx="0.9" class="ch"/><path d="M-7.25 8.5V-4.5Q-7.25 -8.5 -3.25 -8.5H3.25Q7.25 -8.5 7.25 -4.5V8.5Z" class="ch"/><path d="M-5.75 -5.1Q0 -7.1 5.75 -5.1" class="chl"/></g><g transform="translate(595.9 745.5) rotate(180)"><rect x="-8.55" y="-4" width="1.9" height="6" rx="0.9" class="ch"/><rect x="6.65" y="-4" width="1.9" height="6" rx="0.9" class="ch"/><path d="M-7.25 8.5V-4.5Q-7.25 -8.5 -3.25 -8.5H3.25Q7.25 -8.5 7.25 -4.5V8.5Z" class="ch"/><path d="M-5.75 -5.1Q0 -7.1 5.75 -5.1" class="chl"/></g><g transform="translate(615 745.5) rotate(180)"><rect x="-8.55" y="-4" width="1.9" height="6" rx="0.9" class="ch"/><rect x="6.65" y="-4" width="1.9" height="6" rx="0.9" class="ch"/><path d="M-7.25 8.5V-4.5Q-7.25 -8.5 -3.25 -8.5H3.25Q7.25 -8.5 7.25 -4.5V8.5Z" class="ch"/><path d="M-5.75 -5.1Q0 -7.1 5.75 -5.1" class="chl"/></g><g transform="translate(633.9 745.5) rotate(180)"><rect x="-8.55" y="-4" width="1.9" height="6" rx="0.9" class="ch"/><rect x="6.65" y="-4" width="1.9" height="6" rx="0.9" class="ch"/><path d="M-7.25 8.5V-4.5Q-7.25 -8.5 -3.25 -8.5H3.25Q7.25 -8.5 7.25 -4.5V8.5Z" class="ch"/><path d="M-5.75 -5.1Q0 -7.1 5.75 -5.1" class="chl"/></g><g transform="translate(652.9 745.5) rotate(180)"><rect x="-8.55" y="-4" width="1.9" height="6" rx="0.9" class="ch"/><rect x="6.65" y="-4" width="1.9" height="6" rx="0.9" class="ch"/><path d="M-7.25 8.5V-4.5Q-7.25 -8.5 -3.25 -8.5H3.25Q7.25 -8.5 7.25 -4.5V8.5Z" class="ch"/><path d="M-5.75 -5.1Q0 -7.1 5.75 -5.1" class="chl"/></g><g transform="translate(672 745.5) rotate(180)"><rect x="-8.55" y="-4" width="1.9" height="6" rx="0.9" class="ch"/><rect x="6.65" y="-4" width="1.9" height="6" rx="0.9" class="ch"/><path d="M-7.25 8.5V-4.5Q-7.25 -8.5 -3.25 -8.5H3.25Q7.25 -8.5 7.25 -4.5V8.5Z" class="ch"/><path d="M-5.75 -5.1Q0 -7.1 5.75 -5.1" class="chl"/></g><g transform="translate(558.5 670.7) rotate(270)"><rect x="-8.3" y="-4.25" width="1.9" height="6" rx="0.9" class="ch"/><rect x="6.4" y="-4.25" width="1.9" height="6" rx="0.9" class="ch"/><path d="M-7 8.75V-4.75Q-7 -8.75 -3 -8.75H3Q7 -8.75 7 -4.75V8.75Z" class="ch"/><path d="M-5.5 -5.35Q0 -7.35 5.5 -5.35" class="chl"/></g><g transform="translate(558.5 689.7) rotate(270)"><rect x="-8.3" y="-4.25" width="1.9" height="6" rx="0.9" class="ch"/><rect x="6.4" y="-4.25" width="1.9" height="6" rx="0.9" class="ch"/><path d="M-7 8.75V-4.75Q-7 -8.75 -3 -8.75H3Q7 -8.75 7 -4.75V8.75Z" class="ch"/><path d="M-5.5 -5.35Q0 -7.35 5.5 -5.35" class="chl"/></g><g transform="translate(558.5 708.8) rotate(270)"><rect x="-8.3" y="-4.25" width="1.9" height="6" rx="0.9" class="ch"/><rect x="6.4" y="-4.25" width="1.9" height="6" rx="0.9" class="ch"/><path d="M-7 8.75V-4.75Q-7 -8.75 -3 -8.75H3Q7 -8.75 7 -4.75V8.75Z" class="ch"/><path d="M-5.5 -5.35Q0 -7.35 5.5 -5.35" class="chl"/></g><g transform="translate(709.4 689.7) rotate(90)"><rect x="-8.3" y="-4.25" width="1.9" height="6" rx="0.9" class="ch"/><rect x="6.4" y="-4.25" width="1.9" height="6" rx="0.9" class="ch"/><path d="M-7 8.75V-4.75Q-7 -8.75 -3 -8.75H3Q7 -8.75 7 -4.75V8.75Z" class="ch"/><path d="M-5.5 -5.35Q0 -7.35 5.5 -5.35" class="chl"/></g><g transform="translate(709.4 708.8) rotate(90)"><rect x="-8.3" y="-4.25" width="1.9" height="6" rx="0.9" class="ch"/><rect x="6.4" y="-4.25" width="1.9" height="6" rx="0.9" class="ch"/><path d="M-7 8.75V-4.75Q-7 -8.75 -3 -8.75H3Q7 -8.75 7 -4.75V8.75Z" class="ch"/><path d="M-5.5 -5.35Q0 -7.35 5.5 -5.35" class="chl"/></g><g transform="translate(709.4 727.7) rotate(90)"><rect x="-8.3" y="-4.25" width="1.9" height="6" rx="0.9" class="ch"/><rect x="6.4" y="-4.25" width="1.9" height="6" rx="0.9" class="ch"/><path d="M-7 8.75V-4.75Q-7 -8.75 -3 -8.75H3Q7 -8.75 7 -4.75V8.75Z" class="ch"/><path d="M-5.5 -5.35Q0 -7.35 5.5 -5.35" class="chl"/></g><rect x="586" y="661.2" width="114" height="18.2" class="fu"/><rect x="681.4" y="679.4" width="18.6" height="57.4" class="fu"/><rect x="567" y="717.8" width="114.4" height="19" class="fu"/><rect x="567" y="661.2" width="19" height="56.6" class="fu"/><path d="M643.7 661.2L643.7 679.4" class="fl"/><path d="M624.3 717.8L624.3 736.8" class="fl"/><path d="M683.4 679.4L683.4 736.8" class="fl"/><path d="M584 661.2L584 717.8" class="fl"/><g transform="translate(576.9 814.5) rotate(0)"><rect x="-8.55" y="-4" width="1.9" height="6" rx="0.9" class="ch"/><rect x="6.65" y="-4" width="1.9" height="6" rx="0.9" class="ch"/><path d="M-7.25 8.5V-4.5Q-7.25 -8.5 -3.25 -8.5H3.25Q7.25 -8.5 7.25 -4.5V8.5Z" class="ch"/><path d="M-5.75 -5.1Q0 -7.1 5.75 -5.1" class="chl"/></g><g transform="translate(596 814.5) rotate(0)"><rect x="-8.55" y="-4" width="1.9" height="6" rx="0.9" class="ch"/><rect x="6.65" y="-4" width="1.9" height="6" rx="0.9" class="ch"/><path d="M-7.25 8.5V-4.5Q-7.25 -8.5 -3.25 -8.5H3.25Q7.25 -8.5 7.25 -4.5V8.5Z" class="ch"/><path d="M-5.75 -5.1Q0 -7.1 5.75 -5.1" class="chl"/></g><g transform="translate(615.2 814.5) rotate(0)"><rect x="-8.55" y="-4" width="1.9" height="6" rx="0.9" class="ch"/><rect x="6.65" y="-4" width="1.9" height="6" rx="0.9" class="ch"/><path d="M-7.25 8.5V-4.5Q-7.25 -8.5 -3.25 -8.5H3.25Q7.25 -8.5 7.25 -4.5V8.5Z" class="ch"/><path d="M-5.75 -5.1Q0 -7.1 5.75 -5.1" class="chl"/></g><g transform="translate(634 814.5) rotate(0)"><rect x="-8.55" y="-4" width="1.9" height="6" rx="0.9" class="ch"/><rect x="6.65" y="-4" width="1.9" height="6" rx="0.9" class="ch"/><path d="M-7.25 8.5V-4.5Q-7.25 -8.5 -3.25 -8.5H3.25Q7.25 -8.5 7.25 -4.5V8.5Z" class="ch"/><path d="M-5.75 -5.1Q0 -7.1 5.75 -5.1" class="chl"/></g><g transform="translate(652.9 814.5) rotate(0)"><rect x="-8.55" y="-4" width="1.9" height="6" rx="0.9" class="ch"/><rect x="6.65" y="-4" width="1.9" height="6" rx="0.9" class="ch"/><path d="M-7.25 8.5V-4.5Q-7.25 -8.5 -3.25 -8.5H3.25Q7.25 -8.5 7.25 -4.5V8.5Z" class="ch"/><path d="M-5.75 -5.1Q0 -7.1 5.75 -5.1" class="chl"/></g><g transform="translate(672 814.5) rotate(0)"><rect x="-8.55" y="-4" width="1.9" height="6" rx="0.9" class="ch"/><rect x="6.65" y="-4" width="1.9" height="6" rx="0.9" class="ch"/><path d="M-7.25 8.5V-4.5Q-7.25 -8.5 -3.25 -8.5H3.25Q7.25 -8.5 7.25 -4.5V8.5Z" class="ch"/><path d="M-5.75 -5.1Q0 -7.1 5.75 -5.1" class="chl"/></g><g transform="translate(596 965.2) rotate(180)"><rect x="-8.55" y="-4" width="1.9" height="6" rx="0.9" class="ch"/><rect x="6.65" y="-4" width="1.9" height="6" rx="0.9" class="ch"/><path d="M-7.25 8.5V-4.5Q-7.25 -8.5 -3.25 -8.5H3.25Q7.25 -8.5 7.25 -4.5V8.5Z" class="ch"/><path d="M-5.75 -5.1Q0 -7.1 5.75 -5.1" class="chl"/></g><g transform="translate(615.2 965.2) rotate(180)"><rect x="-8.55" y="-4" width="1.9" height="6" rx="0.9" class="ch"/><rect x="6.65" y="-4" width="1.9" height="6" rx="0.9" class="ch"/><path d="M-7.25 8.5V-4.5Q-7.25 -8.5 -3.25 -8.5H3.25Q7.25 -8.5 7.25 -4.5V8.5Z" class="ch"/><path d="M-5.75 -5.1Q0 -7.1 5.75 -5.1" class="chl"/></g><g transform="translate(634 965.2) rotate(180)"><rect x="-8.55" y="-4" width="1.9" height="6" rx="0.9" class="ch"/><rect x="6.65" y="-4" width="1.9" height="6" rx="0.9" class="ch"/><path d="M-7.25 8.5V-4.5Q-7.25 -8.5 -3.25 -8.5H3.25Q7.25 -8.5 7.25 -4.5V8.5Z" class="ch"/><path d="M-5.75 -5.1Q0 -7.1 5.75 -5.1" class="chl"/></g><g transform="translate(652.9 965.2) rotate(180)"><rect x="-8.55" y="-4" width="1.9" height="6" rx="0.9" class="ch"/><rect x="6.65" y="-4" width="1.9" height="6" rx="0.9" class="ch"/><path d="M-7.25 8.5V-4.5Q-7.25 -8.5 -3.25 -8.5H3.25Q7.25 -8.5 7.25 -4.5V8.5Z" class="ch"/><path d="M-5.75 -5.1Q0 -7.1 5.75 -5.1" class="chl"/></g><g transform="translate(672 965.2) rotate(180)"><rect x="-8.55" y="-4" width="1.9" height="6" rx="0.9" class="ch"/><rect x="6.65" y="-4" width="1.9" height="6" rx="0.9" class="ch"/><path d="M-7.25 8.5V-4.5Q-7.25 -8.5 -3.25 -8.5H3.25Q7.25 -8.5 7.25 -4.5V8.5Z" class="ch"/><path d="M-5.75 -5.1Q0 -7.1 5.75 -5.1" class="chl"/></g><g transform="translate(691.1 965.2) rotate(180)"><rect x="-8.55" y="-4" width="1.9" height="6" rx="0.9" class="ch"/><rect x="6.65" y="-4" width="1.9" height="6" rx="0.9" class="ch"/><path d="M-7.25 8.5V-4.5Q-7.25 -8.5 -3.25 -8.5H3.25Q7.25 -8.5 7.25 -4.5V8.5Z" class="ch"/><path d="M-5.75 -5.1Q0 -7.1 5.75 -5.1" class="chl"/></g><g transform="translate(558.6 852.2) rotate(270)"><rect x="-8.3" y="-4.25" width="1.9" height="6" rx="0.9" class="ch"/><rect x="6.4" y="-4.25" width="1.9" height="6" rx="0.9" class="ch"/><path d="M-7 8.75V-4.75Q-7 -8.75 -3 -8.75H3Q7 -8.75 7 -4.75V8.75Z" class="ch"/><path d="M-5.5 -5.35Q0 -7.35 5.5 -5.35" class="chl"/></g><g transform="translate(558.6 871.3) rotate(270)"><rect x="-8.3" y="-4.25" width="1.9" height="6" rx="0.9" class="ch"/><rect x="6.4" y="-4.25" width="1.9" height="6" rx="0.9" class="ch"/><path d="M-7 8.75V-4.75Q-7 -8.75 -3 -8.75H3Q7 -8.75 7 -4.75V8.75Z" class="ch"/><path d="M-5.5 -5.35Q0 -7.35 5.5 -5.35" class="chl"/></g><g transform="translate(558.6 889.6) rotate(270)"><rect x="-8.3" y="-4.25" width="1.9" height="6" rx="0.9" class="ch"/><rect x="6.4" y="-4.25" width="1.9" height="6" rx="0.9" class="ch"/><path d="M-7 8.75V-4.75Q-7 -8.75 -3 -8.75H3Q7 -8.75 7 -4.75V8.75Z" class="ch"/><path d="M-5.5 -5.35Q0 -7.35 5.5 -5.35" class="chl"/></g><g transform="translate(558.6 908.7) rotate(270)"><rect x="-8.3" y="-4.25" width="1.9" height="6" rx="0.9" class="ch"/><rect x="6.4" y="-4.25" width="1.9" height="6" rx="0.9" class="ch"/><path d="M-7 8.75V-4.75Q-7 -8.75 -3 -8.75H3Q7 -8.75 7 -4.75V8.75Z" class="ch"/><path d="M-5.5 -5.35Q0 -7.35 5.5 -5.35" class="chl"/></g><g transform="translate(558.6 927.8) rotate(270)"><rect x="-8.3" y="-4.25" width="1.9" height="6" rx="0.9" class="ch"/><rect x="6.4" y="-4.25" width="1.9" height="6" rx="0.9" class="ch"/><path d="M-7 8.75V-4.75Q-7 -8.75 -3 -8.75H3Q7 -8.75 7 -4.75V8.75Z" class="ch"/><path d="M-5.5 -5.35Q0 -7.35 5.5 -5.35" class="chl"/></g><g transform="translate(558.6 947) rotate(270)"><rect x="-8.3" y="-4.25" width="1.9" height="6" rx="0.9" class="ch"/><rect x="6.4" y="-4.25" width="1.9" height="6" rx="0.9" class="ch"/><path d="M-7 8.75V-4.75Q-7 -8.75 -3 -8.75H3Q7 -8.75 7 -4.75V8.75Z" class="ch"/><path d="M-5.5 -5.35Q0 -7.35 5.5 -5.35" class="chl"/></g><g transform="translate(709.2 833) rotate(90)"><rect x="-8.3" y="-4.25" width="1.9" height="6" rx="0.9" class="ch"/><rect x="6.4" y="-4.25" width="1.9" height="6" rx="0.9" class="ch"/><path d="M-7 8.75V-4.75Q-7 -8.75 -3 -8.75H3Q7 -8.75 7 -4.75V8.75Z" class="ch"/><path d="M-5.5 -5.35Q0 -7.35 5.5 -5.35" class="chl"/></g><g transform="translate(709.2 852.2) rotate(90)"><rect x="-8.3" y="-4.25" width="1.9" height="6" rx="0.9" class="ch"/><rect x="6.4" y="-4.25" width="1.9" height="6" rx="0.9" class="ch"/><path d="M-7 8.75V-4.75Q-7 -8.75 -3 -8.75H3Q7 -8.75 7 -4.75V8.75Z" class="ch"/><path d="M-5.5 -5.35Q0 -7.35 5.5 -5.35" class="chl"/></g><g transform="translate(709.2 871.3) rotate(90)"><rect x="-8.3" y="-4.25" width="1.9" height="6" rx="0.9" class="ch"/><rect x="6.4" y="-4.25" width="1.9" height="6" rx="0.9" class="ch"/><path d="M-7 8.75V-4.75Q-7 -8.75 -3 -8.75H3Q7 -8.75 7 -4.75V8.75Z" class="ch"/><path d="M-5.5 -5.35Q0 -7.35 5.5 -5.35" class="chl"/></g><g transform="translate(709.2 889.6) rotate(90)"><rect x="-8.3" y="-4.25" width="1.9" height="6" rx="0.9" class="ch"/><rect x="6.4" y="-4.25" width="1.9" height="6" rx="0.9" class="ch"/><path d="M-7 8.75V-4.75Q-7 -8.75 -3 -8.75H3Q7 -8.75 7 -4.75V8.75Z" class="ch"/><path d="M-5.5 -5.35Q0 -7.35 5.5 -5.35" class="chl"/></g><g transform="translate(709.2 908.7) rotate(90)"><rect x="-8.3" y="-4.25" width="1.9" height="6" rx="0.9" class="ch"/><rect x="6.4" y="-4.25" width="1.9" height="6" rx="0.9" class="ch"/><path d="M-7 8.75V-4.75Q-7 -8.75 -3 -8.75H3Q7 -8.75 7 -4.75V8.75Z" class="ch"/><path d="M-5.5 -5.35Q0 -7.35 5.5 -5.35" class="chl"/></g><g transform="translate(709.2 927.8) rotate(90)"><rect x="-8.3" y="-4.25" width="1.9" height="6" rx="0.9" class="ch"/><rect x="6.4" y="-4.25" width="1.9" height="6" rx="0.9" class="ch"/><path d="M-7 8.75V-4.75Q-7 -8.75 -3 -8.75H3Q7 -8.75 7 -4.75V8.75Z" class="ch"/><path d="M-5.5 -5.35Q0 -7.35 5.5 -5.35" class="chl"/></g><rect x="567.5" y="823.3" width="113.9" height="18.6" class="fu"/><rect x="681.4" y="823.3" width="19.2" height="114.3" class="fu"/><rect x="586" y="937.6" width="114.6" height="18.8" class="fu"/><rect x="567.5" y="841.9" width="18.5" height="114.5" class="fu"/><path d="M624.3 823.3L624.3 841.9" class="fl"/><path d="M643.4 937.6L643.4 956.4" class="fl"/><path d="M681.4 880L700.6 880" class="fl"/><path d="M567.5 899.3L586 899.3" class="fl"/><path d="M683.4 823.3L683.4 937.6" class="fl"/><circle cx="794.3" cy="564.2" r="5.5" class="ch"/><circle cx="794.3" cy="591.8" r="5.5" class="ch"/><circle cx="821.7" cy="564.2" r="5.5" class="ch"/><circle cx="821.7" cy="591.8" r="5.5" class="ch"/><circle cx="808" cy="578" r="14.4" class="fu"/><g transform="translate(887 546.5) rotate(0)"><rect x="-9.3" y="-4.5" width="1.9" height="6" rx="0.9" class="ch"/><rect x="7.4" y="-4.5" width="1.9" height="6" rx="0.9" class="ch"/><path d="M-8 9V-5Q-8 -9 -4 -9H4Q8 -9 8 -5V9Z" class="ch"/><path d="M-6.5 -5.6Q0 -7.6 6.5 -5.6" class="chl"/></g><g transform="translate(887.5 602) rotate(180)"><rect x="-9.3" y="-4.5" width="1.9" height="6" rx="0.9" class="ch"/><rect x="7.4" y="-4.5" width="1.9" height="6" rx="0.9" class="ch"/><path d="M-8 9V-5Q-8 -9 -4 -9H4Q8 -9 8 -5V9Z" class="ch"/><path d="M-6.5 -5.6Q0 -7.6 6.5 -5.6" class="chl"/></g><g transform="translate(858 573.5) rotate(270)"><rect x="-9.3" y="-4.5" width="1.9" height="6" rx="0.9" class="ch"/><rect x="7.4" y="-4.5" width="1.9" height="6" rx="0.9" class="ch"/><path d="M-8 9V-5Q-8 -9 -4 -9H4Q8 -9 8 -5V9Z" class="ch"/><path d="M-6.5 -5.6Q0 -7.6 6.5 -5.6" class="chl"/></g><g transform="translate(917 573.5) rotate(90)"><rect x="-9.3" y="-4.5" width="1.9" height="6" rx="0.9" class="ch"/><rect x="7.4" y="-4.5" width="1.9" height="6" rx="0.9" class="ch"/><path d="M-8 9V-5Q-8 -9 -4 -9H4Q8 -9 8 -5V9Z" class="ch"/><path d="M-6.5 -5.6Q0 -7.6 6.5 -5.6" class="chl"/></g><rect x="869.5" y="576" width="36.75" height="16" class="fu"/><rect x="880" y="552" width="14" height="24" class="fu"/><g transform="translate(779.1 662.6) rotate(225) scale(1.1)"><path d="M-7.2 -5.8Q-7.2 -7.9 -4.6 -7.9H0.5Q8 -7.9 8 0Q8 7.9 0.5 7.9H-4.6Q-7.2 7.9 -7.2 5.8Z" class="ch"/><path d="M2.6 -7.4Q6.8 0 2.6 7.4" class="chl"/></g><g transform="translate(821.7 662.6) rotate(315) scale(1.1)"><path d="M-7.2 -5.8Q-7.2 -7.9 -4.6 -7.9H0.5Q8 -7.9 8 0Q8 7.9 0.5 7.9H-4.6Q-7.2 7.9 -7.2 5.8Z" class="ch"/><path d="M2.6 -7.4Q6.8 0 2.6 7.4" class="chl"/></g><g transform="translate(779.1 707) rotate(135) scale(1.1)"><path d="M-7.2 -5.8Q-7.2 -7.9 -4.6 -7.9H0.5Q8 -7.9 8 0Q8 7.9 0.5 7.9H-4.6Q-7.2 7.9 -7.2 5.8Z" class="ch"/><path d="M2.6 -7.4Q6.8 0 2.6 7.4" class="chl"/></g><g transform="translate(821.7 707) rotate(45) scale(1.1)"><path d="M-7.2 -5.8Q-7.2 -7.9 -4.6 -7.9H0.5Q8 -7.9 8 0Q8 7.9 0.5 7.9H-4.6Q-7.2 7.9 -7.2 5.8Z" class="ch"/><path d="M2.6 -7.4Q6.8 0 2.6 7.4" class="chl"/></g><circle cx="800.4" cy="684.6" r="21" class="fu"/><g transform="translate(779.1 751.7) rotate(225) scale(1.1)"><path d="M-7.2 -5.8Q-7.2 -7.9 -4.6 -7.9H0.5Q8 -7.9 8 0Q8 7.9 0.5 7.9H-4.6Q-7.2 7.9 -7.2 5.8Z" class="ch"/><path d="M2.6 -7.4Q6.8 0 2.6 7.4" class="chl"/></g><g transform="translate(821.7 751.7) rotate(315) scale(1.1)"><path d="M-7.2 -5.8Q-7.2 -7.9 -4.6 -7.9H0.5Q8 -7.9 8 0Q8 7.9 0.5 7.9H-4.6Q-7.2 7.9 -7.2 5.8Z" class="ch"/><path d="M2.6 -7.4Q6.8 0 2.6 7.4" class="chl"/></g><g transform="translate(779.1 796.1) rotate(135) scale(1.1)"><path d="M-7.2 -5.8Q-7.2 -7.9 -4.6 -7.9H0.5Q8 -7.9 8 0Q8 7.9 0.5 7.9H-4.6Q-7.2 7.9 -7.2 5.8Z" class="ch"/><path d="M2.6 -7.4Q6.8 0 2.6 7.4" class="chl"/></g><g transform="translate(821.7 796.1) rotate(45) scale(1.1)"><path d="M-7.2 -5.8Q-7.2 -7.9 -4.6 -7.9H0.5Q8 -7.9 8 0Q8 7.9 0.5 7.9H-4.6Q-7.2 7.9 -7.2 5.8Z" class="ch"/><path d="M2.6 -7.4Q6.8 0 2.6 7.4" class="chl"/></g><circle cx="800.4" cy="773.7" r="21" class="fu"/><g transform="translate(867.1 664.2) rotate(225) scale(1.1)"><path d="M-7.2 -5.8Q-7.2 -7.9 -4.6 -7.9H0.5Q8 -7.9 8 0Q8 7.9 0.5 7.9H-4.6Q-7.2 7.9 -7.2 5.8Z" class="ch"/><path d="M2.6 -7.4Q6.8 0 2.6 7.4" class="chl"/></g><g transform="translate(906.9 664.2) rotate(315) scale(1.1)"><path d="M-7.2 -5.8Q-7.2 -7.9 -4.6 -7.9H0.5Q8 -7.9 8 0Q8 7.9 0.5 7.9H-4.6Q-7.2 7.9 -7.2 5.8Z" class="ch"/><path d="M2.6 -7.4Q6.8 0 2.6 7.4" class="chl"/></g><g transform="translate(867.1 705.4) rotate(135) scale(1.1)"><path d="M-7.2 -5.8Q-7.2 -7.9 -4.6 -7.9H0.5Q8 -7.9 8 0Q8 7.9 0.5 7.9H-4.6Q-7.2 7.9 -7.2 5.8Z" class="ch"/><path d="M2.6 -7.4Q6.8 0 2.6 7.4" class="chl"/></g><g transform="translate(906.9 705.4) rotate(45) scale(1.1)"><path d="M-7.2 -5.8Q-7.2 -7.9 -4.6 -7.9H0.5Q8 -7.9 8 0Q8 7.9 0.5 7.9H-4.6Q-7.2 7.9 -7.2 5.8Z" class="ch"/><path d="M2.6 -7.4Q6.8 0 2.6 7.4" class="chl"/></g><polygon points="887,658.8 913,684.8 887,710.8 861,684.8" class="fu"/><g transform="translate(867.1 753) rotate(225) scale(1.1)"><path d="M-7.2 -5.8Q-7.2 -7.9 -4.6 -7.9H0.5Q8 -7.9 8 0Q8 7.9 0.5 7.9H-4.6Q-7.2 7.9 -7.2 5.8Z" class="ch"/><path d="M2.6 -7.4Q6.8 0 2.6 7.4" class="chl"/></g><g transform="translate(906.9 753) rotate(315) scale(1.1)"><path d="M-7.2 -5.8Q-7.2 -7.9 -4.6 -7.9H0.5Q8 -7.9 8 0Q8 7.9 0.5 7.9H-4.6Q-7.2 7.9 -7.2 5.8Z" class="ch"/><path d="M2.6 -7.4Q6.8 0 2.6 7.4" class="chl"/></g><g transform="translate(867.1 794.2) rotate(135) scale(1.1)"><path d="M-7.2 -5.8Q-7.2 -7.9 -4.6 -7.9H0.5Q8 -7.9 8 0Q8 7.9 0.5 7.9H-4.6Q-7.2 7.9 -7.2 5.8Z" class="ch"/><path d="M2.6 -7.4Q6.8 0 2.6 7.4" class="chl"/></g><g transform="translate(906.9 794.2) rotate(45) scale(1.1)"><path d="M-7.2 -5.8Q-7.2 -7.9 -4.6 -7.9H0.5Q8 -7.9 8 0Q8 7.9 0.5 7.9H-4.6Q-7.2 7.9 -7.2 5.8Z" class="ch"/><path d="M2.6 -7.4Q6.8 0 2.6 7.4" class="chl"/></g><polygon points="887,747.6 913,773.6 887,799.6 861,773.6" class="fu"/><g transform="translate(883.1 867.6) rotate(225) scale(1.1)"><path d="M-7.2 -5.8Q-7.2 -7.9 -4.6 -7.9H0.5Q8 -7.9 8 0Q8 7.9 0.5 7.9H-4.6Q-7.2 7.9 -7.2 5.8Z" class="ch"/><path d="M2.6 -7.4Q6.8 0 2.6 7.4" class="chl"/></g><g transform="translate(922.9 867.6) rotate(315) scale(1.1)"><path d="M-7.2 -5.8Q-7.2 -7.9 -4.6 -7.9H0.5Q8 -7.9 8 0Q8 7.9 0.5 7.9H-4.6Q-7.2 7.9 -7.2 5.8Z" class="ch"/><path d="M2.6 -7.4Q6.8 0 2.6 7.4" class="chl"/></g><g transform="translate(883.1 908.8) rotate(135) scale(1.1)"><path d="M-7.2 -5.8Q-7.2 -7.9 -4.6 -7.9H0.5Q8 -7.9 8 0Q8 7.9 0.5 7.9H-4.6Q-7.2 7.9 -7.2 5.8Z" class="ch"/><path d="M2.6 -7.4Q6.8 0 2.6 7.4" class="chl"/></g><g transform="translate(922.9 908.8) rotate(45) scale(1.1)"><path d="M-7.2 -5.8Q-7.2 -7.9 -4.6 -7.9H0.5Q8 -7.9 8 0Q8 7.9 0.5 7.9H-4.6Q-7.2 7.9 -7.2 5.8Z" class="ch"/><path d="M2.6 -7.4Q6.8 0 2.6 7.4" class="chl"/></g><polygon points="903,862.7 928.5,888.2 903,913.7 877.5,888.2" class="fu"/><rect x="762.2" y="826.5" width="57.7" height="21.7" class="fu"/><path d="M782.6 826.5L782.6 848.2" class="fl"/><path d="M800.3 826.5L800.3 848.2" class="fl"/><path d="M762.2 829.5L819.9 829.5" class="fl"/><path d="M762.2 832.4L819.9 832.4" class="fl"/><rect x="784" y="863.7" width="23.6" height="55.7" class="fu"/><rect x="829.4" y="853.4" width="22" height="98.1" class="fu"/><rect x="772.3" y="929.8" width="79.1" height="21.7" class="fu"/><path d="M845.5 853.4L845.5 946" class="fl"/><path d="M848.5 853.4L848.5 949" class="fl"/><path d="M772.3 946L845.5 946" class="fl"/><path d="M772.3 949L848.5 949" class="fl"/><path d="M845.5 946L851.4 951.5" class="fl"/><path d="M829.4 872.6L845.5 872.6" class="fl"/><path d="M829.4 891.8L845.5 891.8" class="fl"/><path d="M829.4 911L845.5 911" class="fl"/><path d="M829.4 929.8L845.5 929.8" class="fl"/><path d="M791.5 929.8L791.5 946" class="fl"/><path d="M810.5 929.8L810.5 946" class="fl"/><path d="M829.4 929.8L829.4 946" class="fl"/><rect x="773.4" y="960.2" width="13.2" height="14.8" rx="3" class="ch"/><rect x="796.9" y="960.2" width="13.2" height="14.8" rx="3" class="ch"/><rect x="820.4" y="960.2" width="13.2" height="14.8" rx="3" class="ch"/><rect x="843.9" y="960.2" width="13.2" height="14.8" rx="3" class="ch"/><rect x="867.4" y="960.2" width="13.2" height="14.8" rx="3" class="ch"/><rect x="891" y="960.2" width="13.2" height="14.8" rx="3" class="ch"/><rect x="914.6" y="960.2" width="13.2" height="14.8" rx="3" class="ch"/><rect x="938.2" y="960.2" width="13.2" height="14.8" rx="3" class="ch"/><rect x="769" y="974.4" width="188.5" height="19" class="fu"/><path d="M861.5 974.4L861.5 993.4" class="fl"/><path d="M864.5 974.4L864.5 993.4" class="fl"/><path d="M769 990.5L957.5 990.5" class="fl"/><rect x="989.3" y="937.7" width="19" height="56.9" class="fu"/><rect x="1040" y="937.7" width="17.2" height="56.9" class="fu"/><rect x="1060" y="937.7" width="17.6" height="56.9" class="fu"/><rect x="1081" y="939.8" width="25.7" height="54.8" class="fu"/><rect x="1109.7" y="937.7" width="17.4" height="56.9" class="fu"/><path d="M1008.3 940L1040 940" class="fl"/><path d="M1024 940L1024 972" class="fl"/><path d="M1027 940L1027 972" class="fl"/><path d="M991.5 937.7L991.5 994.6" class="fl"/><path d="M1055 937.7L1055 994.6" class="fl"/><path d="M1062.5 937.7L1062.5 994.6" class="fl"/><path d="M1124.5 937.7L1124.5 994.6" class="fl"/><path d="M1086 989h16M1088 991.5h12M1094 987v5" class="chl"/><g transform="translate(1013 585.3) scale(-1 1)"><ellipse cx="4.2" cy="0" rx="5.2" ry="8.6" class="oc"/><rect x="-6.6" y="-10.4" width="6" height="2.8" rx="1.2" class="oc"/><rect x="-6.6" y="7.6" width="6" height="2.8" rx="1.2" class="oc"/><path d="M-9.5 -8.4H-2Q5.2 -8.4 5.2 -1V1Q5.2 8.4 -2 8.4H-9.5Z" class="oc"/><path d="M2.6 -7.4Q5.6 0 2.6 7.4" class="chd"/></g><g transform="translate(1077 585.3) scale(1 1)"><ellipse cx="4.2" cy="0" rx="5.2" ry="8.6" class="oc"/><rect x="-6.6" y="-10.4" width="6" height="2.8" rx="1.2" class="oc"/><rect x="-6.6" y="7.6" width="6" height="2.8" rx="1.2" class="oc"/><path d="M-9.5 -8.4H-2Q5.2 -8.4 5.2 -1V1Q5.2 8.4 -2 8.4H-9.5Z" class="oc"/><path d="M2.6 -7.4Q5.6 0 2.6 7.4" class="chd"/></g><g transform="translate(1013 623.3) scale(-1 1)"><ellipse cx="4.2" cy="0" rx="5.2" ry="8.6" class="oc"/><rect x="-6.6" y="-10.4" width="6" height="2.8" rx="1.2" class="oc"/><rect x="-6.6" y="7.6" width="6" height="2.8" rx="1.2" class="oc"/><path d="M-9.5 -8.4H-2Q5.2 -8.4 5.2 -1V1Q5.2 8.4 -2 8.4H-9.5Z" class="oc"/><path d="M2.6 -7.4Q5.6 0 2.6 7.4" class="chd"/></g><g transform="translate(1077 623.3) scale(1 1)"><ellipse cx="4.2" cy="0" rx="5.2" ry="8.6" class="oc"/><rect x="-6.6" y="-10.4" width="6" height="2.8" rx="1.2" class="oc"/><rect x="-6.6" y="7.6" width="6" height="2.8" rx="1.2" class="oc"/><path d="M-9.5 -8.4H-2Q5.2 -8.4 5.2 -1V1Q5.2 8.4 -2 8.4H-9.5Z" class="oc"/><path d="M2.6 -7.4Q5.6 0 2.6 7.4" class="chd"/></g><g transform="translate(1013 661.3) scale(-1 1)"><ellipse cx="4.2" cy="0" rx="5.2" ry="8.6" class="oc"/><rect x="-6.6" y="-10.4" width="6" height="2.8" rx="1.2" class="oc"/><rect x="-6.6" y="7.6" width="6" height="2.8" rx="1.2" class="oc"/><path d="M-9.5 -8.4H-2Q5.2 -8.4 5.2 -1V1Q5.2 8.4 -2 8.4H-9.5Z" class="oc"/><path d="M2.6 -7.4Q5.6 0 2.6 7.4" class="chd"/></g><g transform="translate(1077 661.3) scale(1 1)"><ellipse cx="4.2" cy="0" rx="5.2" ry="8.6" class="oc"/><rect x="-6.6" y="-10.4" width="6" height="2.8" rx="1.2" class="oc"/><rect x="-6.6" y="7.6" width="6" height="2.8" rx="1.2" class="oc"/><path d="M-9.5 -8.4H-2Q5.2 -8.4 5.2 -1V1Q5.2 8.4 -2 8.4H-9.5Z" class="oc"/><path d="M2.6 -7.4Q5.6 0 2.6 7.4" class="chd"/></g><g transform="translate(1013 699.5) scale(-1 1)"><ellipse cx="4.2" cy="0" rx="5.2" ry="8.6" class="oc"/><rect x="-6.6" y="-10.4" width="6" height="2.8" rx="1.2" class="oc"/><rect x="-6.6" y="7.6" width="6" height="2.8" rx="1.2" class="oc"/><path d="M-9.5 -8.4H-2Q5.2 -8.4 5.2 -1V1Q5.2 8.4 -2 8.4H-9.5Z" class="oc"/><path d="M2.6 -7.4Q5.6 0 2.6 7.4" class="chd"/></g><g transform="translate(1077 699.5) scale(1 1)"><ellipse cx="4.2" cy="0" rx="5.2" ry="8.6" class="oc"/><rect x="-6.6" y="-10.4" width="6" height="2.8" rx="1.2" class="oc"/><rect x="-6.6" y="7.6" width="6" height="2.8" rx="1.2" class="oc"/><path d="M-9.5 -8.4H-2Q5.2 -8.4 5.2 -1V1Q5.2 8.4 -2 8.4H-9.5Z" class="oc"/><path d="M2.6 -7.4Q5.6 0 2.6 7.4" class="chd"/></g><rect x="1022.4" y="567.3" width="45.2" height="150.5" class="dk_"/><rect x="1022.4" y="567.3" width="45.2" height="1.6" class="dtop"/><rect x="1043.6" y="567.3" width="2.8" height="150.5" class="part"/><rect x="1022.4" y="640.9" width="45.2" height="2.2" class="part"/><path d="M1041.8 567.3L1041.8 717.8" class="fl"/><path d="M1048.2 567.3L1048.2 717.8" class="fl"/><path d="M1022.4 716L1067.6 716" class="fl"/><g transform="translate(1013 771.3) scale(-1 1)"><ellipse cx="4.2" cy="0" rx="5.2" ry="8.6" class="oc"/><rect x="-6.6" y="-10.4" width="6" height="2.8" rx="1.2" class="oc"/><rect x="-6.6" y="7.6" width="6" height="2.8" rx="1.2" class="oc"/><path d="M-9.5 -8.4H-2Q5.2 -8.4 5.2 -1V1Q5.2 8.4 -2 8.4H-9.5Z" class="oc"/><path d="M2.6 -7.4Q5.6 0 2.6 7.4" class="chd"/></g><g transform="translate(1077 771.3) scale(1 1)"><ellipse cx="4.2" cy="0" rx="5.2" ry="8.6" class="oc"/><rect x="-6.6" y="-10.4" width="6" height="2.8" rx="1.2" class="oc"/><rect x="-6.6" y="7.6" width="6" height="2.8" rx="1.2" class="oc"/><path d="M-9.5 -8.4H-2Q5.2 -8.4 5.2 -1V1Q5.2 8.4 -2 8.4H-9.5Z" class="oc"/><path d="M2.6 -7.4Q5.6 0 2.6 7.4" class="chd"/></g><g transform="translate(1013 810.1) scale(-1 1)"><ellipse cx="4.2" cy="0" rx="5.2" ry="8.6" class="oc"/><rect x="-6.6" y="-10.4" width="6" height="2.8" rx="1.2" class="oc"/><rect x="-6.6" y="7.6" width="6" height="2.8" rx="1.2" class="oc"/><path d="M-9.5 -8.4H-2Q5.2 -8.4 5.2 -1V1Q5.2 8.4 -2 8.4H-9.5Z" class="oc"/><path d="M2.6 -7.4Q5.6 0 2.6 7.4" class="chd"/></g><g transform="translate(1077 810.1) scale(1 1)"><ellipse cx="4.2" cy="0" rx="5.2" ry="8.6" class="oc"/><rect x="-6.6" y="-10.4" width="6" height="2.8" rx="1.2" class="oc"/><rect x="-6.6" y="7.6" width="6" height="2.8" rx="1.2" class="oc"/><path d="M-9.5 -8.4H-2Q5.2 -8.4 5.2 -1V1Q5.2 8.4 -2 8.4H-9.5Z" class="oc"/><path d="M2.6 -7.4Q5.6 0 2.6 7.4" class="chd"/></g><g transform="translate(1013 848) scale(-1 1)"><ellipse cx="4.2" cy="0" rx="5.2" ry="8.6" class="oc"/><rect x="-6.6" y="-10.4" width="6" height="2.8" rx="1.2" class="oc"/><rect x="-6.6" y="7.6" width="6" height="2.8" rx="1.2" class="oc"/><path d="M-9.5 -8.4H-2Q5.2 -8.4 5.2 -1V1Q5.2 8.4 -2 8.4H-9.5Z" class="oc"/><path d="M2.6 -7.4Q5.6 0 2.6 7.4" class="chd"/></g><g transform="translate(1077 848) scale(1 1)"><ellipse cx="4.2" cy="0" rx="5.2" ry="8.6" class="oc"/><rect x="-6.6" y="-10.4" width="6" height="2.8" rx="1.2" class="oc"/><rect x="-6.6" y="7.6" width="6" height="2.8" rx="1.2" class="oc"/><path d="M-9.5 -8.4H-2Q5.2 -8.4 5.2 -1V1Q5.2 8.4 -2 8.4H-9.5Z" class="oc"/><path d="M2.6 -7.4Q5.6 0 2.6 7.4" class="chd"/></g><g transform="translate(1013 886.3) scale(-1 1)"><ellipse cx="4.2" cy="0" rx="5.2" ry="8.6" class="oc"/><rect x="-6.6" y="-10.4" width="6" height="2.8" rx="1.2" class="oc"/><rect x="-6.6" y="7.6" width="6" height="2.8" rx="1.2" class="oc"/><path d="M-9.5 -8.4H-2Q5.2 -8.4 5.2 -1V1Q5.2 8.4 -2 8.4H-9.5Z" class="oc"/><path d="M2.6 -7.4Q5.6 0 2.6 7.4" class="chd"/></g><g transform="translate(1077 886.3) scale(1 1)"><ellipse cx="4.2" cy="0" rx="5.2" ry="8.6" class="oc"/><rect x="-6.6" y="-10.4" width="6" height="2.8" rx="1.2" class="oc"/><rect x="-6.6" y="7.6" width="6" height="2.8" rx="1.2" class="oc"/><path d="M-9.5 -8.4H-2Q5.2 -8.4 5.2 -1V1Q5.2 8.4 -2 8.4H-9.5Z" class="oc"/><path d="M2.6 -7.4Q5.6 0 2.6 7.4" class="chd"/></g><rect x="1022.4" y="753" width="45.2" height="152.3" class="dk_"/><rect x="1022.4" y="753" width="45.2" height="1.6" class="dtop"/><rect x="1043.6" y="753" width="2.8" height="152.3" class="part"/><rect x="1022.4" y="828.1" width="45.2" height="2.2" class="part"/><path d="M1041.8 753L1041.8 905.3" class="fl"/><path d="M1048.2 753L1048.2 905.3" class="fl"/><path d="M1022.4 903.5L1067.6 903.5" class="fl"/><g transform="translate(1116.6 585.3) scale(-1 1)"><ellipse cx="4.2" cy="0" rx="5.2" ry="8.6" class="oc"/><rect x="-6.6" y="-10.4" width="6" height="2.8" rx="1.2" class="oc"/><rect x="-6.6" y="7.6" width="6" height="2.8" rx="1.2" class="oc"/><path d="M-9.5 -8.4H-2Q5.2 -8.4 5.2 -1V1Q5.2 8.4 -2 8.4H-9.5Z" class="oc"/><path d="M2.6 -7.4Q5.6 0 2.6 7.4" class="chd"/></g><g transform="translate(1180.6 585.3) scale(1 1)"><ellipse cx="4.2" cy="0" rx="5.2" ry="8.6" class="oc"/><rect x="-6.6" y="-10.4" width="6" height="2.8" rx="1.2" class="oc"/><rect x="-6.6" y="7.6" width="6" height="2.8" rx="1.2" class="oc"/><path d="M-9.5 -8.4H-2Q5.2 -8.4 5.2 -1V1Q5.2 8.4 -2 8.4H-9.5Z" class="oc"/><path d="M2.6 -7.4Q5.6 0 2.6 7.4" class="chd"/></g><g transform="translate(1116.6 623.3) scale(-1 1)"><ellipse cx="4.2" cy="0" rx="5.2" ry="8.6" class="oc"/><rect x="-6.6" y="-10.4" width="6" height="2.8" rx="1.2" class="oc"/><rect x="-6.6" y="7.6" width="6" height="2.8" rx="1.2" class="oc"/><path d="M-9.5 -8.4H-2Q5.2 -8.4 5.2 -1V1Q5.2 8.4 -2 8.4H-9.5Z" class="oc"/><path d="M2.6 -7.4Q5.6 0 2.6 7.4" class="chd"/></g><g transform="translate(1180.6 623.3) scale(1 1)"><ellipse cx="4.2" cy="0" rx="5.2" ry="8.6" class="oc"/><rect x="-6.6" y="-10.4" width="6" height="2.8" rx="1.2" class="oc"/><rect x="-6.6" y="7.6" width="6" height="2.8" rx="1.2" class="oc"/><path d="M-9.5 -8.4H-2Q5.2 -8.4 5.2 -1V1Q5.2 8.4 -2 8.4H-9.5Z" class="oc"/><path d="M2.6 -7.4Q5.6 0 2.6 7.4" class="chd"/></g><g transform="translate(1116.6 661.3) scale(-1 1)"><ellipse cx="4.2" cy="0" rx="5.2" ry="8.6" class="oc"/><rect x="-6.6" y="-10.4" width="6" height="2.8" rx="1.2" class="oc"/><rect x="-6.6" y="7.6" width="6" height="2.8" rx="1.2" class="oc"/><path d="M-9.5 -8.4H-2Q5.2 -8.4 5.2 -1V1Q5.2 8.4 -2 8.4H-9.5Z" class="oc"/><path d="M2.6 -7.4Q5.6 0 2.6 7.4" class="chd"/></g><g transform="translate(1180.6 661.3) scale(1 1)"><ellipse cx="4.2" cy="0" rx="5.2" ry="8.6" class="oc"/><rect x="-6.6" y="-10.4" width="6" height="2.8" rx="1.2" class="oc"/><rect x="-6.6" y="7.6" width="6" height="2.8" rx="1.2" class="oc"/><path d="M-9.5 -8.4H-2Q5.2 -8.4 5.2 -1V1Q5.2 8.4 -2 8.4H-9.5Z" class="oc"/><path d="M2.6 -7.4Q5.6 0 2.6 7.4" class="chd"/></g><g transform="translate(1116.6 699.5) scale(-1 1)"><ellipse cx="4.2" cy="0" rx="5.2" ry="8.6" class="oc"/><rect x="-6.6" y="-10.4" width="6" height="2.8" rx="1.2" class="oc"/><rect x="-6.6" y="7.6" width="6" height="2.8" rx="1.2" class="oc"/><path d="M-9.5 -8.4H-2Q5.2 -8.4 5.2 -1V1Q5.2 8.4 -2 8.4H-9.5Z" class="oc"/><path d="M2.6 -7.4Q5.6 0 2.6 7.4" class="chd"/></g><g transform="translate(1180.6 699.5) scale(1 1)"><ellipse cx="4.2" cy="0" rx="5.2" ry="8.6" class="oc"/><rect x="-6.6" y="-10.4" width="6" height="2.8" rx="1.2" class="oc"/><rect x="-6.6" y="7.6" width="6" height="2.8" rx="1.2" class="oc"/><path d="M-9.5 -8.4H-2Q5.2 -8.4 5.2 -1V1Q5.2 8.4 -2 8.4H-9.5Z" class="oc"/><path d="M2.6 -7.4Q5.6 0 2.6 7.4" class="chd"/></g><rect x="1126" y="567.3" width="45.2" height="150.5" class="dk_"/><rect x="1126" y="567.3" width="45.2" height="1.6" class="dtop"/><rect x="1147.2" y="567.3" width="2.8" height="150.5" class="part"/><rect x="1126" y="640.9" width="45.2" height="2.2" class="part"/><path d="M1145.4 567.3L1145.4 717.8" class="fl"/><path d="M1151.8 567.3L1151.8 717.8" class="fl"/><path d="M1126 716L1171.2 716" class="fl"/><g transform="translate(1116.6 771.3) scale(-1 1)"><ellipse cx="4.2" cy="0" rx="5.2" ry="8.6" class="oc"/><rect x="-6.6" y="-10.4" width="6" height="2.8" rx="1.2" class="oc"/><rect x="-6.6" y="7.6" width="6" height="2.8" rx="1.2" class="oc"/><path d="M-9.5 -8.4H-2Q5.2 -8.4 5.2 -1V1Q5.2 8.4 -2 8.4H-9.5Z" class="oc"/><path d="M2.6 -7.4Q5.6 0 2.6 7.4" class="chd"/></g><g transform="translate(1180.6 771.3) scale(1 1)"><ellipse cx="4.2" cy="0" rx="5.2" ry="8.6" class="oc"/><rect x="-6.6" y="-10.4" width="6" height="2.8" rx="1.2" class="oc"/><rect x="-6.6" y="7.6" width="6" height="2.8" rx="1.2" class="oc"/><path d="M-9.5 -8.4H-2Q5.2 -8.4 5.2 -1V1Q5.2 8.4 -2 8.4H-9.5Z" class="oc"/><path d="M2.6 -7.4Q5.6 0 2.6 7.4" class="chd"/></g><g transform="translate(1116.6 810.1) scale(-1 1)"><ellipse cx="4.2" cy="0" rx="5.2" ry="8.6" class="oc"/><rect x="-6.6" y="-10.4" width="6" height="2.8" rx="1.2" class="oc"/><rect x="-6.6" y="7.6" width="6" height="2.8" rx="1.2" class="oc"/><path d="M-9.5 -8.4H-2Q5.2 -8.4 5.2 -1V1Q5.2 8.4 -2 8.4H-9.5Z" class="oc"/><path d="M2.6 -7.4Q5.6 0 2.6 7.4" class="chd"/></g><g transform="translate(1180.6 810.1) scale(1 1)"><ellipse cx="4.2" cy="0" rx="5.2" ry="8.6" class="oc"/><rect x="-6.6" y="-10.4" width="6" height="2.8" rx="1.2" class="oc"/><rect x="-6.6" y="7.6" width="6" height="2.8" rx="1.2" class="oc"/><path d="M-9.5 -8.4H-2Q5.2 -8.4 5.2 -1V1Q5.2 8.4 -2 8.4H-9.5Z" class="oc"/><path d="M2.6 -7.4Q5.6 0 2.6 7.4" class="chd"/></g><g transform="translate(1116.6 848) scale(-1 1)"><ellipse cx="4.2" cy="0" rx="5.2" ry="8.6" class="oc"/><rect x="-6.6" y="-10.4" width="6" height="2.8" rx="1.2" class="oc"/><rect x="-6.6" y="7.6" width="6" height="2.8" rx="1.2" class="oc"/><path d="M-9.5 -8.4H-2Q5.2 -8.4 5.2 -1V1Q5.2 8.4 -2 8.4H-9.5Z" class="oc"/><path d="M2.6 -7.4Q5.6 0 2.6 7.4" class="chd"/></g><g transform="translate(1180.6 848) scale(1 1)"><ellipse cx="4.2" cy="0" rx="5.2" ry="8.6" class="oc"/><rect x="-6.6" y="-10.4" width="6" height="2.8" rx="1.2" class="oc"/><rect x="-6.6" y="7.6" width="6" height="2.8" rx="1.2" class="oc"/><path d="M-9.5 -8.4H-2Q5.2 -8.4 5.2 -1V1Q5.2 8.4 -2 8.4H-9.5Z" class="oc"/><path d="M2.6 -7.4Q5.6 0 2.6 7.4" class="chd"/></g><g transform="translate(1116.6 886.3) scale(-1 1)"><ellipse cx="4.2" cy="0" rx="5.2" ry="8.6" class="oc"/><rect x="-6.6" y="-10.4" width="6" height="2.8" rx="1.2" class="oc"/><rect x="-6.6" y="7.6" width="6" height="2.8" rx="1.2" class="oc"/><path d="M-9.5 -8.4H-2Q5.2 -8.4 5.2 -1V1Q5.2 8.4 -2 8.4H-9.5Z" class="oc"/><path d="M2.6 -7.4Q5.6 0 2.6 7.4" class="chd"/></g><g transform="translate(1180.6 886.3) scale(1 1)"><ellipse cx="4.2" cy="0" rx="5.2" ry="8.6" class="oc"/><rect x="-6.6" y="-10.4" width="6" height="2.8" rx="1.2" class="oc"/><rect x="-6.6" y="7.6" width="6" height="2.8" rx="1.2" class="oc"/><path d="M-9.5 -8.4H-2Q5.2 -8.4 5.2 -1V1Q5.2 8.4 -2 8.4H-9.5Z" class="oc"/><path d="M2.6 -7.4Q5.6 0 2.6 7.4" class="chd"/></g><rect x="1126" y="753" width="45.2" height="152.3" class="dk_"/><rect x="1126" y="753" width="45.2" height="1.6" class="dtop"/><rect x="1147.2" y="753" width="2.8" height="152.3" class="part"/><rect x="1126" y="828.1" width="45.2" height="2.2" class="part"/><path d="M1145.4 753L1145.4 905.3" class="fl"/><path d="M1151.8 753L1151.8 905.3" class="fl"/><path d="M1126 903.5L1171.2 903.5" class="fl"/><g transform="translate(1219.1 585.3) scale(-1 1)"><ellipse cx="4.2" cy="0" rx="5.2" ry="8.6" class="oc"/><rect x="-6.6" y="-10.4" width="6" height="2.8" rx="1.2" class="oc"/><rect x="-6.6" y="7.6" width="6" height="2.8" rx="1.2" class="oc"/><path d="M-9.5 -8.4H-2Q5.2 -8.4 5.2 -1V1Q5.2 8.4 -2 8.4H-9.5Z" class="oc"/><path d="M2.6 -7.4Q5.6 0 2.6 7.4" class="chd"/></g><g transform="translate(1283.1 585.3) scale(1 1)"><ellipse cx="4.2" cy="0" rx="5.2" ry="8.6" class="oc"/><rect x="-6.6" y="-10.4" width="6" height="2.8" rx="1.2" class="oc"/><rect x="-6.6" y="7.6" width="6" height="2.8" rx="1.2" class="oc"/><path d="M-9.5 -8.4H-2Q5.2 -8.4 5.2 -1V1Q5.2 8.4 -2 8.4H-9.5Z" class="oc"/><path d="M2.6 -7.4Q5.6 0 2.6 7.4" class="chd"/></g><g transform="translate(1219.1 623.3) scale(-1 1)"><ellipse cx="4.2" cy="0" rx="5.2" ry="8.6" class="oc"/><rect x="-6.6" y="-10.4" width="6" height="2.8" rx="1.2" class="oc"/><rect x="-6.6" y="7.6" width="6" height="2.8" rx="1.2" class="oc"/><path d="M-9.5 -8.4H-2Q5.2 -8.4 5.2 -1V1Q5.2 8.4 -2 8.4H-9.5Z" class="oc"/><path d="M2.6 -7.4Q5.6 0 2.6 7.4" class="chd"/></g><g transform="translate(1283.1 623.3) scale(1 1)"><ellipse cx="4.2" cy="0" rx="5.2" ry="8.6" class="oc"/><rect x="-6.6" y="-10.4" width="6" height="2.8" rx="1.2" class="oc"/><rect x="-6.6" y="7.6" width="6" height="2.8" rx="1.2" class="oc"/><path d="M-9.5 -8.4H-2Q5.2 -8.4 5.2 -1V1Q5.2 8.4 -2 8.4H-9.5Z" class="oc"/><path d="M2.6 -7.4Q5.6 0 2.6 7.4" class="chd"/></g><g transform="translate(1219.1 661.3) scale(-1 1)"><ellipse cx="4.2" cy="0" rx="5.2" ry="8.6" class="oc"/><rect x="-6.6" y="-10.4" width="6" height="2.8" rx="1.2" class="oc"/><rect x="-6.6" y="7.6" width="6" height="2.8" rx="1.2" class="oc"/><path d="M-9.5 -8.4H-2Q5.2 -8.4 5.2 -1V1Q5.2 8.4 -2 8.4H-9.5Z" class="oc"/><path d="M2.6 -7.4Q5.6 0 2.6 7.4" class="chd"/></g><g transform="translate(1283.1 661.3) scale(1 1)"><ellipse cx="4.2" cy="0" rx="5.2" ry="8.6" class="oc"/><rect x="-6.6" y="-10.4" width="6" height="2.8" rx="1.2" class="oc"/><rect x="-6.6" y="7.6" width="6" height="2.8" rx="1.2" class="oc"/><path d="M-9.5 -8.4H-2Q5.2 -8.4 5.2 -1V1Q5.2 8.4 -2 8.4H-9.5Z" class="oc"/><path d="M2.6 -7.4Q5.6 0 2.6 7.4" class="chd"/></g><g transform="translate(1219.1 699.5) scale(-1 1)"><ellipse cx="4.2" cy="0" rx="5.2" ry="8.6" class="oc"/><rect x="-6.6" y="-10.4" width="6" height="2.8" rx="1.2" class="oc"/><rect x="-6.6" y="7.6" width="6" height="2.8" rx="1.2" class="oc"/><path d="M-9.5 -8.4H-2Q5.2 -8.4 5.2 -1V1Q5.2 8.4 -2 8.4H-9.5Z" class="oc"/><path d="M2.6 -7.4Q5.6 0 2.6 7.4" class="chd"/></g><g transform="translate(1283.1 699.5) scale(1 1)"><ellipse cx="4.2" cy="0" rx="5.2" ry="8.6" class="oc"/><rect x="-6.6" y="-10.4" width="6" height="2.8" rx="1.2" class="oc"/><rect x="-6.6" y="7.6" width="6" height="2.8" rx="1.2" class="oc"/><path d="M-9.5 -8.4H-2Q5.2 -8.4 5.2 -1V1Q5.2 8.4 -2 8.4H-9.5Z" class="oc"/><path d="M2.6 -7.4Q5.6 0 2.6 7.4" class="chd"/></g><rect x="1228.5" y="567.3" width="45.2" height="150.5" class="dk_"/><rect x="1228.5" y="567.3" width="45.2" height="1.6" class="dtop"/><rect x="1249.7" y="567.3" width="2.8" height="150.5" class="part"/><rect x="1228.5" y="640.9" width="45.2" height="2.2" class="part"/><path d="M1247.9 567.3L1247.9 717.8" class="fl"/><path d="M1254.3 567.3L1254.3 717.8" class="fl"/><path d="M1228.5 716L1273.7 716" class="fl"/><g transform="translate(1219.1 771.3) scale(-1 1)"><ellipse cx="4.2" cy="0" rx="5.2" ry="8.6" class="oc"/><rect x="-6.6" y="-10.4" width="6" height="2.8" rx="1.2" class="oc"/><rect x="-6.6" y="7.6" width="6" height="2.8" rx="1.2" class="oc"/><path d="M-9.5 -8.4H-2Q5.2 -8.4 5.2 -1V1Q5.2 8.4 -2 8.4H-9.5Z" class="oc"/><path d="M2.6 -7.4Q5.6 0 2.6 7.4" class="chd"/></g><g transform="translate(1283.1 771.3) scale(1 1)"><ellipse cx="4.2" cy="0" rx="5.2" ry="8.6" class="oc"/><rect x="-6.6" y="-10.4" width="6" height="2.8" rx="1.2" class="oc"/><rect x="-6.6" y="7.6" width="6" height="2.8" rx="1.2" class="oc"/><path d="M-9.5 -8.4H-2Q5.2 -8.4 5.2 -1V1Q5.2 8.4 -2 8.4H-9.5Z" class="oc"/><path d="M2.6 -7.4Q5.6 0 2.6 7.4" class="chd"/></g><g transform="translate(1219.1 810.1) scale(-1 1)"><ellipse cx="4.2" cy="0" rx="5.2" ry="8.6" class="oc"/><rect x="-6.6" y="-10.4" width="6" height="2.8" rx="1.2" class="oc"/><rect x="-6.6" y="7.6" width="6" height="2.8" rx="1.2" class="oc"/><path d="M-9.5 -8.4H-2Q5.2 -8.4 5.2 -1V1Q5.2 8.4 -2 8.4H-9.5Z" class="oc"/><path d="M2.6 -7.4Q5.6 0 2.6 7.4" class="chd"/></g><g transform="translate(1283.1 810.1) scale(1 1)"><ellipse cx="4.2" cy="0" rx="5.2" ry="8.6" class="oc"/><rect x="-6.6" y="-10.4" width="6" height="2.8" rx="1.2" class="oc"/><rect x="-6.6" y="7.6" width="6" height="2.8" rx="1.2" class="oc"/><path d="M-9.5 -8.4H-2Q5.2 -8.4 5.2 -1V1Q5.2 8.4 -2 8.4H-9.5Z" class="oc"/><path d="M2.6 -7.4Q5.6 0 2.6 7.4" class="chd"/></g><g transform="translate(1219.1 848) scale(-1 1)"><ellipse cx="4.2" cy="0" rx="5.2" ry="8.6" class="oc"/><rect x="-6.6" y="-10.4" width="6" height="2.8" rx="1.2" class="oc"/><rect x="-6.6" y="7.6" width="6" height="2.8" rx="1.2" class="oc"/><path d="M-9.5 -8.4H-2Q5.2 -8.4 5.2 -1V1Q5.2 8.4 -2 8.4H-9.5Z" class="oc"/><path d="M2.6 -7.4Q5.6 0 2.6 7.4" class="chd"/></g><g transform="translate(1283.1 848) scale(1 1)"><ellipse cx="4.2" cy="0" rx="5.2" ry="8.6" class="oc"/><rect x="-6.6" y="-10.4" width="6" height="2.8" rx="1.2" class="oc"/><rect x="-6.6" y="7.6" width="6" height="2.8" rx="1.2" class="oc"/><path d="M-9.5 -8.4H-2Q5.2 -8.4 5.2 -1V1Q5.2 8.4 -2 8.4H-9.5Z" class="oc"/><path d="M2.6 -7.4Q5.6 0 2.6 7.4" class="chd"/></g><g transform="translate(1219.1 886.3) scale(-1 1)"><ellipse cx="4.2" cy="0" rx="5.2" ry="8.6" class="oc"/><rect x="-6.6" y="-10.4" width="6" height="2.8" rx="1.2" class="oc"/><rect x="-6.6" y="7.6" width="6" height="2.8" rx="1.2" class="oc"/><path d="M-9.5 -8.4H-2Q5.2 -8.4 5.2 -1V1Q5.2 8.4 -2 8.4H-9.5Z" class="oc"/><path d="M2.6 -7.4Q5.6 0 2.6 7.4" class="chd"/></g><g transform="translate(1283.1 886.3) scale(1 1)"><ellipse cx="4.2" cy="0" rx="5.2" ry="8.6" class="oc"/><rect x="-6.6" y="-10.4" width="6" height="2.8" rx="1.2" class="oc"/><rect x="-6.6" y="7.6" width="6" height="2.8" rx="1.2" class="oc"/><path d="M-9.5 -8.4H-2Q5.2 -8.4 5.2 -1V1Q5.2 8.4 -2 8.4H-9.5Z" class="oc"/><path d="M2.6 -7.4Q5.6 0 2.6 7.4" class="chd"/></g><rect x="1228.5" y="753" width="45.2" height="152.3" class="dk_"/><rect x="1228.5" y="753" width="45.2" height="1.6" class="dtop"/><rect x="1249.7" y="753" width="2.8" height="152.3" class="part"/><rect x="1228.5" y="828.1" width="45.2" height="2.2" class="part"/><path d="M1247.9 753L1247.9 905.3" class="fl"/><path d="M1254.3 753L1254.3 905.3" class="fl"/><path d="M1228.5 903.5L1273.7 903.5" class="fl"/><g transform="translate(1322.9 585.3) scale(-1 1)"><ellipse cx="4.2" cy="0" rx="5.2" ry="8.6" class="oc"/><rect x="-6.6" y="-10.4" width="6" height="2.8" rx="1.2" class="oc"/><rect x="-6.6" y="7.6" width="6" height="2.8" rx="1.2" class="oc"/><path d="M-9.5 -8.4H-2Q5.2 -8.4 5.2 -1V1Q5.2 8.4 -2 8.4H-9.5Z" class="oc"/><path d="M2.6 -7.4Q5.6 0 2.6 7.4" class="chd"/></g><g transform="translate(1386.9 585.3) scale(1 1)"><ellipse cx="4.2" cy="0" rx="5.2" ry="8.6" class="oc"/><rect x="-6.6" y="-10.4" width="6" height="2.8" rx="1.2" class="oc"/><rect x="-6.6" y="7.6" width="6" height="2.8" rx="1.2" class="oc"/><path d="M-9.5 -8.4H-2Q5.2 -8.4 5.2 -1V1Q5.2 8.4 -2 8.4H-9.5Z" class="oc"/><path d="M2.6 -7.4Q5.6 0 2.6 7.4" class="chd"/></g><g transform="translate(1322.9 623.3) scale(-1 1)"><ellipse cx="4.2" cy="0" rx="5.2" ry="8.6" class="oc"/><rect x="-6.6" y="-10.4" width="6" height="2.8" rx="1.2" class="oc"/><rect x="-6.6" y="7.6" width="6" height="2.8" rx="1.2" class="oc"/><path d="M-9.5 -8.4H-2Q5.2 -8.4 5.2 -1V1Q5.2 8.4 -2 8.4H-9.5Z" class="oc"/><path d="M2.6 -7.4Q5.6 0 2.6 7.4" class="chd"/></g><g transform="translate(1386.9 623.3) scale(1 1)"><ellipse cx="4.2" cy="0" rx="5.2" ry="8.6" class="oc"/><rect x="-6.6" y="-10.4" width="6" height="2.8" rx="1.2" class="oc"/><rect x="-6.6" y="7.6" width="6" height="2.8" rx="1.2" class="oc"/><path d="M-9.5 -8.4H-2Q5.2 -8.4 5.2 -1V1Q5.2 8.4 -2 8.4H-9.5Z" class="oc"/><path d="M2.6 -7.4Q5.6 0 2.6 7.4" class="chd"/></g><g transform="translate(1322.9 661.3) scale(-1 1)"><ellipse cx="4.2" cy="0" rx="5.2" ry="8.6" class="oc"/><rect x="-6.6" y="-10.4" width="6" height="2.8" rx="1.2" class="oc"/><rect x="-6.6" y="7.6" width="6" height="2.8" rx="1.2" class="oc"/><path d="M-9.5 -8.4H-2Q5.2 -8.4 5.2 -1V1Q5.2 8.4 -2 8.4H-9.5Z" class="oc"/><path d="M2.6 -7.4Q5.6 0 2.6 7.4" class="chd"/></g><g transform="translate(1386.9 661.3) scale(1 1)"><ellipse cx="4.2" cy="0" rx="5.2" ry="8.6" class="oc"/><rect x="-6.6" y="-10.4" width="6" height="2.8" rx="1.2" class="oc"/><rect x="-6.6" y="7.6" width="6" height="2.8" rx="1.2" class="oc"/><path d="M-9.5 -8.4H-2Q5.2 -8.4 5.2 -1V1Q5.2 8.4 -2 8.4H-9.5Z" class="oc"/><path d="M2.6 -7.4Q5.6 0 2.6 7.4" class="chd"/></g><g transform="translate(1322.9 699.5) scale(-1 1)"><ellipse cx="4.2" cy="0" rx="5.2" ry="8.6" class="oc"/><rect x="-6.6" y="-10.4" width="6" height="2.8" rx="1.2" class="oc"/><rect x="-6.6" y="7.6" width="6" height="2.8" rx="1.2" class="oc"/><path d="M-9.5 -8.4H-2Q5.2 -8.4 5.2 -1V1Q5.2 8.4 -2 8.4H-9.5Z" class="oc"/><path d="M2.6 -7.4Q5.6 0 2.6 7.4" class="chd"/></g><g transform="translate(1386.9 699.5) scale(1 1)"><ellipse cx="4.2" cy="0" rx="5.2" ry="8.6" class="oc"/><rect x="-6.6" y="-10.4" width="6" height="2.8" rx="1.2" class="oc"/><rect x="-6.6" y="7.6" width="6" height="2.8" rx="1.2" class="oc"/><path d="M-9.5 -8.4H-2Q5.2 -8.4 5.2 -1V1Q5.2 8.4 -2 8.4H-9.5Z" class="oc"/><path d="M2.6 -7.4Q5.6 0 2.6 7.4" class="chd"/></g><rect x="1332.3" y="567.3" width="45.2" height="150.5" class="dk_"/><rect x="1332.3" y="567.3" width="45.2" height="1.6" class="dtop"/><rect x="1353.5" y="567.3" width="2.8" height="150.5" class="part"/><rect x="1332.3" y="640.9" width="45.2" height="2.2" class="part"/><path d="M1351.7 567.3L1351.7 717.8" class="fl"/><path d="M1358.1 567.3L1358.1 717.8" class="fl"/><path d="M1332.3 716L1377.5 716" class="fl"/><g transform="translate(1322.9 771.3) scale(-1 1)"><ellipse cx="4.2" cy="0" rx="5.2" ry="8.6" class="oc"/><rect x="-6.6" y="-10.4" width="6" height="2.8" rx="1.2" class="oc"/><rect x="-6.6" y="7.6" width="6" height="2.8" rx="1.2" class="oc"/><path d="M-9.5 -8.4H-2Q5.2 -8.4 5.2 -1V1Q5.2 8.4 -2 8.4H-9.5Z" class="oc"/><path d="M2.6 -7.4Q5.6 0 2.6 7.4" class="chd"/></g><g transform="translate(1386.9 771.3) scale(1 1)"><ellipse cx="4.2" cy="0" rx="5.2" ry="8.6" class="oc"/><rect x="-6.6" y="-10.4" width="6" height="2.8" rx="1.2" class="oc"/><rect x="-6.6" y="7.6" width="6" height="2.8" rx="1.2" class="oc"/><path d="M-9.5 -8.4H-2Q5.2 -8.4 5.2 -1V1Q5.2 8.4 -2 8.4H-9.5Z" class="oc"/><path d="M2.6 -7.4Q5.6 0 2.6 7.4" class="chd"/></g><g transform="translate(1322.9 810.1) scale(-1 1)"><ellipse cx="4.2" cy="0" rx="5.2" ry="8.6" class="oc"/><rect x="-6.6" y="-10.4" width="6" height="2.8" rx="1.2" class="oc"/><rect x="-6.6" y="7.6" width="6" height="2.8" rx="1.2" class="oc"/><path d="M-9.5 -8.4H-2Q5.2 -8.4 5.2 -1V1Q5.2 8.4 -2 8.4H-9.5Z" class="oc"/><path d="M2.6 -7.4Q5.6 0 2.6 7.4" class="chd"/></g><g transform="translate(1386.9 810.1) scale(1 1)"><ellipse cx="4.2" cy="0" rx="5.2" ry="8.6" class="oc"/><rect x="-6.6" y="-10.4" width="6" height="2.8" rx="1.2" class="oc"/><rect x="-6.6" y="7.6" width="6" height="2.8" rx="1.2" class="oc"/><path d="M-9.5 -8.4H-2Q5.2 -8.4 5.2 -1V1Q5.2 8.4 -2 8.4H-9.5Z" class="oc"/><path d="M2.6 -7.4Q5.6 0 2.6 7.4" class="chd"/></g><g transform="translate(1322.9 848) scale(-1 1)"><ellipse cx="4.2" cy="0" rx="5.2" ry="8.6" class="oc"/><rect x="-6.6" y="-10.4" width="6" height="2.8" rx="1.2" class="oc"/><rect x="-6.6" y="7.6" width="6" height="2.8" rx="1.2" class="oc"/><path d="M-9.5 -8.4H-2Q5.2 -8.4 5.2 -1V1Q5.2 8.4 -2 8.4H-9.5Z" class="oc"/><path d="M2.6 -7.4Q5.6 0 2.6 7.4" class="chd"/></g><g transform="translate(1386.9 848) scale(1 1)"><ellipse cx="4.2" cy="0" rx="5.2" ry="8.6" class="oc"/><rect x="-6.6" y="-10.4" width="6" height="2.8" rx="1.2" class="oc"/><rect x="-6.6" y="7.6" width="6" height="2.8" rx="1.2" class="oc"/><path d="M-9.5 -8.4H-2Q5.2 -8.4 5.2 -1V1Q5.2 8.4 -2 8.4H-9.5Z" class="oc"/><path d="M2.6 -7.4Q5.6 0 2.6 7.4" class="chd"/></g><g transform="translate(1322.9 886.3) scale(-1 1)"><ellipse cx="4.2" cy="0" rx="5.2" ry="8.6" class="oc"/><rect x="-6.6" y="-10.4" width="6" height="2.8" rx="1.2" class="oc"/><rect x="-6.6" y="7.6" width="6" height="2.8" rx="1.2" class="oc"/><path d="M-9.5 -8.4H-2Q5.2 -8.4 5.2 -1V1Q5.2 8.4 -2 8.4H-9.5Z" class="oc"/><path d="M2.6 -7.4Q5.6 0 2.6 7.4" class="chd"/></g><g transform="translate(1386.9 886.3) scale(1 1)"><ellipse cx="4.2" cy="0" rx="5.2" ry="8.6" class="oc"/><rect x="-6.6" y="-10.4" width="6" height="2.8" rx="1.2" class="oc"/><rect x="-6.6" y="7.6" width="6" height="2.8" rx="1.2" class="oc"/><path d="M-9.5 -8.4H-2Q5.2 -8.4 5.2 -1V1Q5.2 8.4 -2 8.4H-9.5Z" class="oc"/><path d="M2.6 -7.4Q5.6 0 2.6 7.4" class="chd"/></g><rect x="1332.3" y="753" width="45.2" height="152.3" class="dk_"/><rect x="1332.3" y="753" width="45.2" height="1.6" class="dtop"/><rect x="1353.5" y="753" width="2.8" height="152.3" class="part"/><rect x="1332.3" y="828.1" width="45.2" height="2.2" class="part"/><path d="M1351.7 753L1351.7 905.3" class="fl"/><path d="M1358.1 753L1358.1 905.3" class="fl"/><path d="M1332.3 903.5L1377.5 903.5" class="fl"/><g transform="translate(1425.1 585.3) scale(-1 1)"><ellipse cx="4.2" cy="0" rx="5.2" ry="8.6" class="oc"/><rect x="-6.6" y="-10.4" width="6" height="2.8" rx="1.2" class="oc"/><rect x="-6.6" y="7.6" width="6" height="2.8" rx="1.2" class="oc"/><path d="M-9.5 -8.4H-2Q5.2 -8.4 5.2 -1V1Q5.2 8.4 -2 8.4H-9.5Z" class="oc"/><path d="M2.6 -7.4Q5.6 0 2.6 7.4" class="chd"/></g><g transform="translate(1489.1 585.3) scale(1 1)"><ellipse cx="4.2" cy="0" rx="5.2" ry="8.6" class="oc"/><rect x="-6.6" y="-10.4" width="6" height="2.8" rx="1.2" class="oc"/><rect x="-6.6" y="7.6" width="6" height="2.8" rx="1.2" class="oc"/><path d="M-9.5 -8.4H-2Q5.2 -8.4 5.2 -1V1Q5.2 8.4 -2 8.4H-9.5Z" class="oc"/><path d="M2.6 -7.4Q5.6 0 2.6 7.4" class="chd"/></g><g transform="translate(1425.1 623.3) scale(-1 1)"><ellipse cx="4.2" cy="0" rx="5.2" ry="8.6" class="oc"/><rect x="-6.6" y="-10.4" width="6" height="2.8" rx="1.2" class="oc"/><rect x="-6.6" y="7.6" width="6" height="2.8" rx="1.2" class="oc"/><path d="M-9.5 -8.4H-2Q5.2 -8.4 5.2 -1V1Q5.2 8.4 -2 8.4H-9.5Z" class="oc"/><path d="M2.6 -7.4Q5.6 0 2.6 7.4" class="chd"/></g><g transform="translate(1489.1 623.3) scale(1 1)"><ellipse cx="4.2" cy="0" rx="5.2" ry="8.6" class="oc"/><rect x="-6.6" y="-10.4" width="6" height="2.8" rx="1.2" class="oc"/><rect x="-6.6" y="7.6" width="6" height="2.8" rx="1.2" class="oc"/><path d="M-9.5 -8.4H-2Q5.2 -8.4 5.2 -1V1Q5.2 8.4 -2 8.4H-9.5Z" class="oc"/><path d="M2.6 -7.4Q5.6 0 2.6 7.4" class="chd"/></g><g transform="translate(1425.1 661.3) scale(-1 1)"><ellipse cx="4.2" cy="0" rx="5.2" ry="8.6" class="oc"/><rect x="-6.6" y="-10.4" width="6" height="2.8" rx="1.2" class="oc"/><rect x="-6.6" y="7.6" width="6" height="2.8" rx="1.2" class="oc"/><path d="M-9.5 -8.4H-2Q5.2 -8.4 5.2 -1V1Q5.2 8.4 -2 8.4H-9.5Z" class="oc"/><path d="M2.6 -7.4Q5.6 0 2.6 7.4" class="chd"/></g><g transform="translate(1489.1 661.3) scale(1 1)"><ellipse cx="4.2" cy="0" rx="5.2" ry="8.6" class="oc"/><rect x="-6.6" y="-10.4" width="6" height="2.8" rx="1.2" class="oc"/><rect x="-6.6" y="7.6" width="6" height="2.8" rx="1.2" class="oc"/><path d="M-9.5 -8.4H-2Q5.2 -8.4 5.2 -1V1Q5.2 8.4 -2 8.4H-9.5Z" class="oc"/><path d="M2.6 -7.4Q5.6 0 2.6 7.4" class="chd"/></g><g transform="translate(1425.1 699.5) scale(-1 1)"><ellipse cx="4.2" cy="0" rx="5.2" ry="8.6" class="oc"/><rect x="-6.6" y="-10.4" width="6" height="2.8" rx="1.2" class="oc"/><rect x="-6.6" y="7.6" width="6" height="2.8" rx="1.2" class="oc"/><path d="M-9.5 -8.4H-2Q5.2 -8.4 5.2 -1V1Q5.2 8.4 -2 8.4H-9.5Z" class="oc"/><path d="M2.6 -7.4Q5.6 0 2.6 7.4" class="chd"/></g><g transform="translate(1489.1 699.5) scale(1 1)"><ellipse cx="4.2" cy="0" rx="5.2" ry="8.6" class="oc"/><rect x="-6.6" y="-10.4" width="6" height="2.8" rx="1.2" class="oc"/><rect x="-6.6" y="7.6" width="6" height="2.8" rx="1.2" class="oc"/><path d="M-9.5 -8.4H-2Q5.2 -8.4 5.2 -1V1Q5.2 8.4 -2 8.4H-9.5Z" class="oc"/><path d="M2.6 -7.4Q5.6 0 2.6 7.4" class="chd"/></g><rect x="1434.5" y="567.3" width="45.2" height="150.5" class="dk_"/><rect x="1434.5" y="567.3" width="45.2" height="1.6" class="dtop"/><rect x="1455.7" y="567.3" width="2.8" height="150.5" class="part"/><rect x="1434.5" y="640.9" width="45.2" height="2.2" class="part"/><path d="M1453.9 567.3L1453.9 717.8" class="fl"/><path d="M1460.3 567.3L1460.3 717.8" class="fl"/><path d="M1434.5 716L1479.7 716" class="fl"/><g transform="translate(1425.1 771.3) scale(-1 1)"><ellipse cx="4.2" cy="0" rx="5.2" ry="8.6" class="oc"/><rect x="-6.6" y="-10.4" width="6" height="2.8" rx="1.2" class="oc"/><rect x="-6.6" y="7.6" width="6" height="2.8" rx="1.2" class="oc"/><path d="M-9.5 -8.4H-2Q5.2 -8.4 5.2 -1V1Q5.2 8.4 -2 8.4H-9.5Z" class="oc"/><path d="M2.6 -7.4Q5.6 0 2.6 7.4" class="chd"/></g><g transform="translate(1489.1 771.3) scale(1 1)"><ellipse cx="4.2" cy="0" rx="5.2" ry="8.6" class="oc"/><rect x="-6.6" y="-10.4" width="6" height="2.8" rx="1.2" class="oc"/><rect x="-6.6" y="7.6" width="6" height="2.8" rx="1.2" class="oc"/><path d="M-9.5 -8.4H-2Q5.2 -8.4 5.2 -1V1Q5.2 8.4 -2 8.4H-9.5Z" class="oc"/><path d="M2.6 -7.4Q5.6 0 2.6 7.4" class="chd"/></g><g transform="translate(1425.1 810.1) scale(-1 1)"><ellipse cx="4.2" cy="0" rx="5.2" ry="8.6" class="oc"/><rect x="-6.6" y="-10.4" width="6" height="2.8" rx="1.2" class="oc"/><rect x="-6.6" y="7.6" width="6" height="2.8" rx="1.2" class="oc"/><path d="M-9.5 -8.4H-2Q5.2 -8.4 5.2 -1V1Q5.2 8.4 -2 8.4H-9.5Z" class="oc"/><path d="M2.6 -7.4Q5.6 0 2.6 7.4" class="chd"/></g><g transform="translate(1489.1 810.1) scale(1 1)"><ellipse cx="4.2" cy="0" rx="5.2" ry="8.6" class="oc"/><rect x="-6.6" y="-10.4" width="6" height="2.8" rx="1.2" class="oc"/><rect x="-6.6" y="7.6" width="6" height="2.8" rx="1.2" class="oc"/><path d="M-9.5 -8.4H-2Q5.2 -8.4 5.2 -1V1Q5.2 8.4 -2 8.4H-9.5Z" class="oc"/><path d="M2.6 -7.4Q5.6 0 2.6 7.4" class="chd"/></g><g transform="translate(1425.1 848) scale(-1 1)"><ellipse cx="4.2" cy="0" rx="5.2" ry="8.6" class="oc"/><rect x="-6.6" y="-10.4" width="6" height="2.8" rx="1.2" class="oc"/><rect x="-6.6" y="7.6" width="6" height="2.8" rx="1.2" class="oc"/><path d="M-9.5 -8.4H-2Q5.2 -8.4 5.2 -1V1Q5.2 8.4 -2 8.4H-9.5Z" class="oc"/><path d="M2.6 -7.4Q5.6 0 2.6 7.4" class="chd"/></g><g transform="translate(1489.1 848) scale(1 1)"><ellipse cx="4.2" cy="0" rx="5.2" ry="8.6" class="oc"/><rect x="-6.6" y="-10.4" width="6" height="2.8" rx="1.2" class="oc"/><rect x="-6.6" y="7.6" width="6" height="2.8" rx="1.2" class="oc"/><path d="M-9.5 -8.4H-2Q5.2 -8.4 5.2 -1V1Q5.2 8.4 -2 8.4H-9.5Z" class="oc"/><path d="M2.6 -7.4Q5.6 0 2.6 7.4" class="chd"/></g><g transform="translate(1425.1 886.3) scale(-1 1)"><ellipse cx="4.2" cy="0" rx="5.2" ry="8.6" class="oc"/><rect x="-6.6" y="-10.4" width="6" height="2.8" rx="1.2" class="oc"/><rect x="-6.6" y="7.6" width="6" height="2.8" rx="1.2" class="oc"/><path d="M-9.5 -8.4H-2Q5.2 -8.4 5.2 -1V1Q5.2 8.4 -2 8.4H-9.5Z" class="oc"/><path d="M2.6 -7.4Q5.6 0 2.6 7.4" class="chd"/></g><g transform="translate(1489.1 886.3) scale(1 1)"><ellipse cx="4.2" cy="0" rx="5.2" ry="8.6" class="oc"/><rect x="-6.6" y="-10.4" width="6" height="2.8" rx="1.2" class="oc"/><rect x="-6.6" y="7.6" width="6" height="2.8" rx="1.2" class="oc"/><path d="M-9.5 -8.4H-2Q5.2 -8.4 5.2 -1V1Q5.2 8.4 -2 8.4H-9.5Z" class="oc"/><path d="M2.6 -7.4Q5.6 0 2.6 7.4" class="chd"/></g><rect x="1434.5" y="753" width="45.2" height="152.3" class="dk_"/><rect x="1434.5" y="753" width="45.2" height="1.6" class="dtop"/><rect x="1455.7" y="753" width="2.8" height="152.3" class="part"/><rect x="1434.5" y="828.1" width="45.2" height="2.2" class="part"/><path d="M1453.9 753L1453.9 905.3" class="fl"/><path d="M1460.3 753L1460.3 905.3" class="fl"/><path d="M1434.5 903.5L1479.7 903.5" class="fl"/><g transform="translate(1528.6 585.3) scale(-1 1)"><ellipse cx="4.2" cy="0" rx="5.2" ry="8.6" class="oc"/><rect x="-6.6" y="-10.4" width="6" height="2.8" rx="1.2" class="oc"/><rect x="-6.6" y="7.6" width="6" height="2.8" rx="1.2" class="oc"/><path d="M-9.5 -8.4H-2Q5.2 -8.4 5.2 -1V1Q5.2 8.4 -2 8.4H-9.5Z" class="oc"/><path d="M2.6 -7.4Q5.6 0 2.6 7.4" class="chd"/></g><g transform="translate(1592.6 585.3) scale(1 1)"><ellipse cx="4.2" cy="0" rx="5.2" ry="8.6" class="oc"/><rect x="-6.6" y="-10.4" width="6" height="2.8" rx="1.2" class="oc"/><rect x="-6.6" y="7.6" width="6" height="2.8" rx="1.2" class="oc"/><path d="M-9.5 -8.4H-2Q5.2 -8.4 5.2 -1V1Q5.2 8.4 -2 8.4H-9.5Z" class="oc"/><path d="M2.6 -7.4Q5.6 0 2.6 7.4" class="chd"/></g><g transform="translate(1528.6 623.3) scale(-1 1)"><ellipse cx="4.2" cy="0" rx="5.2" ry="8.6" class="oc"/><rect x="-6.6" y="-10.4" width="6" height="2.8" rx="1.2" class="oc"/><rect x="-6.6" y="7.6" width="6" height="2.8" rx="1.2" class="oc"/><path d="M-9.5 -8.4H-2Q5.2 -8.4 5.2 -1V1Q5.2 8.4 -2 8.4H-9.5Z" class="oc"/><path d="M2.6 -7.4Q5.6 0 2.6 7.4" class="chd"/></g><g transform="translate(1592.6 623.3) scale(1 1)"><ellipse cx="4.2" cy="0" rx="5.2" ry="8.6" class="oc"/><rect x="-6.6" y="-10.4" width="6" height="2.8" rx="1.2" class="oc"/><rect x="-6.6" y="7.6" width="6" height="2.8" rx="1.2" class="oc"/><path d="M-9.5 -8.4H-2Q5.2 -8.4 5.2 -1V1Q5.2 8.4 -2 8.4H-9.5Z" class="oc"/><path d="M2.6 -7.4Q5.6 0 2.6 7.4" class="chd"/></g><g transform="translate(1528.6 661.3) scale(-1 1)"><ellipse cx="4.2" cy="0" rx="5.2" ry="8.6" class="oc"/><rect x="-6.6" y="-10.4" width="6" height="2.8" rx="1.2" class="oc"/><rect x="-6.6" y="7.6" width="6" height="2.8" rx="1.2" class="oc"/><path d="M-9.5 -8.4H-2Q5.2 -8.4 5.2 -1V1Q5.2 8.4 -2 8.4H-9.5Z" class="oc"/><path d="M2.6 -7.4Q5.6 0 2.6 7.4" class="chd"/></g><g transform="translate(1592.6 661.3) scale(1 1)"><ellipse cx="4.2" cy="0" rx="5.2" ry="8.6" class="oc"/><rect x="-6.6" y="-10.4" width="6" height="2.8" rx="1.2" class="oc"/><rect x="-6.6" y="7.6" width="6" height="2.8" rx="1.2" class="oc"/><path d="M-9.5 -8.4H-2Q5.2 -8.4 5.2 -1V1Q5.2 8.4 -2 8.4H-9.5Z" class="oc"/><path d="M2.6 -7.4Q5.6 0 2.6 7.4" class="chd"/></g><g transform="translate(1528.6 699.5) scale(-1 1)"><ellipse cx="4.2" cy="0" rx="5.2" ry="8.6" class="oc"/><rect x="-6.6" y="-10.4" width="6" height="2.8" rx="1.2" class="oc"/><rect x="-6.6" y="7.6" width="6" height="2.8" rx="1.2" class="oc"/><path d="M-9.5 -8.4H-2Q5.2 -8.4 5.2 -1V1Q5.2 8.4 -2 8.4H-9.5Z" class="oc"/><path d="M2.6 -7.4Q5.6 0 2.6 7.4" class="chd"/></g><g transform="translate(1592.6 699.5) scale(1 1)"><ellipse cx="4.2" cy="0" rx="5.2" ry="8.6" class="oc"/><rect x="-6.6" y="-10.4" width="6" height="2.8" rx="1.2" class="oc"/><rect x="-6.6" y="7.6" width="6" height="2.8" rx="1.2" class="oc"/><path d="M-9.5 -8.4H-2Q5.2 -8.4 5.2 -1V1Q5.2 8.4 -2 8.4H-9.5Z" class="oc"/><path d="M2.6 -7.4Q5.6 0 2.6 7.4" class="chd"/></g><rect x="1538" y="567.3" width="45.2" height="150.5" class="dk_"/><rect x="1538" y="567.3" width="45.2" height="1.6" class="dtop"/><rect x="1559.2" y="567.3" width="2.8" height="150.5" class="part"/><rect x="1538" y="640.9" width="45.2" height="2.2" class="part"/><path d="M1557.4 567.3L1557.4 717.8" class="fl"/><path d="M1563.8 567.3L1563.8 717.8" class="fl"/><path d="M1538 716L1583.2 716" class="fl"/><g transform="translate(1528.6 771.3) scale(-1 1)"><ellipse cx="4.2" cy="0" rx="5.2" ry="8.6" class="oc"/><rect x="-6.6" y="-10.4" width="6" height="2.8" rx="1.2" class="oc"/><rect x="-6.6" y="7.6" width="6" height="2.8" rx="1.2" class="oc"/><path d="M-9.5 -8.4H-2Q5.2 -8.4 5.2 -1V1Q5.2 8.4 -2 8.4H-9.5Z" class="oc"/><path d="M2.6 -7.4Q5.6 0 2.6 7.4" class="chd"/></g><g transform="translate(1592.6 771.3) scale(1 1)"><ellipse cx="4.2" cy="0" rx="5.2" ry="8.6" class="oc"/><rect x="-6.6" y="-10.4" width="6" height="2.8" rx="1.2" class="oc"/><rect x="-6.6" y="7.6" width="6" height="2.8" rx="1.2" class="oc"/><path d="M-9.5 -8.4H-2Q5.2 -8.4 5.2 -1V1Q5.2 8.4 -2 8.4H-9.5Z" class="oc"/><path d="M2.6 -7.4Q5.6 0 2.6 7.4" class="chd"/></g><g transform="translate(1528.6 810.1) scale(-1 1)"><ellipse cx="4.2" cy="0" rx="5.2" ry="8.6" class="oc"/><rect x="-6.6" y="-10.4" width="6" height="2.8" rx="1.2" class="oc"/><rect x="-6.6" y="7.6" width="6" height="2.8" rx="1.2" class="oc"/><path d="M-9.5 -8.4H-2Q5.2 -8.4 5.2 -1V1Q5.2 8.4 -2 8.4H-9.5Z" class="oc"/><path d="M2.6 -7.4Q5.6 0 2.6 7.4" class="chd"/></g><g transform="translate(1592.6 810.1) scale(1 1)"><ellipse cx="4.2" cy="0" rx="5.2" ry="8.6" class="oc"/><rect x="-6.6" y="-10.4" width="6" height="2.8" rx="1.2" class="oc"/><rect x="-6.6" y="7.6" width="6" height="2.8" rx="1.2" class="oc"/><path d="M-9.5 -8.4H-2Q5.2 -8.4 5.2 -1V1Q5.2 8.4 -2 8.4H-9.5Z" class="oc"/><path d="M2.6 -7.4Q5.6 0 2.6 7.4" class="chd"/></g><g transform="translate(1528.6 848) scale(-1 1)"><ellipse cx="4.2" cy="0" rx="5.2" ry="8.6" class="oc"/><rect x="-6.6" y="-10.4" width="6" height="2.8" rx="1.2" class="oc"/><rect x="-6.6" y="7.6" width="6" height="2.8" rx="1.2" class="oc"/><path d="M-9.5 -8.4H-2Q5.2 -8.4 5.2 -1V1Q5.2 8.4 -2 8.4H-9.5Z" class="oc"/><path d="M2.6 -7.4Q5.6 0 2.6 7.4" class="chd"/></g><g transform="translate(1592.6 848) scale(1 1)"><ellipse cx="4.2" cy="0" rx="5.2" ry="8.6" class="oc"/><rect x="-6.6" y="-10.4" width="6" height="2.8" rx="1.2" class="oc"/><rect x="-6.6" y="7.6" width="6" height="2.8" rx="1.2" class="oc"/><path d="M-9.5 -8.4H-2Q5.2 -8.4 5.2 -1V1Q5.2 8.4 -2 8.4H-9.5Z" class="oc"/><path d="M2.6 -7.4Q5.6 0 2.6 7.4" class="chd"/></g><g transform="translate(1528.6 886.3) scale(-1 1)"><ellipse cx="4.2" cy="0" rx="5.2" ry="8.6" class="oc"/><rect x="-6.6" y="-10.4" width="6" height="2.8" rx="1.2" class="oc"/><rect x="-6.6" y="7.6" width="6" height="2.8" rx="1.2" class="oc"/><path d="M-9.5 -8.4H-2Q5.2 -8.4 5.2 -1V1Q5.2 8.4 -2 8.4H-9.5Z" class="oc"/><path d="M2.6 -7.4Q5.6 0 2.6 7.4" class="chd"/></g><g transform="translate(1592.6 886.3) scale(1 1)"><ellipse cx="4.2" cy="0" rx="5.2" ry="8.6" class="oc"/><rect x="-6.6" y="-10.4" width="6" height="2.8" rx="1.2" class="oc"/><rect x="-6.6" y="7.6" width="6" height="2.8" rx="1.2" class="oc"/><path d="M-9.5 -8.4H-2Q5.2 -8.4 5.2 -1V1Q5.2 8.4 -2 8.4H-9.5Z" class="oc"/><path d="M2.6 -7.4Q5.6 0 2.6 7.4" class="chd"/></g><rect x="1538" y="753" width="45.2" height="152.3" class="dk_"/><rect x="1538" y="753" width="45.2" height="1.6" class="dtop"/><rect x="1559.2" y="753" width="2.8" height="152.3" class="part"/><rect x="1538" y="828.1" width="45.2" height="2.2" class="part"/><path d="M1557.4 753L1557.4 905.3" class="fl"/><path d="M1563.8 753L1563.8 905.3" class="fl"/><path d="M1538 903.5L1583.2 903.5" class="fl"/><circle cx="1234.4" cy="943.3" r="5.4" class="ch"/><circle cx="1262.4" cy="943.3" r="5.4" class="ch"/><circle cx="1234.4" cy="971.9" r="5.4" class="ch"/><circle cx="1262.4" cy="971.9" r="5.4" class="ch"/><circle cx="1248" cy="957.5" r="13.6" class="fu"/><circle cx="1318.1" cy="937.9" r="5.4" class="ch"/><circle cx="1298.2" cy="957.5" r="5.4" class="ch"/><circle cx="1318.1" cy="977.3" r="5.4" class="ch"/><circle cx="1338" cy="957.5" r="5.4" class="ch"/><circle cx="1318.1" cy="957.5" r="13.6" class="fu"/><circle cx="1373.5" cy="942.5" r="5.4" class="ch"/><circle cx="1401.5" cy="943.3" r="5.4" class="ch"/><circle cx="1401.5" cy="971.9" r="5.4" class="ch"/><circle cx="1373.5" cy="971.9" r="5.4" class="ch"/><circle cx="1388" cy="957.5" r="13.6" class="fu"/><path d="M1450.7 945.8L1452.2 934Q1449.2 931 1450.2 929.7Q1457.2 932.5 1464.2 929.7Q1465.2 931 1462.2 934L1463.7 945.8Z" class="ch"/><path d="M1474.4 945.8L1475.9 934Q1472.9 931 1473.9 929.7Q1480.9 932.5 1487.9 929.7Q1488.9 931 1485.9 934L1487.4 945.8Z" class="ch"/><path d="M1513.8 945.8L1515.3 934Q1512.3 931 1513.3 929.7Q1520.3 932.5 1527.3 929.7Q1528.3 931 1525.3 934L1526.8 945.8Z" class="ch"/><path d="M1537.2 945.8L1538.7 934Q1535.7 931 1536.7 929.7Q1543.7 932.5 1550.7 929.7Q1551.7 931 1548.7 934L1550.2 945.8Z" class="ch"/><rect x="1445" y="945.8" width="47.6" height="23.9" class="fu"/><path d="M1469.5 945.8L1469.5 969.7" class="fl"/><rect x="1508.4" y="945.8" width="47.5" height="23.9" class="fu"/><path d="M1532.5 945.8L1532.5 969.7" class="fl"/><rect x="1442.3" y="969.7" width="113.6" height="19.6" class="fu"/><path d="M1499.4 969.7L1499.4 989.3" class="fl"/><path d="M1442.3 984.6L1555.9 984.6" class="fl"/><rect x="1579" y="938.4" width="21" height="57.1" class="fu"/><path d="M1581.5 938.4L1581.5 995.5" class="fl"/><path d="M1584.5 938.4L1584.5 995.5" class="fl"/></g>
<g><rect x="303" y="313.5" width="64.7" height="13.5" rx="6.75" class="lb"/><text x="335.35" y="324.51" class="lt" font-size="12" textLength="50.52" lengthAdjust="spacingAndGlyphs">MTG ″F″</text><rect x="303" y="511.25" width="64.7" height="13.35" rx="6.68" class="lb"/><text x="335.35" y="522.18" class="lt" font-size="12" textLength="50.68" lengthAdjust="spacingAndGlyphs">MTG ″G″</text><rect x="651.25" y="296.5" width="66.25" height="13.1" rx="6.55" class="lb"/><text x="684.38" y="307.31" class="lt" font-size="12" textLength="52.49" lengthAdjust="spacingAndGlyphs">MTG ″E″</text><rect x="1018.25" y="314" width="65.5" height="13.75" rx="6.88" class="lb"/><text x="1051" y="325.13" class="lt" font-size="12" textLength="51.06" lengthAdjust="spacingAndGlyphs">MTG ″A″</text><rect x="679.2" y="594.5" width="65.8" height="13.5" rx="6.75" class="lb"/><text x="712.1" y="605.51" class="lt" font-size="12" textLength="51.62" lengthAdjust="spacingAndGlyphs">MTG ″B″</text><rect x="678.6" y="764.4" width="65.4" height="13.6" rx="6.8" class="lb"/><text x="711.3" y="775.46" class="lt" font-size="12" textLength="51.12" lengthAdjust="spacingAndGlyphs">MTG ″C″</text><rect x="671.4" y="978.5" width="64.8" height="13.3" rx="6.65" class="lb"/><text x="703.8" y="989.41" class="lt" font-size="12" textLength="50.84" lengthAdjust="spacingAndGlyphs">MTG ″D″</text><rect x="805.5" y="514.5" width="115" height="12.3" rx="6.15" class="lb"/><text x="863" y="524.66" class="lt" font-size="11.3" textLength="102.09" lengthAdjust="spacingAndGlyphs">RELAXING ZONE</text><rect x="837" y="827" width="99.8" height="11.8" rx="5.9" class="lb"/><text x="886.9" y="836.88" class="lt" font-size="11.2" textLength="87.41" lengthAdjust="spacingAndGlyphs">TEAM THINKING</text><rect x="1260" y="545.75" width="90" height="11.95" rx="5.98" class="lb"/><text x="1305" y="555.74" class="lt" font-size="11.3" textLength="77.45" lengthAdjust="spacingAndGlyphs">HIGH&#160;&#160;FORCUS</text><rect x="1285.2" y="916.1" width="64.7" height="13.7" rx="6.85" class="lb"/><text x="1317.55" y="927.42" class="lt" font-size="12.6" textLength="50.32" lengthAdjust="spacingAndGlyphs">CREATE</text><g fill="#000" aria-label="10F"><path d="M272.6 910.2H285.6V976.4H272.6V919.2L261.6 922.6L261.1 920.2Z"/><path fill-rule="evenodd" d="M322.6 908.8C341 908.8 352.6 923.6 352.6 943.3C352.6 963 341 977.8 322.6 977.8C304.200 977.8 292.6 963 292.6 943.3C292.6 923.6 304.200 908.8 322.6 908.8ZM322.6 914.6C312 914.6 306.4 926.5 306.4 943.3C306.4 960.1 312 972 322.6 972C333.200 972 338.8 960.1 338.8 943.3C338.8 926.5 333.200 914.6 322.6 914.6Z"/><path d="M357.8 910.2H394.6L393.6 919.4H370.8V936.6H390.4L389.6 946H370.8V976.4H357.8Z"/></g></g>
<g><circle cx="297.1" cy="366.3" r="14.3" class="pc" fill="#7b70d9"/><text x="297.1" y="369.9" class="pn" textLength="30.9" lengthAdjust="spacingAndGlyphs">ブラン</text><circle cx="306.1" cy="375.7" r="5.3" fill="#c8c8c8"/><circle cx="486.7" cy="373.4" r="14.3" class="pc" fill="#4fb482"/><text x="486.7" y="377" class="pn" textLength="20.6" lengthAdjust="spacingAndGlyphs">山村</text><circle cx="495.7" cy="382.8" r="5.3" fill="#c8c8c8"/><circle cx="685.3" cy="353.6" r="14.3" class="pc" fill="#4fb482"/><text x="685.3" y="357.2" class="pn" textLength="30.9" lengthAdjust="spacingAndGlyphs">ローラ</text><circle cx="694.3" cy="363" r="5.3" fill="#ffcb12"/><circle cx="297.1" cy="468.6" r="14.3" class="pc" fill="#3dbbdb"/><text x="297.1" y="472.2" class="pn" textLength="30.9" lengthAdjust="spacingAndGlyphs">ケビン</text><circle cx="306.1" cy="478" r="5.3" fill="#ffcb12"/><circle cx="940.4" cy="396.4" r="14.3" class="pc" fill="#7b70d9"/><text x="940.4" y="400" class="pn" textLength="20.6" lengthAdjust="spacingAndGlyphs">岡本</text><circle cx="949.4" cy="405.8" r="5.3" fill="#8bc34a"/><circle cx="1141.2" cy="340.5" r="14.3" class="pc" fill="#f1c142"/><text x="1141.2" y="344.1" class="pn" textLength="30.9" lengthAdjust="spacingAndGlyphs">ジェレ</text><circle cx="1150.2" cy="349.9" r="5.3" fill="#8bc34a"/><circle cx="1377" cy="340.4" r="14.3" class="pc" fill="#7b70d9"/><text x="1377" y="344" class="pn" textLength="20.6" lengthAdjust="spacingAndGlyphs">澤出</text><circle cx="1386" cy="349.8" r="5.3" fill="#ffffff"/><circle cx="1490.6" cy="343.8" r="14.3" class="pc" fill="#f1c142"/><text x="1490.6" y="347.4" class="pn" textLength="20.6" lengthAdjust="spacingAndGlyphs">青柳</text><circle cx="1499.6" cy="353.2" r="5.3" fill="#8bc34a"/><circle cx="1549.3" cy="342.2" r="14.3" class="pc" fill="#f1c142"/><text x="1549.3" y="345.8" class="pn" textLength="20.6" lengthAdjust="spacingAndGlyphs">リヤ</text><circle cx="1558.3" cy="351.6" r="5.3" fill="#8bc34a"/><circle cx="1579.9" cy="342.2" r="14.3" class="pc" fill="#3dbbdb"/><text x="1579.9" y="345.8" class="pn" textLength="20.6" lengthAdjust="spacingAndGlyphs">ホセ</text><circle cx="1588.9" cy="351.6" r="5.3" fill="#8bc34a"/><circle cx="1243.3" cy="475.3" r="14.3" class="pc" fill="#3dbbdb"/><text x="1243.3" y="478.9" class="pn" textLength="10.3" lengthAdjust="spacingAndGlyphs">榊</text><circle cx="1252.3" cy="484.7" r="5.3" fill="#8bc34a"/><circle cx="582.5" cy="536.5" r="14.3" class="pc" fill="#f593b5"/><text x="582.5" y="540.1" class="pn" textLength="30.9" lengthAdjust="spacingAndGlyphs">ケネス</text><circle cx="591.5" cy="545.9" r="5.3" fill="#ffffff"/><circle cx="613.6" cy="536.5" r="14.3" class="pc" fill="#b5cc54"/><text x="613.6" y="540.1" class="pn" textLength="20.6" lengthAdjust="spacingAndGlyphs">三澤</text><circle cx="622.6" cy="545.9" r="5.3" fill="#8bc34a"/><circle cx="644.5" cy="536.5" r="14.3" class="pc" fill="#f593b5"/><text x="644.5" y="540.1" class="pn" textLength="10.3" lengthAdjust="spacingAndGlyphs">呉</text><circle cx="653.5" cy="545.9" r="5.3" fill="#8bc34a"/><circle cx="675.6" cy="536.5" r="14.3" class="pc" fill="#3dbbdb"/><text x="675.6" y="540.1" class="pn" textLength="20.6" lengthAdjust="spacingAndGlyphs">秋山</text><circle cx="684.6" cy="545.9" r="5.3" fill="#ffffff"/><circle cx="870" cy="561.4" r="14.3" class="pc" fill="#f1c142"/><text x="870" y="565" class="pn" textLength="20.6" lengthAdjust="spacingAndGlyphs">瀬川</text><circle cx="879" cy="570.8" r="5.3" fill="#ffffff"/><circle cx="901.6" cy="561.3" r="14.3" class="pc" fill="#7b70d9"/><text x="901.6" y="564.9" class="pn" textLength="20.6" lengthAdjust="spacingAndGlyphs">竹内</text><circle cx="910.6" cy="570.7" r="5.3" fill="#ffcb12"/><circle cx="870.3" cy="592.6" r="14.3" class="pc" fill="#4fb482"/><text x="870.3" y="596.2" class="pn" textLength="20.6" lengthAdjust="spacingAndGlyphs">高柳</text><circle cx="879.3" cy="602" r="5.3" fill="#ffcb12"/><circle cx="1029.2" cy="589.2" r="14.3" class="pc" fill="#f593b5"/><text x="1029.2" y="592.8" class="pn" textLength="20.6" lengthAdjust="spacingAndGlyphs">藤井</text><circle cx="1038.2" cy="598.6" r="5.3" fill="#ffffff"/><circle cx="1060.2" cy="589.2" r="14.3" class="pc" fill="#4fb482"/><text x="1060.2" y="592.8" class="pn" textLength="20.6" lengthAdjust="spacingAndGlyphs">佐竹</text><circle cx="1069.2" cy="598.6" r="5.3" fill="#f1f1f1"/><circle cx="1029.2" cy="620.4" r="14.3" class="pc" fill="#3dbbdb"/><text x="1029.2" y="624" class="pn" textLength="20.6" lengthAdjust="spacingAndGlyphs">高砂</text><circle cx="1038.2" cy="629.8" r="5.3" fill="#c42b4a"/><circle cx="1132.1" cy="606.3" r="14.3" class="pc" fill="#7b70d9"/><text x="1132.1" y="609.9" class="pn" textLength="20.6" lengthAdjust="spacingAndGlyphs">仙台</text><circle cx="1141.1" cy="615.7" r="5.3" fill="#8bc34a"/><circle cx="1162.9" cy="606.3" r="14.3" class="pc" fill="#b5cc54"/><text x="1162.9" y="609.9" class="pn" textLength="30.9" lengthAdjust="spacingAndGlyphs">ヴァネ</text><circle cx="1171.9" cy="615.7" r="5.3" fill="#8bc34a"/><circle cx="1029.2" cy="681.4" r="14.3" class="pc" fill="#f1c142"/><text x="1029.2" y="685" class="pn" textLength="20.6" lengthAdjust="spacingAndGlyphs">青木</text><circle cx="1038.2" cy="690.8" r="5.3" fill="#c8c8c8"/><circle cx="1060.4" cy="681.4" r="14.3" class="pc" fill="#b5cc54"/><text x="1060.4" y="685" class="pn" textLength="30.9" lengthAdjust="spacingAndGlyphs">パイン</text><circle cx="1069.4" cy="690.8" r="5.3" fill="#ffcb12"/><circle cx="1132.1" cy="667.9" r="14.3" class="pc" fill="#f593b5"/><text x="1132.1" y="671.5" class="pn" textLength="30.9" lengthAdjust="spacingAndGlyphs">ポール</text><circle cx="1141.1" cy="677.3" r="5.3" fill="#8bc34a"/><circle cx="1162.9" cy="667.9" r="14.3" class="pc" fill="#7b70d9"/><text x="1162.9" y="671.5" class="pn" textLength="20.6" lengthAdjust="spacingAndGlyphs">洲崎</text><circle cx="1171.9" cy="677.3" r="5.3" fill="#ffcb12"/><circle cx="1132.1" cy="698.7" r="14.3" class="pc" fill="#f593b5"/><text x="1132.1" y="702.3" class="pn" textLength="20.6" lengthAdjust="spacingAndGlyphs">村上</text><circle cx="1141.1" cy="708.1" r="5.3" fill="#ffcb12"/><circle cx="870.4" cy="672.5" r="14.3" class="pc" fill="#f593b5"/><text x="870.4" y="676.1" class="pn" textLength="20.6" lengthAdjust="spacingAndGlyphs">小川</text><circle cx="879.4" cy="681.9" r="5.3" fill="#ffcb12"/><circle cx="901.6" cy="672.5" r="14.3" class="pc" fill="#b5cc54"/><text x="901.6" y="676.1" class="pn" textLength="20.6" lengthAdjust="spacingAndGlyphs">伊藤</text><circle cx="910.6" cy="681.9" r="5.3" fill="#c8c8c8"/><circle cx="870.4" cy="703.1" r="14.3" class="pc" fill="#b5cc54"/><text x="870.4" y="706.7" class="pn" textLength="20.6" lengthAdjust="spacingAndGlyphs">藤島</text><circle cx="879.4" cy="712.5" r="5.3" fill="#8bc34a"/><circle cx="783.3" cy="690.4" r="14.3" class="pc" fill="#3dbbdb"/><text x="783.3" y="694" class="pn" textLength="30.9" lengthAdjust="spacingAndGlyphs">綾小路</text><circle cx="792.3" cy="699.8" r="5.3" fill="#8bc34a"/><circle cx="814.3" cy="690.4" r="14.3" class="pc" fill="#7b70d9"/><text x="814.3" y="694" class="pn" textLength="20.6" lengthAdjust="spacingAndGlyphs">斉藤</text><circle cx="823.3" cy="699.8" r="5.3" fill="#ffffff"/><circle cx="783.3" cy="776.2" r="14.3" class="pc" fill="#7b70d9"/><text x="783.3" y="779.8" class="pn" textLength="20.6" lengthAdjust="spacingAndGlyphs">瀬山</text><circle cx="792.3" cy="785.6" r="5.3" fill="#f1f1f1"/><circle cx="814.3" cy="776.2" r="14.3" class="pc" fill="#7b70d9"/><text x="814.3" y="779.8" class="pn" textLength="30.9" lengthAdjust="spacingAndGlyphs">ニーナ</text><circle cx="823.3" cy="785.6" r="5.3" fill="#8bc34a"/><circle cx="870.4" cy="777.3" r="14.3" class="pc" fill="#f593b5"/><text x="870.4" y="780.9" class="pn" textLength="20.6" lengthAdjust="spacingAndGlyphs">山本</text><circle cx="879.4" cy="786.7" r="5.3" fill="#ffcb12"/><circle cx="901.6" cy="777.3" r="14.3" class="pc" fill="#3dbbdb"/><text x="901.6" y="780.9" class="pn" textLength="20.6" lengthAdjust="spacingAndGlyphs">森崎</text><circle cx="910.6" cy="786.7" r="5.3" fill="#8bc34a"/><circle cx="1030.3" cy="792.3" r="14.3" class="pc" fill="#4fb482"/><text x="1030.3" y="795.9" class="pn" textLength="20.6" lengthAdjust="spacingAndGlyphs">アン</text><circle cx="1039.3" cy="801.7" r="5.3" fill="#ffcb12"/><circle cx="1061.2" cy="792.3" r="14.3" class="pc" fill="#3dbbdb"/><text x="1061.2" y="795.9" class="pn" textLength="20.6" lengthAdjust="spacingAndGlyphs">吉岡</text><circle cx="1070.2" cy="801.7" r="5.3" fill="#ffcb12"/><circle cx="1029.5" cy="856" r="14.3" class="pc" fill="#7b70d9"/><text x="1029.5" y="859.6" class="pn" textLength="10.3" lengthAdjust="spacingAndGlyphs">辰</text><circle cx="1038.5" cy="865.4" r="5.3" fill="#ffcb12"/><circle cx="1060.3" cy="856" r="14.3" class="pc" fill="#b5cc54"/><text x="1060.3" y="859.6" class="pn" textLength="30.9" lengthAdjust="spacingAndGlyphs">コリー</text><circle cx="1069.3" cy="865.4" r="5.3" fill="#8bc34a"/><circle cx="1029.5" cy="886.5" r="14.3" class="pc" fill="#f593b5"/><text x="1029.5" y="890.1" class="pn" textLength="20.6" lengthAdjust="spacingAndGlyphs">岩崎</text><circle cx="1038.5" cy="895.9" r="5.3" fill="#ffcb12"/><circle cx="1133.2" cy="856" r="14.3" class="pc" fill="#7b70d9"/><text x="1133.2" y="859.6" class="pn" textLength="20.6" lengthAdjust="spacingAndGlyphs">小原</text><circle cx="1142.2" cy="865.4" r="5.3" fill="#ffcb12"/><circle cx="1164.6" cy="856" r="14.3" class="pc" fill="#f593b5"/><text x="1164.6" y="859.6" class="pn" textLength="20.6" lengthAdjust="spacingAndGlyphs">石田</text><circle cx="1173.6" cy="865.4" r="5.3" fill="#f1f1f1"/><circle cx="1133.2" cy="886.5" r="14.3" class="pc" fill="#b5cc54"/><text x="1133.2" y="890.1" class="pn" textLength="20.6" lengthAdjust="spacingAndGlyphs">弓井</text><circle cx="1142.2" cy="895.9" r="5.3" fill="#ffffff"/><circle cx="776.3" cy="876.4" r="14.3" class="pc" fill="#4fb482"/><text x="776.3" y="880" class="pn" textLength="20.6" lengthAdjust="spacingAndGlyphs">蓑島</text><circle cx="785.3" cy="885.8" r="5.3" fill="#8bc34a"/><circle cx="807.7" cy="876.4" r="14.3" class="pc" fill="#f1c142"/><text x="807.7" y="880" class="pn" textLength="20.6" lengthAdjust="spacingAndGlyphs">松村</text><circle cx="816.7" cy="885.8" r="5.3" fill="#ffffff"/><circle cx="776.3" cy="907.6" r="14.3" class="pc" fill="#4fb482"/><text x="776.3" y="911.2" class="pn" textLength="30.9" lengthAdjust="spacingAndGlyphs">ペリル</text><circle cx="785.3" cy="917" r="5.3" fill="#ffffff"/><circle cx="886.4" cy="891.5" r="14.3" class="pc" fill="#3dbbdb"/><text x="886.4" y="895.1" class="pn" textLength="20.6" lengthAdjust="spacingAndGlyphs">石塚</text><circle cx="895.4" cy="900.9" r="5.3" fill="#ffffff"/><circle cx="917.1" cy="891.5" r="14.3" class="pc" fill="#3dbbdb"/><text x="917.1" y="895.1" class="pn" textLength="30.9" lengthAdjust="spacingAndGlyphs">ディビ</text><circle cx="926.1" cy="900.9" r="5.3" fill="#8bc34a"/><circle cx="847.7" cy="968.5" r="14.3" class="pc" fill="#f1c142"/><text x="847.7" y="972.1" class="pn" textLength="30.9" lengthAdjust="spacingAndGlyphs">リリー</text><circle cx="856.7" cy="977.9" r="5.3" fill="#f1f1f1"/><circle cx="878.5" cy="968.5" r="14.3" class="pc" fill="#3dbbdb"/><text x="878.5" y="972.1" class="pn" textLength="20.6" lengthAdjust="spacingAndGlyphs">松岡</text><circle cx="887.5" cy="977.9" r="5.3" fill="#8bc34a"/><circle cx="1009.7" cy="955.6" r="14.3" class="pc" fill="#b5cc54"/><text x="1009.7" y="959.2" class="pn" textLength="20.6" lengthAdjust="spacingAndGlyphs">加藤</text><circle cx="1018.7" cy="965" r="5.3" fill="#8bc34a"/><circle cx="1040.1" cy="955.6" r="14.3" class="pc" fill="#f1c142"/><text x="1040.1" y="959.2" class="pn" textLength="30.9" lengthAdjust="spacingAndGlyphs">イヴォ</text><circle cx="1049.1" cy="965" r="5.3" fill="#c42b4a"/><circle cx="1009.7" cy="986.6" r="14.3" class="pc" fill="#b5cc54"/><text x="1009.7" y="990.2" class="pn" textLength="20.6" lengthAdjust="spacingAndGlyphs">下田</text><circle cx="1018.7" cy="996" r="5.3" fill="#f1f1f1"/><circle cx="1040.1" cy="986.6" r="14.3" class="pc" fill="#b5cc54"/><text x="1040.1" y="990.2" class="pn" textLength="20.6" lengthAdjust="spacingAndGlyphs">勝沼</text><circle cx="1049.1" cy="996" r="5.3" fill="#ffcb12"/><circle cx="1093.4" cy="971.1" r="14.3" class="pc" fill="#7b70d9"/><text x="1093.4" y="974.7" class="pn" textLength="30.9" lengthAdjust="spacingAndGlyphs">ネリー</text><circle cx="1102.4" cy="980.5" r="5.3" fill="#c42b4a"/><circle cx="1235.3" cy="609.1" r="14.3" class="pc" fill="#4fb482"/><text x="1235.3" y="612.7" class="pn" textLength="20.6" lengthAdjust="spacingAndGlyphs">鎌田</text><circle cx="1244.3" cy="618.5" r="5.3" fill="#ffcb12"/><circle cx="1266.5" cy="609.1" r="14.3" class="pc" fill="#f1c142"/><text x="1266.5" y="612.7" class="pn" textLength="20.6" lengthAdjust="spacingAndGlyphs">ビル</text><circle cx="1275.5" cy="618.5" r="5.3" fill="#8bc34a"/><circle cx="1356.5" cy="606.3" r="14.3" class="pc" fill="#4fb482"/><text x="1356.5" y="609.9" class="pn" textLength="20.6" lengthAdjust="spacingAndGlyphs">石川</text><circle cx="1365.5" cy="615.7" r="5.3" fill="#ffffff"/><circle cx="1456.5" cy="607.6" r="14.3" class="pc" fill="#3dbbdb"/><text x="1456.5" y="611.2" class="pn" textLength="20.6" lengthAdjust="spacingAndGlyphs">川崎</text><circle cx="1465.5" cy="617" r="5.3" fill="#8bc34a"/><circle cx="1545.4" cy="605.4" r="14.3" class="pc" fill="#b5cc54"/><text x="1545.4" y="609" class="pn" textLength="20.6" lengthAdjust="spacingAndGlyphs">玉木</text><circle cx="1554.4" cy="614.8" r="5.3" fill="#8bc34a"/><circle cx="1576.5" cy="605.4" r="14.3" class="pc" fill="#7b70d9"/><text x="1576.5" y="609" class="pn" textLength="20.6" lengthAdjust="spacingAndGlyphs">畑岡</text><circle cx="1585.5" cy="614.8" r="5.3" fill="#8bc34a"/><circle cx="1340.5" cy="685.4" r="14.3" class="pc" fill="#f593b5"/><text x="1340.5" y="689" class="pn" textLength="30.9" lengthAdjust="spacingAndGlyphs">テヤナ</text><circle cx="1349.5" cy="694.8" r="5.3" fill="#ffcb12"/><circle cx="1371.6" cy="685.4" r="14.3" class="pc" fill="#7b70d9"/><text x="1371.6" y="689" class="pn" textLength="20.6" lengthAdjust="spacingAndGlyphs">浅見</text><circle cx="1380.6" cy="694.8" r="5.3" fill="#8bc34a"/><circle cx="1443.4" cy="669" r="14.3" class="pc" fill="#7b70d9"/><text x="1443.4" y="672.6" class="pn" textLength="20.6" lengthAdjust="spacingAndGlyphs">鎌田</text><circle cx="1452.4" cy="678.4" r="5.3" fill="#f1f1f1"/><circle cx="1474.7" cy="669" r="14.3" class="pc" fill="#4fb482"/><text x="1474.7" y="672.6" class="pn" textLength="20.6" lengthAdjust="spacingAndGlyphs">山城</text><circle cx="1483.7" cy="678.4" r="5.3" fill="#f1f1f1"/><circle cx="1443.4" cy="699.3" r="14.3" class="pc" fill="#f593b5"/><text x="1443.4" y="702.9" class="pn" textLength="20.6" lengthAdjust="spacingAndGlyphs">小川</text><circle cx="1452.4" cy="708.7" r="5.3" fill="#ffcb12"/><circle cx="1235.3" cy="775.3" r="14.3" class="pc" fill="#3dbbdb"/><text x="1235.3" y="778.9" class="pn" textLength="20.6" lengthAdjust="spacingAndGlyphs">北村</text><circle cx="1244.3" cy="784.7" r="5.3" fill="#f1f1f1"/><circle cx="1266.5" cy="775.3" r="14.3" class="pc" fill="#3dbbdb"/><text x="1266.5" y="778.9" class="pn" textLength="30.9" lengthAdjust="spacingAndGlyphs">ロビン</text><circle cx="1275.5" cy="784.7" r="5.3" fill="#ffffff"/><circle cx="1235.3" cy="806.4" r="14.3" class="pc" fill="#f1c142"/><text x="1235.3" y="810" class="pn" textLength="20.6" lengthAdjust="spacingAndGlyphs">増田</text><circle cx="1244.3" cy="815.8" r="5.3" fill="#8bc34a"/><circle cx="1235.3" cy="871.5" r="14.3" class="pc" fill="#7b70d9"/><text x="1235.3" y="875.1" class="pn" textLength="20.6" lengthAdjust="spacingAndGlyphs">道下</text><circle cx="1244.3" cy="880.9" r="5.3" fill="#8bc34a"/><circle cx="1266.5" cy="871.5" r="14.3" class="pc" fill="#f593b5"/><text x="1266.5" y="875.1" class="pn" textLength="20.6" lengthAdjust="spacingAndGlyphs">渡邉</text><circle cx="1275.5" cy="880.9" r="5.3" fill="#c42b4a"/><circle cx="1354.2" cy="789.9" r="14.3" class="pc" fill="#b5cc54"/><text x="1354.2" y="793.5" class="pn" textLength="20.6" lengthAdjust="spacingAndGlyphs">山下</text><circle cx="1363.2" cy="799.3" r="5.3" fill="#ffcb12"/><circle cx="1341.9" cy="870.3" r="14.3" class="pc" fill="#b5cc54"/><text x="1341.9" y="873.9" class="pn" textLength="20.6" lengthAdjust="spacingAndGlyphs">神津</text><circle cx="1350.9" cy="879.7" r="5.3" fill="#ffffff"/><circle cx="1372.8" cy="870.3" r="14.3" class="pc" fill="#f593b5"/><text x="1372.8" y="873.9" class="pn" textLength="20.6" lengthAdjust="spacingAndGlyphs">森田</text><circle cx="1381.8" cy="879.7" r="5.3" fill="#8bc34a"/><circle cx="1455.4" cy="789.9" r="14.3" class="pc" fill="#f593b5"/><text x="1455.4" y="793.5" class="pn" textLength="20.6" lengthAdjust="spacingAndGlyphs">井上</text><circle cx="1464.4" cy="799.3" r="5.3" fill="#ffcb12"/><circle cx="1441" cy="854.3" r="14.3" class="pc" fill="#86a5cf"/><text x="1441" y="857.9" class="pn" textLength="20.6" lengthAdjust="spacingAndGlyphs">栗原</text><circle cx="1450" cy="863.7" r="5.3" fill="#f1f1f1"/><circle cx="1471.7" cy="854.3" r="14.3" class="pc" fill="#f593b5"/><text x="1471.7" y="857.9" class="pn" textLength="20.6" lengthAdjust="spacingAndGlyphs">佐藤</text><circle cx="1480.7" cy="863.7" r="5.3" fill="#8bc34a"/><circle cx="1441" cy="885.5" r="14.3" class="pc" fill="#3dbbdb"/><text x="1441" y="889.1" class="pn" textLength="20.6" lengthAdjust="spacingAndGlyphs">渡辺</text><circle cx="1450" cy="894.9" r="5.3" fill="#c8c8c8"/><circle cx="1530.3" cy="792.4" r="14.3" class="pc" fill="#4fb482"/><text x="1530.3" y="796" class="pn" textLength="20.6" lengthAdjust="spacingAndGlyphs">上田</text><circle cx="1539.3" cy="801.8" r="5.3" fill="#ffffff"/><circle cx="1560.6" cy="792.4" r="14.3" class="pc" fill="#3dbbdb"/><text x="1560.6" y="796" class="pn" textLength="20.6" lengthAdjust="spacingAndGlyphs">津田</text><circle cx="1569.6" cy="801.8" r="5.3" fill="#ffcb12"/><circle cx="1591.8" cy="792.4" r="14.3" class="pc" fill="#f593b5"/><text x="1591.8" y="796" class="pn" textLength="20.6" lengthAdjust="spacingAndGlyphs">板谷</text><circle cx="1600.8" cy="801.8" r="5.3" fill="#ffcb12"/><circle cx="1544.3" cy="854.3" r="14.3" class="pc" fill="#7b70d9"/><text x="1544.3" y="857.9" class="pn" textLength="20.6" lengthAdjust="spacingAndGlyphs">原田</text><circle cx="1553.3" cy="863.7" r="5.3" fill="#c42b4a"/><circle cx="1575.5" cy="854.3" r="14.3" class="pc" fill="#3dbbdb"/><text x="1575.5" y="857.9" class="pn" textLength="20.6" lengthAdjust="spacingAndGlyphs">越永</text><circle cx="1584.5" cy="863.7" r="5.3" fill="#c42b4a"/><circle cx="1544.3" cy="885.5" r="14.3" class="pc" fill="#4fb482"/><text x="1544.3" y="889.1" class="pn" textLength="20.6" lengthAdjust="spacingAndGlyphs">正木</text><circle cx="1553.3" cy="894.9" r="5.3" fill="#ffffff"/><circle cx="1267.8" cy="958.3" r="14.3" class="pc" fill="#3dbbdb"/><text x="1267.8" y="961.9" class="pn" textLength="20.6" lengthAdjust="spacingAndGlyphs">石田</text><circle cx="1276.8" cy="967.7" r="5.3" fill="#ffffff"/><circle cx="1343.1" cy="960.2" r="14.3" class="pc" fill="#b5cc54"/><text x="1343.1" y="963.8" class="pn" textLength="30.9" lengthAdjust="spacingAndGlyphs">小笠原</text><circle cx="1352.1" cy="969.6" r="5.3" fill="#ffcb12"/><circle cx="1374.3" cy="960.2" r="14.3" class="pc" fill="#f1c142"/><text x="1374.3" y="963.8" class="pn" textLength="20.6" lengthAdjust="spacingAndGlyphs">高橋</text><circle cx="1383.3" cy="969.6" r="5.3" fill="#8bc34a"/><circle cx="615.2" cy="893.4" r="14.3" class="pc" fill="#f593b5"/><text x="615.2" y="897" class="pn" textLength="20.6" lengthAdjust="spacingAndGlyphs">稲垣</text><circle cx="624.2" cy="902.8" r="5.3" fill="#8bc34a"/><circle cx="646.1" cy="893.4" r="14.3" class="pc" fill="#f1c142"/><text x="646.1" y="897" class="pn" textLength="20.6" lengthAdjust="spacingAndGlyphs">水戸</text><circle cx="655.1" cy="902.8" r="5.3" fill="#c42b4a"/></g>
</g>
<path d="M232.5 1002V199.3H1596" fill="none" stroke="#d6d6d6" stroke-width="1"/>
<path d="M232.5 1002H1596" fill="none" stroke="#dedede" stroke-width="1"/>
</svg>
<div id="legend"></div>
<div class="lc" style="left:1615.8px;top:156.3px;background:#b5cc54">A</div>
<span style="left:1665.5px;top:161.25px;font-size:17.5px;">総務人事部</span>
<div class="lc" style="left:1626.5px;top:193.63px;background:#b5cc54">A</div>
<span style="left:1665.5px;top:198.58px;font-size:17.5px;">総務課</span>
<div class="lc" style="left:1626.5px;top:230.96px;background:#b5cc54">A</div>
<span style="left:1665.5px;top:235.91px;font-size:17.5px;">人事課</span>
<div class="lc" style="left:1615.8px;top:268.29px;background:#f1c142">A</div>
<span style="left:1665.5px;top:273.24px;font-size:17.5px;">営業本部</span>
<div class="lc" style="left:1626.5px;top:305.62px;background:#f1c142">A</div>
<span style="left:1665.5px;top:310.57px;font-size:17.5px;">営業一課</span>
<div class="lc" style="left:1626.5px;top:342.95px;background:#f1c142">A</div>
<span style="left:1665.5px;top:347.9px;font-size:17.5px;">営業二課</span>
<div class="lc" style="left:1615.8px;top:380.28px;background:#7b70d9">A</div>
<span style="left:1665.5px;top:385.23px;font-size:17.5px;">ソリューション事業本部</span>
<div class="lc" style="left:1626.5px;top:417.61px;background:#7b70d9">A</div>
<span style="left:1665.5px;top:422.56px;font-size:17.5px;">事業一課</span>
<div class="lc" style="left:1626.5px;top:454.94px;background:#7b70d9">A</div>
<span style="left:1665.5px;top:459.89px;font-size:17.5px;">事業二課</span>
<div class="lc" style="left:1615.8px;top:492.27px;background:#4fb482">A</div>
<span style="left:1665.5px;top:497.22px;font-size:17.5px;">コンサルティング部</span>
<div class="lc" style="left:1626.5px;top:529.6px;background:#4fb482">A</div>
<span style="left:1665.5px;top:534.55px;font-size:17.5px;">総合コンサルティング課</span>
<div class="lc" style="left:1626.5px;top:566.93px;background:#4fb482">A</div>
<span style="left:1665.5px;top:571.88px;font-size:17.5px;">戦略コンサルティング課</span>
<div class="lc" style="left:1615.8px;top:604.26px;background:#f593b5">A</div>
<span style="left:1665.5px;top:609.21px;font-size:17.5px;">システム開発部</span>
<div class="lc" style="left:1626.5px;top:641.59px;background:#f593b5">A</div>
<span style="left:1665.5px;top:646.54px;font-size:17.5px;">開発課</span>
<div class="lc" style="left:1626.5px;top:678.92px;background:#f593b5">A</div>
<span style="left:1665.5px;top:683.87px;font-size:17.5px;">設計課</span>
<div class="lc" style="left:1615.8px;top:716.25px;background:#3dbbdb">A</div>
<span style="left:1665.5px;top:721.2px;font-size:17.5px;">サービスセンター</span>
<div class="lc" style="left:1626.5px;top:753.58px;background:#3dbbdb">A</div>
<span style="left:1665.5px;top:758.53px;font-size:17.5px;">インバウンド課</span>
<div class="lc" style="left:1626.5px;top:790.91px;background:#3dbbdb">A</div>
<span style="left:1665.5px;top:795.86px;font-size:17.5px;">アウトバウンド課</span>
<div class="lc" style="left:1615.8px;top:828.24px;background:#86a5cf">A</div>
<span style="left:1665.5px;top:833.19px;font-size:17.5px;">その他(未設定)</span>
<span style="left:1622px;top:870.35px;font-size:17.5px;">プレゼンス表示アイコン</span>
<div class="sd" style="left:1616px;top:909.3px;background:#8bc34a;"></div>
<span style="left:1666px;top:905.05px;font-size:17.5px;">連絡可能</span>
<div class="sd" style="left:1616px;top:944.5px;background:#c42b4a;"></div>
<span style="left:1666px;top:940.25px;font-size:17.5px;">取り込み中</span>
<div class="sd" style="left:1616px;top:979.7px;background:#fff;border:3px solid #c42b4a;"></div>
<span style="left:1666px;top:975.45px;font-size:17.5px;">応答不可</span>
<div class="sd" style="left:1616px;top:1014.9px;background:#fff;border:3px solid #ffcb12;"></div>
<span style="left:1666px;top:1010.65px;font-size:17.5px;">一時退席中</span>
</body></html>
